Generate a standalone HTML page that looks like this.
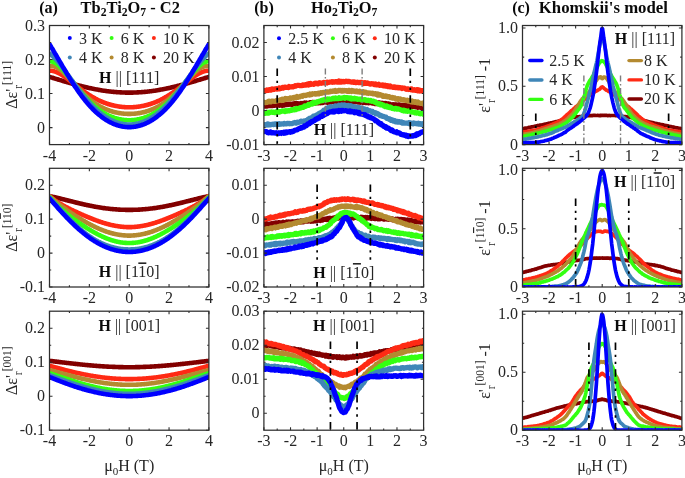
<!DOCTYPE html>
<html><head><meta charset="utf-8"><style>
html,body{margin:0;padding:0;background:#fff;width:685px;height:478px;overflow:hidden}
svg{display:block;will-change:transform}
text{font-family:"Liberation Serif", serif;fill:#262626}
text[font-weight=bold],tspan[font-weight=bold]{fill:#0a0a0a}
</style></head><body>
<svg width="685" height="478" viewBox="0 0 685 478">
<rect width="685" height="478" fill="#fff"/>
<clipPath id="cpa0"><rect x="49.5" y="25.5" width="159.4" height="119.1"/></clipPath>
<g clip-path="url(#cpa0)" fill="none" stroke-linejoin="round" stroke-linecap="round">
<polyline points="49.5,76.9 50.1,77.1 50.7,77.3 51.3,77.4 52.0,77.6 52.6,77.8 53.2,78.0 53.8,78.2 54.4,78.4 55.0,78.6 55.7,78.8 56.3,78.9 56.9,79.1 57.5,79.3 58.1,79.5 58.7,79.7 59.3,79.9 60.0,80.1 60.6,80.2 61.2,80.4 61.8,80.6 62.4,80.8 63.0,81.0 63.7,81.2 64.3,81.4 64.9,81.5 65.5,81.7 66.1,81.9 66.7,82.1 67.3,82.3 68.0,82.4 68.6,82.6 69.2,82.8 69.8,83.0 70.4,83.1 71.0,83.3 71.7,83.5 72.3,83.7 72.9,83.8 73.5,84.0 74.1,84.2 74.7,84.4 75.3,84.5 76.0,84.7 76.6,84.9 77.2,85.0 77.8,85.2 78.4,85.3 79.0,85.5 79.7,85.7 80.3,85.8 80.9,86.0 81.5,86.1 82.1,86.3 82.7,86.4 83.3,86.6 84.0,86.7 84.6,86.9 85.2,87.0 85.8,87.2 86.4,87.3 87.0,87.5 87.7,87.6 88.3,87.8 88.9,87.9 89.5,88.0 90.1,88.2 90.7,88.3 91.4,88.4 92.0,88.6 92.6,88.7 93.2,88.8 93.8,88.9 94.4,89.1 95.0,89.2 95.7,89.3 96.3,89.4 96.9,89.5 97.5,89.6 98.1,89.7 98.7,89.9 99.4,90.0 100.0,90.1 100.6,90.2 101.2,90.3 101.8,90.4 102.4,90.5 103.0,90.6 103.7,90.7 104.3,90.7 104.9,90.8 105.5,90.9 106.1,91.0 106.7,91.1 107.4,91.2 108.0,91.2 108.6,91.3 109.2,91.4 109.8,91.5 110.4,91.5 111.0,91.6 111.7,91.7 112.3,91.7 112.9,91.8 113.5,91.9 114.1,91.9 114.7,92.0 115.4,92.0 116.0,92.1 116.6,92.1 117.2,92.2 117.8,92.2 118.4,92.3 119.0,92.3 119.7,92.3 120.3,92.4 120.9,92.4 121.5,92.4 122.1,92.5 122.7,92.5 123.4,92.5 124.0,92.5 124.6,92.5 125.2,92.6 125.8,92.6 126.4,92.6 127.0,92.6 127.7,92.6 128.3,92.6 128.9,92.6 129.5,92.6 130.1,92.6 130.7,92.6 131.4,92.6 132.0,92.6 132.6,92.6 133.2,92.6 133.8,92.5 134.4,92.5 135.0,92.5 135.7,92.5 136.3,92.5 136.9,92.4 137.5,92.4 138.1,92.4 138.7,92.3 139.4,92.3 140.0,92.3 140.6,92.2 141.2,92.2 141.8,92.1 142.4,92.1 143.0,92.0 143.7,92.0 144.3,91.9 144.9,91.9 145.5,91.8 146.1,91.7 146.7,91.7 147.4,91.6 148.0,91.5 148.6,91.5 149.2,91.4 149.8,91.3 150.4,91.2 151.0,91.2 151.7,91.1 152.3,91.0 152.9,90.9 153.5,90.8 154.1,90.7 154.7,90.7 155.4,90.6 156.0,90.5 156.6,90.4 157.2,90.3 157.8,90.2 158.4,90.1 159.0,90.0 159.7,89.9 160.3,89.7 160.9,89.6 161.5,89.5 162.1,89.4 162.7,89.3 163.4,89.2 164.0,89.1 164.6,88.9 165.2,88.8 165.8,88.7 166.4,88.6 167.0,88.4 167.7,88.3 168.3,88.2 168.9,88.0 169.5,87.9 170.1,87.8 170.7,87.6 171.4,87.5 172.0,87.3 172.6,87.2 173.2,87.0 173.8,86.9 174.4,86.7 175.1,86.6 175.7,86.4 176.3,86.3 176.9,86.1 177.5,86.0 178.1,85.8 178.7,85.7 179.4,85.5 180.0,85.3 180.6,85.2 181.2,85.0 181.8,84.9 182.4,84.7 183.1,84.5 183.7,84.4 184.3,84.2 184.9,84.0 185.5,83.8 186.1,83.7 186.7,83.5 187.4,83.3 188.0,83.1 188.6,83.0 189.2,82.8 189.8,82.6 190.4,82.4 191.1,82.3 191.7,82.1 192.3,81.9 192.9,81.7 193.5,81.5 194.1,81.4 194.7,81.2 195.4,81.0 196.0,80.8 196.6,80.6 197.2,80.4 197.8,80.2 198.4,80.1 199.1,79.9 199.7,79.7 200.3,79.5 200.9,79.3 201.5,79.1 202.1,78.9 202.7,78.8 203.4,78.6 204.0,78.4 204.6,78.2 205.2,78.0 205.8,77.8 206.4,77.6 207.1,77.4 207.7,77.3 208.3,77.1 208.9,76.9" stroke="#820000" stroke-width="4.6"/>
<polyline points="49.5,70.8 50.1,70.7 50.7,70.7 51.3,70.8 52.0,70.8 52.6,70.9 53.2,71.1 53.8,71.2 54.4,71.4 55.0,71.6 55.7,71.8 56.3,72.0 56.9,72.3 57.5,72.6 58.1,72.8 58.7,73.2 59.3,73.5 60.0,73.8 60.6,74.2 61.2,74.5 61.8,74.9 62.4,75.3 63.0,75.7 63.7,76.1 64.3,76.6 64.9,77.0 65.5,77.4 66.1,77.9 66.7,78.3 67.3,78.8 68.0,79.2 68.6,79.7 69.2,80.2 69.8,80.7 70.4,81.1 71.0,81.6 71.7,82.1 72.3,82.6 72.9,83.0 73.5,83.5 74.1,84.0 74.7,84.5 75.3,85.0 76.0,85.5 76.6,85.9 77.2,86.4 77.8,86.9 78.4,87.4 79.0,87.8 79.7,88.3 80.3,88.8 80.9,89.2 81.5,89.7 82.1,90.1 82.7,90.6 83.3,91.0 84.0,91.5 84.6,91.9 85.2,92.3 85.8,92.7 86.4,93.2 87.0,93.6 87.7,94.0 88.3,94.4 88.9,94.8 89.5,95.2 90.1,95.6 90.7,95.9 91.4,96.3 92.0,96.7 92.6,97.0 93.2,97.4 93.8,97.7 94.4,98.1 95.0,98.4 95.7,98.8 96.3,99.1 96.9,99.4 97.5,99.7 98.1,100.0 98.7,100.3 99.4,100.6 100.0,100.9 100.6,101.1 101.2,101.4 101.8,101.7 102.4,101.9 103.0,102.2 103.7,102.4 104.3,102.7 104.9,102.9 105.5,103.1 106.1,103.3 106.7,103.6 107.4,103.8 108.0,104.0 108.6,104.2 109.2,104.3 109.8,104.5 110.4,104.7 111.0,104.9 111.7,105.0 112.3,105.2 112.9,105.3 113.5,105.5 114.1,105.6 114.7,105.8 115.4,105.9 116.0,106.0 116.6,106.1 117.2,106.2 117.8,106.3 118.4,106.4 119.0,106.5 119.7,106.6 120.3,106.7 120.9,106.8 121.5,106.8 122.1,106.9 122.7,107.0 123.4,107.0 124.0,107.1 124.6,107.1 125.2,107.2 125.8,107.2 126.4,107.2 127.0,107.2 127.7,107.3 128.3,107.3 128.9,107.3 129.5,107.3 130.1,107.3 130.7,107.3 131.4,107.2 132.0,107.2 132.6,107.2 133.2,107.2 133.8,107.1 134.4,107.1 135.0,107.0 135.7,107.0 136.3,106.9 136.9,106.8 137.5,106.8 138.1,106.7 138.7,106.6 139.4,106.5 140.0,106.4 140.6,106.3 141.2,106.2 141.8,106.1 142.4,106.0 143.0,105.9 143.7,105.8 144.3,105.6 144.9,105.5 145.5,105.3 146.1,105.2 146.7,105.0 147.4,104.9 148.0,104.7 148.6,104.5 149.2,104.3 149.8,104.2 150.4,104.0 151.0,103.8 151.7,103.6 152.3,103.3 152.9,103.1 153.5,102.9 154.1,102.7 154.7,102.4 155.4,102.2 156.0,101.9 156.6,101.7 157.2,101.4 157.8,101.1 158.4,100.9 159.0,100.6 159.7,100.3 160.3,100.0 160.9,99.7 161.5,99.4 162.1,99.1 162.7,98.8 163.4,98.4 164.0,98.1 164.6,97.7 165.2,97.4 165.8,97.0 166.4,96.7 167.0,96.3 167.7,95.9 168.3,95.6 168.9,95.2 169.5,94.8 170.1,94.4 170.7,94.0 171.4,93.6 172.0,93.2 172.6,92.7 173.2,92.3 173.8,91.9 174.4,91.5 175.1,91.0 175.7,90.6 176.3,90.1 176.9,89.7 177.5,89.2 178.1,88.8 178.7,88.3 179.4,87.8 180.0,87.4 180.6,86.9 181.2,86.4 181.8,85.9 182.4,85.5 183.1,85.0 183.7,84.5 184.3,84.0 184.9,83.5 185.5,83.0 186.1,82.6 186.7,82.1 187.4,81.6 188.0,81.1 188.6,80.7 189.2,80.2 189.8,79.7 190.4,79.2 191.1,78.8 191.7,78.3 192.3,77.9 192.9,77.4 193.5,77.0 194.1,76.6 194.7,76.1 195.4,75.7 196.0,75.3 196.6,74.9 197.2,74.5 197.8,74.2 198.4,73.8 199.1,73.5 199.7,73.2 200.3,72.8 200.9,72.6 201.5,72.3 202.1,72.0 202.7,71.8 203.4,71.6 204.0,71.4 204.6,71.2 205.2,71.1 205.8,70.9 206.4,70.8 207.1,70.8 207.7,70.7 208.3,70.7 208.9,70.8" stroke="#ff2a14" stroke-width="4.6"/>
<polyline points="49.5,66.3 50.1,66.2 50.7,66.1 51.3,66.0 52.0,66.0 52.6,66.0 53.2,66.1 53.8,66.3 54.4,66.4 55.0,66.7 55.7,66.9 56.3,67.2 56.9,67.5 57.5,67.9 58.1,68.2 58.7,68.6 59.3,69.1 60.0,69.5 60.6,70.0 61.2,70.5 61.8,71.0 62.4,71.6 63.0,72.1 63.7,72.7 64.3,73.3 64.9,73.9 65.5,74.5 66.1,75.1 66.7,75.7 67.3,76.4 68.0,77.0 68.6,77.7 69.2,78.4 69.8,79.0 70.4,79.7 71.0,80.4 71.7,81.0 72.3,81.7 72.9,82.4 73.5,83.1 74.1,83.7 74.7,84.4 75.3,85.1 76.0,85.8 76.6,86.4 77.2,87.1 77.8,87.7 78.4,88.4 79.0,89.0 79.7,89.7 80.3,90.3 80.9,91.0 81.5,91.6 82.1,92.2 82.7,92.8 83.3,93.4 84.0,94.0 84.6,94.6 85.2,95.2 85.8,95.8 86.4,96.3 87.0,96.9 87.7,97.4 88.3,98.0 88.9,98.5 89.5,99.0 90.1,99.5 90.7,100.0 91.4,100.5 92.0,101.0 92.6,101.4 93.2,101.9 93.8,102.3 94.4,102.8 95.0,103.2 95.7,103.6 96.3,104.1 96.9,104.5 97.5,104.8 98.1,105.2 98.7,105.6 99.4,106.0 100.0,106.3 100.6,106.7 101.2,107.0 101.8,107.3 102.4,107.6 103.0,107.9 103.7,108.2 104.3,108.5 104.9,108.8 105.5,109.1 106.1,109.3 106.7,109.6 107.4,109.8 108.0,110.1 108.6,110.3 109.2,110.5 109.8,110.7 110.4,111.0 111.0,111.1 111.7,111.3 112.3,111.5 112.9,111.7 113.5,111.9 114.1,112.0 114.7,112.2 115.4,112.3 116.0,112.5 116.6,112.6 117.2,112.7 117.8,112.8 118.4,112.9 119.0,113.1 119.7,113.1 120.3,113.2 120.9,113.3 121.5,113.4 122.1,113.5 122.7,113.5 123.4,113.6 124.0,113.7 124.6,113.7 125.2,113.7 125.8,113.8 126.4,113.8 127.0,113.8 127.7,113.9 128.3,113.9 128.9,113.9 129.5,113.9 130.1,113.9 130.7,113.9 131.4,113.8 132.0,113.8 132.6,113.8 133.2,113.7 133.8,113.7 134.4,113.7 135.0,113.6 135.7,113.5 136.3,113.5 136.9,113.4 137.5,113.3 138.1,113.2 138.7,113.1 139.4,113.1 140.0,112.9 140.6,112.8 141.2,112.7 141.8,112.6 142.4,112.5 143.0,112.3 143.7,112.2 144.3,112.0 144.9,111.9 145.5,111.7 146.1,111.5 146.7,111.3 147.4,111.1 148.0,111.0 148.6,110.7 149.2,110.5 149.8,110.3 150.4,110.1 151.0,109.8 151.7,109.6 152.3,109.3 152.9,109.1 153.5,108.8 154.1,108.5 154.7,108.2 155.4,107.9 156.0,107.6 156.6,107.3 157.2,107.0 157.8,106.7 158.4,106.3 159.0,106.0 159.7,105.6 160.3,105.2 160.9,104.8 161.5,104.5 162.1,104.1 162.7,103.6 163.4,103.2 164.0,102.8 164.6,102.3 165.2,101.9 165.8,101.4 166.4,101.0 167.0,100.5 167.7,100.0 168.3,99.5 168.9,99.0 169.5,98.5 170.1,98.0 170.7,97.4 171.4,96.9 172.0,96.3 172.6,95.8 173.2,95.2 173.8,94.6 174.4,94.0 175.1,93.4 175.7,92.8 176.3,92.2 176.9,91.6 177.5,91.0 178.1,90.3 178.7,89.7 179.4,89.0 180.0,88.4 180.6,87.7 181.2,87.1 181.8,86.4 182.4,85.8 183.1,85.1 183.7,84.4 184.3,83.7 184.9,83.1 185.5,82.4 186.1,81.7 186.7,81.0 187.4,80.4 188.0,79.7 188.6,79.0 189.2,78.4 189.8,77.7 190.4,77.0 191.1,76.4 191.7,75.7 192.3,75.1 192.9,74.5 193.5,73.9 194.1,73.3 194.7,72.7 195.4,72.1 196.0,71.6 196.6,71.0 197.2,70.5 197.8,70.0 198.4,69.5 199.1,69.1 199.7,68.6 200.3,68.2 200.9,67.9 201.5,67.5 202.1,67.2 202.7,66.9 203.4,66.7 204.0,66.4 204.6,66.3 205.2,66.1 205.8,66.0 206.4,66.0 207.1,66.0 207.7,66.1 208.3,66.2 208.9,66.3" stroke="#b48a30" stroke-width="4.6"/>
<polyline points="49.5,61.2 50.1,61.2 50.7,61.3 51.3,61.3 52.0,61.5 52.6,61.7 53.2,61.9 53.8,62.2 54.4,62.5 55.0,62.8 55.7,63.2 56.3,63.6 56.9,64.1 57.5,64.5 58.1,65.0 58.7,65.6 59.3,66.1 60.0,66.7 60.6,67.3 61.2,67.9 61.8,68.6 62.4,69.2 63.0,69.9 63.7,70.6 64.3,71.3 64.9,72.0 65.5,72.7 66.1,73.5 66.7,74.2 67.3,75.0 68.0,75.8 68.6,76.5 69.2,77.3 69.8,78.1 70.4,78.9 71.0,79.6 71.7,80.4 72.3,81.2 72.9,82.0 73.5,82.8 74.1,83.6 74.7,84.4 75.3,85.1 76.0,85.9 76.6,86.7 77.2,87.5 77.8,88.2 78.4,89.0 79.0,89.8 79.7,90.5 80.3,91.3 80.9,92.0 81.5,92.7 82.1,93.5 82.7,94.2 83.3,94.9 84.0,95.6 84.6,96.3 85.2,97.0 85.8,97.7 86.4,98.3 87.0,99.0 87.7,99.6 88.3,100.3 88.9,100.9 89.5,101.5 90.1,102.1 90.7,102.7 91.4,103.3 92.0,103.9 92.6,104.5 93.2,105.0 93.8,105.6 94.4,106.1 95.0,106.6 95.7,107.1 96.3,107.6 96.9,108.1 97.5,108.6 98.1,109.1 98.7,109.5 99.4,110.0 100.0,110.4 100.6,110.9 101.2,111.3 101.8,111.7 102.4,112.1 103.0,112.5 103.7,112.8 104.3,113.2 104.9,113.6 105.5,113.9 106.1,114.3 106.7,114.6 107.4,114.9 108.0,115.2 108.6,115.5 109.2,115.8 109.8,116.1 110.4,116.3 111.0,116.6 111.7,116.8 112.3,117.1 112.9,117.3 113.5,117.5 114.1,117.7 114.7,117.9 115.4,118.1 116.0,118.3 116.6,118.5 117.2,118.6 117.8,118.8 118.4,119.0 119.0,119.1 119.7,119.2 120.3,119.3 120.9,119.5 121.5,119.6 122.1,119.7 122.7,119.8 123.4,119.8 124.0,119.9 124.6,120.0 125.2,120.0 125.8,120.1 126.4,120.1 127.0,120.2 127.7,120.2 128.3,120.2 128.9,120.2 129.5,120.2 130.1,120.2 130.7,120.2 131.4,120.2 132.0,120.1 132.6,120.1 133.2,120.0 133.8,120.0 134.4,119.9 135.0,119.8 135.7,119.8 136.3,119.7 136.9,119.6 137.5,119.5 138.1,119.3 138.7,119.2 139.4,119.1 140.0,119.0 140.6,118.8 141.2,118.6 141.8,118.5 142.4,118.3 143.0,118.1 143.7,117.9 144.3,117.7 144.9,117.5 145.5,117.3 146.1,117.1 146.7,116.8 147.4,116.6 148.0,116.3 148.6,116.1 149.2,115.8 149.8,115.5 150.4,115.2 151.0,114.9 151.7,114.6 152.3,114.3 152.9,113.9 153.5,113.6 154.1,113.2 154.7,112.8 155.4,112.5 156.0,112.1 156.6,111.7 157.2,111.3 157.8,110.9 158.4,110.4 159.0,110.0 159.7,109.5 160.3,109.1 160.9,108.6 161.5,108.1 162.1,107.6 162.7,107.1 163.4,106.6 164.0,106.1 164.6,105.6 165.2,105.0 165.8,104.5 166.4,103.9 167.0,103.3 167.7,102.7 168.3,102.1 168.9,101.5 169.5,100.9 170.1,100.3 170.7,99.6 171.4,99.0 172.0,98.3 172.6,97.7 173.2,97.0 173.8,96.3 174.4,95.6 175.1,94.9 175.7,94.2 176.3,93.5 176.9,92.7 177.5,92.0 178.1,91.3 178.7,90.5 179.4,89.8 180.0,89.0 180.6,88.2 181.2,87.5 181.8,86.7 182.4,85.9 183.1,85.1 183.7,84.4 184.3,83.6 184.9,82.8 185.5,82.0 186.1,81.2 186.7,80.4 187.4,79.6 188.0,78.9 188.6,78.1 189.2,77.3 189.8,76.5 190.4,75.8 191.1,75.0 191.7,74.2 192.3,73.5 192.9,72.7 193.5,72.0 194.1,71.3 194.7,70.6 195.4,69.9 196.0,69.2 196.6,68.6 197.2,67.9 197.8,67.3 198.4,66.7 199.1,66.1 199.7,65.6 200.3,65.0 200.9,64.5 201.5,64.1 202.1,63.6 202.7,63.2 203.4,62.8 204.0,62.5 204.6,62.2 205.2,61.9 205.8,61.7 206.4,61.5 207.1,61.3 207.7,61.3 208.3,61.2 208.9,61.2" stroke="#33ff11" stroke-width="4.6"/>
<polyline points="49.5,53.4 50.1,53.9 50.7,54.3 51.3,54.8 52.0,55.4 52.6,55.9 53.2,56.5 53.8,57.1 54.4,57.7 55.0,58.4 55.7,59.0 56.3,59.7 56.9,60.4 57.5,61.1 58.1,61.9 58.7,62.6 59.3,63.4 60.0,64.2 60.6,64.9 61.2,65.7 61.8,66.5 62.4,67.3 63.0,68.2 63.7,69.0 64.3,69.8 64.9,70.7 65.5,71.5 66.1,72.4 66.7,73.2 67.3,74.1 68.0,74.9 68.6,75.8 69.2,76.6 69.8,77.5 70.4,78.4 71.0,79.2 71.7,80.1 72.3,80.9 72.9,81.8 73.5,82.6 74.1,83.5 74.7,84.3 75.3,85.2 76.0,86.0 76.6,86.9 77.2,87.7 77.8,88.5 78.4,89.3 79.0,90.1 79.7,90.9 80.3,91.7 80.9,92.5 81.5,93.3 82.1,94.1 82.7,94.9 83.3,95.6 84.0,96.4 84.6,97.1 85.2,97.9 85.8,98.6 86.4,99.3 87.0,100.1 87.7,100.8 88.3,101.5 88.9,102.1 89.5,102.8 90.1,103.5 90.7,104.1 91.4,104.8 92.0,105.4 92.6,106.1 93.2,106.7 93.8,107.3 94.4,107.9 95.0,108.5 95.7,109.0 96.3,109.6 96.9,110.2 97.5,110.7 98.1,111.3 98.7,111.8 99.4,112.3 100.0,112.8 100.6,113.3 101.2,113.8 101.8,114.2 102.4,114.7 103.0,115.2 103.7,115.6 104.3,116.0 104.9,116.4 105.5,116.8 106.1,117.2 106.7,117.6 107.4,118.0 108.0,118.4 108.6,118.7 109.2,119.1 109.8,119.4 110.4,119.7 111.0,120.0 111.7,120.3 112.3,120.6 112.9,120.9 113.5,121.2 114.1,121.4 114.7,121.7 115.4,121.9 116.0,122.1 116.6,122.4 117.2,122.6 117.8,122.8 118.4,123.0 119.0,123.1 119.7,123.3 120.3,123.4 120.9,123.6 121.5,123.7 122.1,123.8 122.7,124.0 123.4,124.1 124.0,124.2 124.6,124.2 125.2,124.3 125.8,124.4 126.4,124.4 127.0,124.5 127.7,124.5 128.3,124.5 128.9,124.5 129.5,124.5 130.1,124.5 130.7,124.5 131.4,124.5 132.0,124.4 132.6,124.4 133.2,124.3 133.8,124.2 134.4,124.2 135.0,124.1 135.7,124.0 136.3,123.8 136.9,123.7 137.5,123.6 138.1,123.4 138.7,123.3 139.4,123.1 140.0,123.0 140.6,122.8 141.2,122.6 141.8,122.4 142.4,122.1 143.0,121.9 143.7,121.7 144.3,121.4 144.9,121.2 145.5,120.9 146.1,120.6 146.7,120.3 147.4,120.0 148.0,119.7 148.6,119.4 149.2,119.1 149.8,118.7 150.4,118.4 151.0,118.0 151.7,117.6 152.3,117.2 152.9,116.8 153.5,116.4 154.1,116.0 154.7,115.6 155.4,115.2 156.0,114.7 156.6,114.2 157.2,113.8 157.8,113.3 158.4,112.8 159.0,112.3 159.7,111.8 160.3,111.3 160.9,110.7 161.5,110.2 162.1,109.6 162.7,109.0 163.4,108.5 164.0,107.9 164.6,107.3 165.2,106.7 165.8,106.1 166.4,105.4 167.0,104.8 167.7,104.1 168.3,103.5 168.9,102.8 169.5,102.1 170.1,101.5 170.7,100.8 171.4,100.1 172.0,99.3 172.6,98.6 173.2,97.9 173.8,97.1 174.4,96.4 175.1,95.6 175.7,94.9 176.3,94.1 176.9,93.3 177.5,92.5 178.1,91.7 178.7,90.9 179.4,90.1 180.0,89.3 180.6,88.5 181.2,87.7 181.8,86.9 182.4,86.0 183.1,85.2 183.7,84.3 184.3,83.5 184.9,82.6 185.5,81.8 186.1,80.9 186.7,80.1 187.4,79.2 188.0,78.4 188.6,77.5 189.2,76.6 189.8,75.8 190.4,74.9 191.1,74.1 191.7,73.2 192.3,72.4 192.9,71.5 193.5,70.7 194.1,69.8 194.7,69.0 195.4,68.2 196.0,67.3 196.6,66.5 197.2,65.7 197.8,64.9 198.4,64.2 199.1,63.4 199.7,62.6 200.3,61.9 200.9,61.1 201.5,60.4 202.1,59.7 202.7,59.0 203.4,58.4 204.0,57.7 204.6,57.1 205.2,56.5 205.8,55.9 206.4,55.4 207.1,54.8 207.7,54.3 208.3,53.9 208.9,53.4" stroke="#3f86b8" stroke-width="4.6"/>
<polyline points="49.5,44.3 50.1,45.3 50.7,46.3 51.3,47.3 52.0,48.3 52.6,49.3 53.2,50.3 53.8,51.4 54.4,52.4 55.0,53.4 55.7,54.5 56.3,55.5 56.9,56.6 57.5,57.7 58.1,58.7 58.7,59.8 59.3,60.8 60.0,61.9 60.6,62.9 61.2,64.0 61.8,65.0 62.4,66.1 63.0,67.1 63.7,68.2 64.3,69.2 64.9,70.3 65.5,71.3 66.1,72.3 66.7,73.4 67.3,74.4 68.0,75.4 68.6,76.4 69.2,77.4 69.8,78.4 70.4,79.4 71.0,80.4 71.7,81.3 72.3,82.3 72.9,83.3 73.5,84.2 74.1,85.2 74.7,86.1 75.3,87.0 76.0,87.9 76.6,88.8 77.2,89.7 77.8,90.6 78.4,91.5 79.0,92.4 79.7,93.2 80.3,94.1 80.9,94.9 81.5,95.8 82.1,96.6 82.7,97.4 83.3,98.2 84.0,99.0 84.6,99.7 85.2,100.5 85.8,101.3 86.4,102.0 87.0,102.7 87.7,103.5 88.3,104.2 88.9,104.9 89.5,105.6 90.1,106.3 90.7,106.9 91.4,107.6 92.0,108.2 92.6,108.9 93.2,109.5 93.8,110.1 94.4,110.7 95.0,111.3 95.7,111.9 96.3,112.4 96.9,113.0 97.5,113.5 98.1,114.1 98.7,114.6 99.4,115.1 100.0,115.6 100.6,116.1 101.2,116.6 101.8,117.0 102.4,117.5 103.0,117.9 103.7,118.4 104.3,118.8 104.9,119.2 105.5,119.6 106.1,120.0 106.7,120.4 107.4,120.7 108.0,121.1 108.6,121.5 109.2,121.8 109.8,122.1 110.4,122.4 111.0,122.7 111.7,123.0 112.3,123.3 112.9,123.6 113.5,123.9 114.1,124.1 114.7,124.4 115.4,124.6 116.0,124.8 116.6,125.0 117.2,125.2 117.8,125.4 118.4,125.6 119.0,125.8 119.7,125.9 120.3,126.1 120.9,126.2 121.5,126.3 122.1,126.5 122.7,126.6 123.4,126.7 124.0,126.8 124.6,126.8 125.2,126.9 125.8,127.0 126.4,127.0 127.0,127.1 127.7,127.1 128.3,127.1 128.9,127.1 129.5,127.1 130.1,127.1 130.7,127.1 131.4,127.1 132.0,127.0 132.6,127.0 133.2,126.9 133.8,126.8 134.4,126.8 135.0,126.7 135.7,126.6 136.3,126.5 136.9,126.3 137.5,126.2 138.1,126.1 138.7,125.9 139.4,125.8 140.0,125.6 140.6,125.4 141.2,125.2 141.8,125.0 142.4,124.8 143.0,124.6 143.7,124.4 144.3,124.1 144.9,123.9 145.5,123.6 146.1,123.3 146.7,123.0 147.4,122.7 148.0,122.4 148.6,122.1 149.2,121.8 149.8,121.5 150.4,121.1 151.0,120.7 151.7,120.4 152.3,120.0 152.9,119.6 153.5,119.2 154.1,118.8 154.7,118.4 155.4,117.9 156.0,117.5 156.6,117.0 157.2,116.6 157.8,116.1 158.4,115.6 159.0,115.1 159.7,114.6 160.3,114.1 160.9,113.5 161.5,113.0 162.1,112.4 162.7,111.9 163.4,111.3 164.0,110.7 164.6,110.1 165.2,109.5 165.8,108.9 166.4,108.2 167.0,107.6 167.7,106.9 168.3,106.3 168.9,105.6 169.5,104.9 170.1,104.2 170.7,103.5 171.4,102.7 172.0,102.0 172.6,101.3 173.2,100.5 173.8,99.7 174.4,99.0 175.1,98.2 175.7,97.4 176.3,96.6 176.9,95.8 177.5,94.9 178.1,94.1 178.7,93.2 179.4,92.4 180.0,91.5 180.6,90.6 181.2,89.7 181.8,88.8 182.4,87.9 183.1,87.0 183.7,86.1 184.3,85.2 184.9,84.2 185.5,83.3 186.1,82.3 186.7,81.3 187.4,80.4 188.0,79.4 188.6,78.4 189.2,77.4 189.8,76.4 190.4,75.4 191.1,74.4 191.7,73.4 192.3,72.3 192.9,71.3 193.5,70.3 194.1,69.2 194.7,68.2 195.4,67.1 196.0,66.1 196.6,65.0 197.2,64.0 197.8,62.9 198.4,61.9 199.1,60.8 199.7,59.8 200.3,58.7 200.9,57.7 201.5,56.6 202.1,55.5 202.7,54.5 203.4,53.4 204.0,52.4 204.6,51.4 205.2,50.3 205.8,49.3 206.4,48.3 207.1,47.3 207.7,46.3 208.3,45.3 208.9,44.3" stroke="#0000ff" stroke-width="4.6"/>
</g>
<clipPath id="cpa1"><rect x="49.5" y="168.3" width="159.4" height="118.69999999999999"/></clipPath>
<g clip-path="url(#cpa1)" fill="none" stroke-linejoin="round" stroke-linecap="round">
<polyline points="49.5,196.1 50.1,196.2 50.7,196.4 51.3,196.5 52.0,196.6 52.6,196.8 53.2,196.9 53.8,197.0 54.4,197.2 55.0,197.3 55.7,197.5 56.3,197.6 56.9,197.7 57.5,197.9 58.1,198.0 58.7,198.2 59.3,198.3 60.0,198.5 60.6,198.6 61.2,198.8 61.8,198.9 62.4,199.1 63.0,199.3 63.7,199.4 64.3,199.6 64.9,199.7 65.5,199.9 66.1,200.0 66.7,200.2 67.3,200.3 68.0,200.5 68.6,200.7 69.2,200.8 69.8,201.0 70.4,201.1 71.0,201.3 71.7,201.4 72.3,201.6 72.9,201.7 73.5,201.9 74.1,202.1 74.7,202.2 75.3,202.4 76.0,202.5 76.6,202.7 77.2,202.8 77.8,203.0 78.4,203.1 79.0,203.3 79.7,203.4 80.3,203.5 80.9,203.7 81.5,203.8 82.1,204.0 82.7,204.1 83.3,204.3 84.0,204.4 84.6,204.5 85.2,204.7 85.8,204.8 86.4,204.9 87.0,205.1 87.7,205.2 88.3,205.3 88.9,205.5 89.5,205.6 90.1,205.7 90.7,205.8 91.4,206.0 92.0,206.1 92.6,206.2 93.2,206.3 93.8,206.4 94.4,206.5 95.0,206.7 95.7,206.8 96.3,206.9 96.9,207.0 97.5,207.1 98.1,207.2 98.7,207.3 99.4,207.4 100.0,207.5 100.6,207.6 101.2,207.7 101.8,207.8 102.4,207.9 103.0,208.0 103.7,208.1 104.3,208.1 104.9,208.2 105.5,208.3 106.1,208.4 106.7,208.5 107.4,208.5 108.0,208.6 108.6,208.7 109.2,208.8 109.8,208.8 110.4,208.9 111.0,209.0 111.7,209.0 112.3,209.1 112.9,209.1 113.5,209.2 114.1,209.2 114.7,209.3 115.4,209.3 116.0,209.4 116.6,209.4 117.2,209.5 117.8,209.5 118.4,209.6 119.0,209.6 119.7,209.6 120.3,209.7 120.9,209.7 121.5,209.7 122.1,209.7 122.7,209.8 123.4,209.8 124.0,209.8 124.6,209.8 125.2,209.8 125.8,209.9 126.4,209.9 127.0,209.9 127.7,209.9 128.3,209.9 128.9,209.9 129.5,209.9 130.1,209.9 130.7,209.9 131.4,209.9 132.0,209.9 132.6,209.9 133.2,209.8 133.8,209.8 134.4,209.8 135.0,209.8 135.7,209.8 136.3,209.7 136.9,209.7 137.5,209.7 138.1,209.7 138.7,209.6 139.4,209.6 140.0,209.6 140.6,209.5 141.2,209.5 141.8,209.4 142.4,209.4 143.0,209.3 143.7,209.3 144.3,209.2 144.9,209.2 145.5,209.1 146.1,209.1 146.7,209.0 147.4,209.0 148.0,208.9 148.6,208.8 149.2,208.8 149.8,208.7 150.4,208.6 151.0,208.5 151.7,208.5 152.3,208.4 152.9,208.3 153.5,208.2 154.1,208.1 154.7,208.1 155.4,208.0 156.0,207.9 156.6,207.8 157.2,207.7 157.8,207.6 158.4,207.5 159.0,207.4 159.7,207.3 160.3,207.2 160.9,207.1 161.5,207.0 162.1,206.9 162.7,206.8 163.4,206.7 164.0,206.5 164.6,206.4 165.2,206.3 165.8,206.2 166.4,206.1 167.0,206.0 167.7,205.8 168.3,205.7 168.9,205.6 169.5,205.5 170.1,205.3 170.7,205.2 171.4,205.1 172.0,204.9 172.6,204.8 173.2,204.7 173.8,204.5 174.4,204.4 175.1,204.3 175.7,204.1 176.3,204.0 176.9,203.8 177.5,203.7 178.1,203.5 178.7,203.4 179.4,203.3 180.0,203.1 180.6,203.0 181.2,202.8 181.8,202.7 182.4,202.5 183.1,202.4 183.7,202.2 184.3,202.1 184.9,201.9 185.5,201.7 186.1,201.6 186.7,201.4 187.4,201.3 188.0,201.1 188.6,201.0 189.2,200.8 189.8,200.7 190.4,200.5 191.1,200.3 191.7,200.2 192.3,200.0 192.9,199.9 193.5,199.7 194.1,199.6 194.7,199.4 195.4,199.3 196.0,199.1 196.6,198.9 197.2,198.8 197.8,198.6 198.4,198.5 199.1,198.3 199.7,198.2 200.3,198.0 200.9,197.9 201.5,197.7 202.1,197.6 202.7,197.5 203.4,197.3 204.0,197.2 204.6,197.0 205.2,196.9 205.8,196.8 206.4,196.6 207.1,196.5 207.7,196.4 208.3,196.2 208.9,196.1" stroke="#820000" stroke-width="4.6"/>
<polyline points="49.5,196.1 50.1,196.6 50.7,197.1 51.3,197.6 52.0,198.1 52.6,198.6 53.2,199.0 53.8,199.5 54.4,199.9 55.0,200.4 55.7,200.8 56.3,201.2 56.9,201.6 57.5,202.0 58.1,202.4 58.7,202.8 59.3,203.2 60.0,203.5 60.6,203.9 61.2,204.3 61.8,204.6 62.4,205.0 63.0,205.3 63.7,205.7 64.3,206.0 64.9,206.3 65.5,206.7 66.1,207.0 66.7,207.3 67.3,207.6 68.0,208.0 68.6,208.3 69.2,208.6 69.8,208.9 70.4,209.2 71.0,209.5 71.7,209.8 72.3,210.1 72.9,210.4 73.5,210.7 74.1,211.0 74.7,211.3 75.3,211.6 76.0,211.8 76.6,212.1 77.2,212.4 77.8,212.7 78.4,213.0 79.0,213.3 79.7,213.5 80.3,213.8 80.9,214.1 81.5,214.4 82.1,214.6 82.7,214.9 83.3,215.2 84.0,215.4 84.6,215.7 85.2,216.0 85.8,216.2 86.4,216.5 87.0,216.7 87.7,217.0 88.3,217.3 88.9,217.5 89.5,217.8 90.1,218.0 90.7,218.3 91.4,218.5 92.0,218.7 92.6,219.0 93.2,219.2 93.8,219.5 94.4,219.7 95.0,219.9 95.7,220.2 96.3,220.4 96.9,220.6 97.5,220.8 98.1,221.1 98.7,221.3 99.4,221.5 100.0,221.7 100.6,221.9 101.2,222.1 101.8,222.3 102.4,222.5 103.0,222.7 103.7,222.9 104.3,223.1 104.9,223.3 105.5,223.5 106.1,223.6 106.7,223.8 107.4,224.0 108.0,224.1 108.6,224.3 109.2,224.5 109.8,224.6 110.4,224.8 111.0,224.9 111.7,225.1 112.3,225.2 112.9,225.3 113.5,225.5 114.1,225.6 114.7,225.7 115.4,225.8 116.0,225.9 116.6,226.0 117.2,226.1 117.8,226.2 118.4,226.3 119.0,226.4 119.7,226.5 120.3,226.6 120.9,226.6 121.5,226.7 122.1,226.8 122.7,226.8 123.4,226.9 124.0,226.9 124.6,227.0 125.2,227.0 125.8,227.0 126.4,227.1 127.0,227.1 127.7,227.1 128.3,227.1 128.9,227.1 129.5,227.1 130.1,227.1 130.7,227.1 131.4,227.1 132.0,227.1 132.6,227.0 133.2,227.0 133.8,227.0 134.4,226.9 135.0,226.9 135.7,226.8 136.3,226.8 136.9,226.7 137.5,226.6 138.1,226.6 138.7,226.5 139.4,226.4 140.0,226.3 140.6,226.2 141.2,226.1 141.8,226.0 142.4,225.9 143.0,225.8 143.7,225.7 144.3,225.6 144.9,225.5 145.5,225.3 146.1,225.2 146.7,225.1 147.4,224.9 148.0,224.8 148.6,224.6 149.2,224.5 149.8,224.3 150.4,224.1 151.0,224.0 151.7,223.8 152.3,223.6 152.9,223.5 153.5,223.3 154.1,223.1 154.7,222.9 155.4,222.7 156.0,222.5 156.6,222.3 157.2,222.1 157.8,221.9 158.4,221.7 159.0,221.5 159.7,221.3 160.3,221.1 160.9,220.8 161.5,220.6 162.1,220.4 162.7,220.2 163.4,219.9 164.0,219.7 164.6,219.5 165.2,219.2 165.8,219.0 166.4,218.7 167.0,218.5 167.7,218.3 168.3,218.0 168.9,217.8 169.5,217.5 170.1,217.3 170.7,217.0 171.4,216.7 172.0,216.5 172.6,216.2 173.2,216.0 173.8,215.7 174.4,215.4 175.1,215.2 175.7,214.9 176.3,214.6 176.9,214.4 177.5,214.1 178.1,213.8 178.7,213.5 179.4,213.3 180.0,213.0 180.6,212.7 181.2,212.4 181.8,212.1 182.4,211.8 183.1,211.6 183.7,211.3 184.3,211.0 184.9,210.7 185.5,210.4 186.1,210.1 186.7,209.8 187.4,209.5 188.0,209.2 188.6,208.9 189.2,208.6 189.8,208.3 190.4,208.0 191.1,207.6 191.7,207.3 192.3,207.0 192.9,206.7 193.5,206.3 194.1,206.0 194.7,205.7 195.4,205.3 196.0,205.0 196.6,204.6 197.2,204.3 197.8,203.9 198.4,203.5 199.1,203.2 199.7,202.8 200.3,202.4 200.9,202.0 201.5,201.6 202.1,201.2 202.7,200.8 203.4,200.4 204.0,199.9 204.6,199.5 205.2,199.0 205.8,198.6 206.4,198.1 207.1,197.6 207.7,197.1 208.3,196.6 208.9,196.1" stroke="#ff2a14" stroke-width="4.6"/>
<polyline points="49.5,196.4 50.1,197.0 50.7,197.5 51.3,198.0 52.0,198.6 52.6,199.1 53.2,199.6 53.8,200.1 54.4,200.6 55.0,201.1 55.7,201.6 56.3,202.1 56.9,202.6 57.5,203.0 58.1,203.5 58.7,204.0 59.3,204.5 60.0,204.9 60.6,205.4 61.2,205.9 61.8,206.3 62.4,206.8 63.0,207.2 63.7,207.7 64.3,208.1 64.9,208.6 65.5,209.0 66.1,209.5 66.7,209.9 67.3,210.3 68.0,210.8 68.6,211.2 69.2,211.6 69.8,212.0 70.4,212.5 71.0,212.9 71.7,213.3 72.3,213.7 72.9,214.1 73.5,214.5 74.1,214.9 74.7,215.3 75.3,215.7 76.0,216.1 76.6,216.5 77.2,216.9 77.8,217.3 78.4,217.7 79.0,218.1 79.7,218.5 80.3,218.8 80.9,219.2 81.5,219.6 82.1,219.9 82.7,220.3 83.3,220.7 84.0,221.0 84.6,221.4 85.2,221.7 85.8,222.1 86.4,222.4 87.0,222.8 87.7,223.1 88.3,223.5 88.9,223.8 89.5,224.1 90.1,224.4 90.7,224.8 91.4,225.1 92.0,225.4 92.6,225.7 93.2,226.0 93.8,226.3 94.4,226.6 95.0,226.9 95.7,227.2 96.3,227.5 96.9,227.8 97.5,228.1 98.1,228.3 98.7,228.6 99.4,228.9 100.0,229.1 100.6,229.4 101.2,229.6 101.8,229.9 102.4,230.1 103.0,230.4 103.7,230.6 104.3,230.8 104.9,231.1 105.5,231.3 106.1,231.5 106.7,231.7 107.4,231.9 108.0,232.1 108.6,232.3 109.2,232.5 109.8,232.7 110.4,232.8 111.0,233.0 111.7,233.2 112.3,233.3 112.9,233.5 113.5,233.7 114.1,233.8 114.7,233.9 115.4,234.1 116.0,234.2 116.6,234.3 117.2,234.4 117.8,234.6 118.4,234.7 119.0,234.8 119.7,234.9 120.3,234.9 120.9,235.0 121.5,235.1 122.1,235.2 122.7,235.2 123.4,235.3 124.0,235.4 124.6,235.4 125.2,235.4 125.8,235.5 126.4,235.5 127.0,235.5 127.7,235.6 128.3,235.6 128.9,235.6 129.5,235.6 130.1,235.6 130.7,235.6 131.4,235.5 132.0,235.5 132.6,235.5 133.2,235.4 133.8,235.4 134.4,235.4 135.0,235.3 135.7,235.2 136.3,235.2 136.9,235.1 137.5,235.0 138.1,234.9 138.7,234.9 139.4,234.8 140.0,234.7 140.6,234.6 141.2,234.4 141.8,234.3 142.4,234.2 143.0,234.1 143.7,233.9 144.3,233.8 144.9,233.7 145.5,233.5 146.1,233.3 146.7,233.2 147.4,233.0 148.0,232.8 148.6,232.7 149.2,232.5 149.8,232.3 150.4,232.1 151.0,231.9 151.7,231.7 152.3,231.5 152.9,231.3 153.5,231.1 154.1,230.8 154.7,230.6 155.4,230.4 156.0,230.1 156.6,229.9 157.2,229.6 157.8,229.4 158.4,229.1 159.0,228.9 159.7,228.6 160.3,228.3 160.9,228.1 161.5,227.8 162.1,227.5 162.7,227.2 163.4,226.9 164.0,226.6 164.6,226.3 165.2,226.0 165.8,225.7 166.4,225.4 167.0,225.1 167.7,224.8 168.3,224.4 168.9,224.1 169.5,223.8 170.1,223.5 170.7,223.1 171.4,222.8 172.0,222.4 172.6,222.1 173.2,221.7 173.8,221.4 174.4,221.0 175.1,220.7 175.7,220.3 176.3,219.9 176.9,219.6 177.5,219.2 178.1,218.8 178.7,218.5 179.4,218.1 180.0,217.7 180.6,217.3 181.2,216.9 181.8,216.5 182.4,216.1 183.1,215.7 183.7,215.3 184.3,214.9 184.9,214.5 185.5,214.1 186.1,213.7 186.7,213.3 187.4,212.9 188.0,212.5 188.6,212.0 189.2,211.6 189.8,211.2 190.4,210.8 191.1,210.3 191.7,209.9 192.3,209.5 192.9,209.0 193.5,208.6 194.1,208.1 194.7,207.7 195.4,207.2 196.0,206.8 196.6,206.3 197.2,205.9 197.8,205.4 198.4,204.9 199.1,204.5 199.7,204.0 200.3,203.5 200.9,203.0 201.5,202.6 202.1,202.1 202.7,201.6 203.4,201.1 204.0,200.6 204.6,200.1 205.2,199.6 205.8,199.1 206.4,198.6 207.1,198.0 207.7,197.5 208.3,197.0 208.9,196.4" stroke="#b48a30" stroke-width="4.6"/>
<polyline points="49.5,197.1 50.1,197.8 50.7,198.5 51.3,199.2 52.0,199.9 52.6,200.6 53.2,201.2 53.8,201.9 54.4,202.5 55.0,203.2 55.7,203.8 56.3,204.4 56.9,205.0 57.5,205.6 58.1,206.2 58.7,206.7 59.3,207.3 60.0,207.9 60.6,208.4 61.2,209.0 61.8,209.5 62.4,210.1 63.0,210.6 63.7,211.1 64.3,211.6 64.9,212.2 65.5,212.7 66.1,213.2 66.7,213.7 67.3,214.2 68.0,214.7 68.6,215.1 69.2,215.6 69.8,216.1 70.4,216.6 71.0,217.1 71.7,217.5 72.3,218.0 72.9,218.4 73.5,218.9 74.1,219.4 74.7,219.8 75.3,220.3 76.0,220.7 76.6,221.1 77.2,221.6 77.8,222.0 78.4,222.5 79.0,222.9 79.7,223.3 80.3,223.7 80.9,224.1 81.5,224.6 82.1,225.0 82.7,225.4 83.3,225.8 84.0,226.2 84.6,226.6 85.2,227.0 85.8,227.4 86.4,227.8 87.0,228.2 87.7,228.6 88.3,228.9 88.9,229.3 89.5,229.7 90.1,230.1 90.7,230.4 91.4,230.8 92.0,231.1 92.6,231.5 93.2,231.8 93.8,232.2 94.4,232.5 95.0,232.9 95.7,233.2 96.3,233.5 96.9,233.9 97.5,234.2 98.1,234.5 98.7,234.8 99.4,235.1 100.0,235.4 100.6,235.7 101.2,236.0 101.8,236.3 102.4,236.6 103.0,236.9 103.7,237.1 104.3,237.4 104.9,237.7 105.5,237.9 106.1,238.2 106.7,238.4 107.4,238.7 108.0,238.9 108.6,239.1 109.2,239.3 109.8,239.6 110.4,239.8 111.0,240.0 111.7,240.2 112.3,240.4 112.9,240.5 113.5,240.7 114.1,240.9 114.7,241.1 115.4,241.2 116.0,241.4 116.6,241.5 117.2,241.7 117.8,241.8 118.4,241.9 119.0,242.0 119.7,242.2 120.3,242.3 120.9,242.4 121.5,242.5 122.1,242.5 122.7,242.6 123.4,242.7 124.0,242.8 124.6,242.8 125.2,242.9 125.8,242.9 126.4,242.9 127.0,243.0 127.7,243.0 128.3,243.0 128.9,243.0 129.5,243.0 130.1,243.0 130.7,243.0 131.4,243.0 132.0,242.9 132.6,242.9 133.2,242.9 133.8,242.8 134.4,242.8 135.0,242.7 135.7,242.6 136.3,242.5 136.9,242.5 137.5,242.4 138.1,242.3 138.7,242.2 139.4,242.0 140.0,241.9 140.6,241.8 141.2,241.7 141.8,241.5 142.4,241.4 143.0,241.2 143.7,241.1 144.3,240.9 144.9,240.7 145.5,240.5 146.1,240.4 146.7,240.2 147.4,240.0 148.0,239.8 148.6,239.6 149.2,239.3 149.8,239.1 150.4,238.9 151.0,238.7 151.7,238.4 152.3,238.2 152.9,237.9 153.5,237.7 154.1,237.4 154.7,237.1 155.4,236.9 156.0,236.6 156.6,236.3 157.2,236.0 157.8,235.7 158.4,235.4 159.0,235.1 159.7,234.8 160.3,234.5 160.9,234.2 161.5,233.9 162.1,233.5 162.7,233.2 163.4,232.9 164.0,232.5 164.6,232.2 165.2,231.8 165.8,231.5 166.4,231.1 167.0,230.8 167.7,230.4 168.3,230.1 168.9,229.7 169.5,229.3 170.1,228.9 170.7,228.6 171.4,228.2 172.0,227.8 172.6,227.4 173.2,227.0 173.8,226.6 174.4,226.2 175.1,225.8 175.7,225.4 176.3,225.0 176.9,224.6 177.5,224.1 178.1,223.7 178.7,223.3 179.4,222.9 180.0,222.5 180.6,222.0 181.2,221.6 181.8,221.1 182.4,220.7 183.1,220.3 183.7,219.8 184.3,219.4 184.9,218.9 185.5,218.4 186.1,218.0 186.7,217.5 187.4,217.1 188.0,216.6 188.6,216.1 189.2,215.6 189.8,215.1 190.4,214.7 191.1,214.2 191.7,213.7 192.3,213.2 192.9,212.7 193.5,212.2 194.1,211.6 194.7,211.1 195.4,210.6 196.0,210.1 196.6,209.5 197.2,209.0 197.8,208.4 198.4,207.9 199.1,207.3 199.7,206.7 200.3,206.2 200.9,205.6 201.5,205.0 202.1,204.4 202.7,203.8 203.4,203.2 204.0,202.5 204.6,201.9 205.2,201.2 205.8,200.6 206.4,199.9 207.1,199.2 207.7,198.5 208.3,197.8 208.9,197.1" stroke="#33ff11" stroke-width="4.6"/>
<polyline points="49.5,197.8 50.1,198.5 50.7,199.1 51.3,199.8 52.0,200.4 52.6,201.1 53.2,201.8 53.8,202.5 54.4,203.1 55.0,203.8 55.7,204.5 56.3,205.2 56.9,205.8 57.5,206.5 58.1,207.2 58.7,207.9 59.3,208.5 60.0,209.2 60.6,209.9 61.2,210.5 61.8,211.2 62.4,211.9 63.0,212.5 63.7,213.2 64.3,213.8 64.9,214.5 65.5,215.1 66.1,215.8 66.7,216.4 67.3,217.0 68.0,217.7 68.6,218.3 69.2,218.9 69.8,219.5 70.4,220.2 71.0,220.8 71.7,221.4 72.3,222.0 72.9,222.6 73.5,223.2 74.1,223.7 74.7,224.3 75.3,224.9 76.0,225.4 76.6,226.0 77.2,226.6 77.8,227.1 78.4,227.6 79.0,228.2 79.7,228.7 80.3,229.2 80.9,229.7 81.5,230.3 82.1,230.8 82.7,231.3 83.3,231.7 84.0,232.2 84.6,232.7 85.2,233.2 85.8,233.6 86.4,234.1 87.0,234.5 87.7,235.0 88.3,235.4 88.9,235.9 89.5,236.3 90.1,236.7 90.7,237.1 91.4,237.5 92.0,237.9 92.6,238.3 93.2,238.7 93.8,239.0 94.4,239.4 95.0,239.8 95.7,240.1 96.3,240.5 96.9,240.8 97.5,241.1 98.1,241.5 98.7,241.8 99.4,242.1 100.0,242.4 100.6,242.7 101.2,243.0 101.8,243.3 102.4,243.6 103.0,243.8 103.7,244.1 104.3,244.4 104.9,244.6 105.5,244.9 106.1,245.1 106.7,245.3 107.4,245.6 108.0,245.8 108.6,246.0 109.2,246.2 109.8,246.4 110.4,246.6 111.0,246.8 111.7,247.0 112.3,247.1 112.9,247.3 113.5,247.5 114.1,247.6 114.7,247.8 115.4,247.9 116.0,248.0 116.6,248.2 117.2,248.3 117.8,248.4 118.4,248.5 119.0,248.6 119.7,248.7 120.3,248.8 120.9,248.9 121.5,249.0 122.1,249.1 122.7,249.1 123.4,249.2 124.0,249.2 124.6,249.3 125.2,249.3 125.8,249.4 126.4,249.4 127.0,249.4 127.7,249.4 128.3,249.5 128.9,249.5 129.5,249.5 130.1,249.5 130.7,249.4 131.4,249.4 132.0,249.4 132.6,249.4 133.2,249.3 133.8,249.3 134.4,249.2 135.0,249.2 135.7,249.1 136.3,249.1 136.9,249.0 137.5,248.9 138.1,248.8 138.7,248.7 139.4,248.6 140.0,248.5 140.6,248.4 141.2,248.3 141.8,248.2 142.4,248.0 143.0,247.9 143.7,247.8 144.3,247.6 144.9,247.5 145.5,247.3 146.1,247.1 146.7,247.0 147.4,246.8 148.0,246.6 148.6,246.4 149.2,246.2 149.8,246.0 150.4,245.8 151.0,245.6 151.7,245.3 152.3,245.1 152.9,244.9 153.5,244.6 154.1,244.4 154.7,244.1 155.4,243.8 156.0,243.6 156.6,243.3 157.2,243.0 157.8,242.7 158.4,242.4 159.0,242.1 159.7,241.8 160.3,241.5 160.9,241.1 161.5,240.8 162.1,240.5 162.7,240.1 163.4,239.8 164.0,239.4 164.6,239.0 165.2,238.7 165.8,238.3 166.4,237.9 167.0,237.5 167.7,237.1 168.3,236.7 168.9,236.3 169.5,235.9 170.1,235.4 170.7,235.0 171.4,234.5 172.0,234.1 172.6,233.6 173.2,233.2 173.8,232.7 174.4,232.2 175.1,231.7 175.7,231.3 176.3,230.8 176.9,230.3 177.5,229.7 178.1,229.2 178.7,228.7 179.4,228.2 180.0,227.6 180.6,227.1 181.2,226.6 181.8,226.0 182.4,225.4 183.1,224.9 183.7,224.3 184.3,223.7 184.9,223.2 185.5,222.6 186.1,222.0 186.7,221.4 187.4,220.8 188.0,220.2 188.6,219.5 189.2,218.9 189.8,218.3 190.4,217.7 191.1,217.0 191.7,216.4 192.3,215.8 192.9,215.1 193.5,214.5 194.1,213.8 194.7,213.2 195.4,212.5 196.0,211.9 196.6,211.2 197.2,210.5 197.8,209.9 198.4,209.2 199.1,208.5 199.7,207.9 200.3,207.2 200.9,206.5 201.5,205.8 202.1,205.2 202.7,204.5 203.4,203.8 204.0,203.1 204.6,202.5 205.2,201.8 205.8,201.1 206.4,200.4 207.1,199.8 207.7,199.1 208.3,198.5 208.9,197.8" stroke="#3f86b8" stroke-width="4.6"/>
<polyline points="49.5,198.5 50.1,199.2 50.7,199.9 51.3,200.6 52.0,201.3 52.6,202.0 53.2,202.7 53.8,203.3 54.4,204.0 55.0,204.7 55.7,205.4 56.3,206.1 56.9,206.8 57.5,207.5 58.1,208.2 58.7,208.9 59.3,209.6 60.0,210.2 60.6,210.9 61.2,211.6 61.8,212.3 62.4,212.9 63.0,213.6 63.7,214.3 64.3,214.9 64.9,215.6 65.5,216.2 66.1,216.9 66.7,217.5 67.3,218.2 68.0,218.8 68.6,219.4 69.2,220.1 69.8,220.7 70.4,221.3 71.0,221.9 71.7,222.5 72.3,223.1 72.9,223.7 73.5,224.3 74.1,224.9 74.7,225.5 75.3,226.1 76.0,226.7 76.6,227.2 77.2,227.8 77.8,228.3 78.4,228.9 79.0,229.4 79.7,230.0 80.3,230.5 80.9,231.0 81.5,231.6 82.1,232.1 82.7,232.6 83.3,233.1 84.0,233.6 84.6,234.1 85.2,234.6 85.8,235.0 86.4,235.5 87.0,236.0 87.7,236.4 88.3,236.9 88.9,237.3 89.5,237.8 90.1,238.2 90.7,238.7 91.4,239.1 92.0,239.5 92.6,239.9 93.2,240.3 93.8,240.7 94.4,241.1 95.0,241.5 95.7,241.8 96.3,242.2 96.9,242.6 97.5,242.9 98.1,243.3 98.7,243.6 99.4,243.9 100.0,244.3 100.6,244.6 101.2,244.9 101.8,245.2 102.4,245.5 103.0,245.8 103.7,246.1 104.3,246.4 104.9,246.6 105.5,246.9 106.1,247.2 106.7,247.4 107.4,247.7 108.0,247.9 108.6,248.1 109.2,248.4 109.8,248.6 110.4,248.8 111.0,249.0 111.7,249.2 112.3,249.4 112.9,249.6 113.5,249.7 114.1,249.9 114.7,250.1 115.4,250.2 116.0,250.4 116.6,250.5 117.2,250.7 117.8,250.8 118.4,250.9 119.0,251.0 119.7,251.1 120.3,251.2 120.9,251.3 121.5,251.4 122.1,251.5 122.7,251.6 123.4,251.7 124.0,251.7 124.6,251.8 125.2,251.8 125.8,251.9 126.4,251.9 127.0,251.9 127.7,251.9 128.3,252.0 128.9,252.0 129.5,252.0 130.1,252.0 130.7,251.9 131.4,251.9 132.0,251.9 132.6,251.9 133.2,251.8 133.8,251.8 134.4,251.7 135.0,251.7 135.7,251.6 136.3,251.5 136.9,251.4 137.5,251.3 138.1,251.2 138.7,251.1 139.4,251.0 140.0,250.9 140.6,250.8 141.2,250.7 141.8,250.5 142.4,250.4 143.0,250.2 143.7,250.1 144.3,249.9 144.9,249.7 145.5,249.6 146.1,249.4 146.7,249.2 147.4,249.0 148.0,248.8 148.6,248.6 149.2,248.4 149.8,248.1 150.4,247.9 151.0,247.7 151.7,247.4 152.3,247.2 152.9,246.9 153.5,246.6 154.1,246.4 154.7,246.1 155.4,245.8 156.0,245.5 156.6,245.2 157.2,244.9 157.8,244.6 158.4,244.3 159.0,243.9 159.7,243.6 160.3,243.3 160.9,242.9 161.5,242.6 162.1,242.2 162.7,241.8 163.4,241.5 164.0,241.1 164.6,240.7 165.2,240.3 165.8,239.9 166.4,239.5 167.0,239.1 167.7,238.7 168.3,238.2 168.9,237.8 169.5,237.3 170.1,236.9 170.7,236.4 171.4,236.0 172.0,235.5 172.6,235.0 173.2,234.6 173.8,234.1 174.4,233.6 175.1,233.1 175.7,232.6 176.3,232.1 176.9,231.6 177.5,231.0 178.1,230.5 178.7,230.0 179.4,229.4 180.0,228.9 180.6,228.3 181.2,227.8 181.8,227.2 182.4,226.7 183.1,226.1 183.7,225.5 184.3,224.9 184.9,224.3 185.5,223.7 186.1,223.1 186.7,222.5 187.4,221.9 188.0,221.3 188.6,220.7 189.2,220.1 189.8,219.4 190.4,218.8 191.1,218.2 191.7,217.5 192.3,216.9 192.9,216.2 193.5,215.6 194.1,214.9 194.7,214.3 195.4,213.6 196.0,212.9 196.6,212.3 197.2,211.6 197.8,210.9 198.4,210.2 199.1,209.6 199.7,208.9 200.3,208.2 200.9,207.5 201.5,206.8 202.1,206.1 202.7,205.4 203.4,204.7 204.0,204.0 204.6,203.3 205.2,202.7 205.8,202.0 206.4,201.3 207.1,200.6 207.7,199.9 208.3,199.2 208.9,198.5" stroke="#0000ff" stroke-width="4.6"/>
</g>
<clipPath id="cpa2"><rect x="49.5" y="311.2" width="159.4" height="119.0"/></clipPath>
<g clip-path="url(#cpa2)" fill="none" stroke-linejoin="round" stroke-linecap="round">
<polyline points="49.5,360.8 50.1,360.9 50.7,361.0 51.3,361.1 52.0,361.1 52.6,361.2 53.2,361.3 53.8,361.4 54.4,361.4 55.0,361.5 55.7,361.6 56.3,361.6 56.9,361.7 57.5,361.8 58.1,361.9 58.7,361.9 59.3,362.0 60.0,362.1 60.6,362.2 61.2,362.2 61.8,362.3 62.4,362.4 63.0,362.5 63.7,362.5 64.3,362.6 64.9,362.7 65.5,362.7 66.1,362.8 66.7,362.9 67.3,363.0 68.0,363.0 68.6,363.1 69.2,363.2 69.8,363.3 70.4,363.3 71.0,363.4 71.7,363.5 72.3,363.5 72.9,363.6 73.5,363.7 74.1,363.7 74.7,363.8 75.3,363.9 76.0,363.9 76.6,364.0 77.2,364.1 77.8,364.1 78.4,364.2 79.0,364.3 79.7,364.3 80.3,364.4 80.9,364.5 81.5,364.5 82.1,364.6 82.7,364.7 83.3,364.7 84.0,364.8 84.6,364.8 85.2,364.9 85.8,365.0 86.4,365.0 87.0,365.1 87.7,365.1 88.3,365.2 88.9,365.3 89.5,365.3 90.1,365.4 90.7,365.4 91.4,365.5 92.0,365.5 92.6,365.6 93.2,365.6 93.8,365.7 94.4,365.7 95.0,365.8 95.7,365.8 96.3,365.9 96.9,365.9 97.5,366.0 98.1,366.0 98.7,366.1 99.4,366.1 100.0,366.1 100.6,366.2 101.2,366.2 101.8,366.3 102.4,366.3 103.0,366.4 103.7,366.4 104.3,366.4 104.9,366.5 105.5,366.5 106.1,366.5 106.7,366.6 107.4,366.6 108.0,366.6 108.6,366.7 109.2,366.7 109.8,366.7 110.4,366.8 111.0,366.8 111.7,366.8 112.3,366.8 112.9,366.9 113.5,366.9 114.1,366.9 114.7,366.9 115.4,367.0 116.0,367.0 116.6,367.0 117.2,367.0 117.8,367.0 118.4,367.1 119.0,367.1 119.7,367.1 120.3,367.1 120.9,367.1 121.5,367.1 122.1,367.1 122.7,367.1 123.4,367.2 124.0,367.2 124.6,367.2 125.2,367.2 125.8,367.2 126.4,367.2 127.0,367.2 127.7,367.2 128.3,367.2 128.9,367.2 129.5,367.2 130.1,367.2 130.7,367.2 131.4,367.2 132.0,367.2 132.6,367.2 133.2,367.2 133.8,367.2 134.4,367.2 135.0,367.2 135.7,367.1 136.3,367.1 136.9,367.1 137.5,367.1 138.1,367.1 138.7,367.1 139.4,367.1 140.0,367.1 140.6,367.0 141.2,367.0 141.8,367.0 142.4,367.0 143.0,367.0 143.7,366.9 144.3,366.9 144.9,366.9 145.5,366.9 146.1,366.8 146.7,366.8 147.4,366.8 148.0,366.8 148.6,366.7 149.2,366.7 149.8,366.7 150.4,366.6 151.0,366.6 151.7,366.6 152.3,366.5 152.9,366.5 153.5,366.5 154.1,366.4 154.7,366.4 155.4,366.4 156.0,366.3 156.6,366.3 157.2,366.2 157.8,366.2 158.4,366.1 159.0,366.1 159.7,366.1 160.3,366.0 160.9,366.0 161.5,365.9 162.1,365.9 162.7,365.8 163.4,365.8 164.0,365.7 164.6,365.7 165.2,365.6 165.8,365.6 166.4,365.5 167.0,365.5 167.7,365.4 168.3,365.4 168.9,365.3 169.5,365.3 170.1,365.2 170.7,365.1 171.4,365.1 172.0,365.0 172.6,365.0 173.2,364.9 173.8,364.8 174.4,364.8 175.1,364.7 175.7,364.7 176.3,364.6 176.9,364.5 177.5,364.5 178.1,364.4 178.7,364.3 179.4,364.3 180.0,364.2 180.6,364.1 181.2,364.1 181.8,364.0 182.4,363.9 183.1,363.9 183.7,363.8 184.3,363.7 184.9,363.7 185.5,363.6 186.1,363.5 186.7,363.5 187.4,363.4 188.0,363.3 188.6,363.3 189.2,363.2 189.8,363.1 190.4,363.0 191.1,363.0 191.7,362.9 192.3,362.8 192.9,362.7 193.5,362.7 194.1,362.6 194.7,362.5 195.4,362.5 196.0,362.4 196.6,362.3 197.2,362.2 197.8,362.2 198.4,362.1 199.1,362.0 199.7,361.9 200.3,361.9 200.9,361.8 201.5,361.7 202.1,361.6 202.7,361.6 203.4,361.5 204.0,361.4 204.6,361.4 205.2,361.3 205.8,361.2 206.4,361.1 207.1,361.1 207.7,361.0 208.3,360.9 208.9,360.8" stroke="#820000" stroke-width="4.6"/>
<polyline points="49.5,365.7 50.1,365.9 50.7,366.1 51.3,366.2 52.0,366.4 52.6,366.6 53.2,366.8 53.8,366.9 54.4,367.1 55.0,367.3 55.7,367.5 56.3,367.6 56.9,367.8 57.5,368.0 58.1,368.1 58.7,368.3 59.3,368.5 60.0,368.6 60.6,368.8 61.2,369.0 61.8,369.1 62.4,369.3 63.0,369.5 63.7,369.6 64.3,369.8 64.9,369.9 65.5,370.1 66.1,370.3 66.7,370.4 67.3,370.6 68.0,370.7 68.6,370.9 69.2,371.0 69.8,371.2 70.4,371.3 71.0,371.5 71.7,371.6 72.3,371.8 72.9,371.9 73.5,372.1 74.1,372.2 74.7,372.4 75.3,372.5 76.0,372.7 76.6,372.8 77.2,372.9 77.8,373.1 78.4,373.2 79.0,373.3 79.7,373.5 80.3,373.6 80.9,373.7 81.5,373.9 82.1,374.0 82.7,374.1 83.3,374.2 84.0,374.4 84.6,374.5 85.2,374.6 85.8,374.7 86.4,374.8 87.0,375.0 87.7,375.1 88.3,375.2 88.9,375.3 89.5,375.4 90.1,375.5 90.7,375.6 91.4,375.7 92.0,375.8 92.6,376.0 93.2,376.1 93.8,376.2 94.4,376.3 95.0,376.4 95.7,376.4 96.3,376.5 96.9,376.6 97.5,376.7 98.1,376.8 98.7,376.9 99.4,377.0 100.0,377.1 100.6,377.2 101.2,377.2 101.8,377.3 102.4,377.4 103.0,377.5 103.7,377.5 104.3,377.6 104.9,377.7 105.5,377.8 106.1,377.8 106.7,377.9 107.4,378.0 108.0,378.0 108.6,378.1 109.2,378.1 109.8,378.2 110.4,378.3 111.0,378.3 111.7,378.4 112.3,378.4 112.9,378.5 113.5,378.5 114.1,378.6 114.7,378.6 115.4,378.6 116.0,378.7 116.6,378.7 117.2,378.8 117.8,378.8 118.4,378.8 119.0,378.9 119.7,378.9 120.3,378.9 120.9,378.9 121.5,379.0 122.1,379.0 122.7,379.0 123.4,379.0 124.0,379.0 124.6,379.0 125.2,379.1 125.8,379.1 126.4,379.1 127.0,379.1 127.7,379.1 128.3,379.1 128.9,379.1 129.5,379.1 130.1,379.1 130.7,379.1 131.4,379.1 132.0,379.1 132.6,379.1 133.2,379.1 133.8,379.0 134.4,379.0 135.0,379.0 135.7,379.0 136.3,379.0 136.9,379.0 137.5,378.9 138.1,378.9 138.7,378.9 139.4,378.9 140.0,378.8 140.6,378.8 141.2,378.8 141.8,378.7 142.4,378.7 143.0,378.6 143.7,378.6 144.3,378.6 144.9,378.5 145.5,378.5 146.1,378.4 146.7,378.4 147.4,378.3 148.0,378.3 148.6,378.2 149.2,378.1 149.8,378.1 150.4,378.0 151.0,378.0 151.7,377.9 152.3,377.8 152.9,377.8 153.5,377.7 154.1,377.6 154.7,377.5 155.4,377.5 156.0,377.4 156.6,377.3 157.2,377.2 157.8,377.2 158.4,377.1 159.0,377.0 159.7,376.9 160.3,376.8 160.9,376.7 161.5,376.6 162.1,376.5 162.7,376.4 163.4,376.4 164.0,376.3 164.6,376.2 165.2,376.1 165.8,376.0 166.4,375.8 167.0,375.7 167.7,375.6 168.3,375.5 168.9,375.4 169.5,375.3 170.1,375.2 170.7,375.1 171.4,375.0 172.0,374.8 172.6,374.7 173.2,374.6 173.8,374.5 174.4,374.4 175.1,374.2 175.7,374.1 176.3,374.0 176.9,373.9 177.5,373.7 178.1,373.6 178.7,373.5 179.4,373.3 180.0,373.2 180.6,373.1 181.2,372.9 181.8,372.8 182.4,372.7 183.1,372.5 183.7,372.4 184.3,372.2 184.9,372.1 185.5,371.9 186.1,371.8 186.7,371.6 187.4,371.5 188.0,371.3 188.6,371.2 189.2,371.0 189.8,370.9 190.4,370.7 191.1,370.6 191.7,370.4 192.3,370.3 192.9,370.1 193.5,369.9 194.1,369.8 194.7,369.6 195.4,369.5 196.0,369.3 196.6,369.1 197.2,369.0 197.8,368.8 198.4,368.6 199.1,368.5 199.7,368.3 200.3,368.1 200.9,368.0 201.5,367.8 202.1,367.6 202.7,367.5 203.4,367.3 204.0,367.1 204.6,366.9 205.2,366.8 205.8,366.6 206.4,366.4 207.1,366.2 207.7,366.1 208.3,365.9 208.9,365.7" stroke="#ff2a14" stroke-width="4.6"/>
<polyline points="49.5,370.1 50.1,370.2 50.7,370.4 51.3,370.6 52.0,370.7 52.6,370.9 53.2,371.1 53.8,371.2 54.4,371.4 55.0,371.5 55.7,371.7 56.3,371.9 56.9,372.0 57.5,372.2 58.1,372.4 58.7,372.5 59.3,372.7 60.0,372.9 60.6,373.0 61.2,373.2 61.8,373.4 62.4,373.5 63.0,373.7 63.7,373.9 64.3,374.0 64.9,374.2 65.5,374.4 66.1,374.5 66.7,374.7 67.3,374.9 68.0,375.0 68.6,375.2 69.2,375.4 69.8,375.5 70.4,375.7 71.0,375.9 71.7,376.0 72.3,376.2 72.9,376.3 73.5,376.5 74.1,376.7 74.7,376.8 75.3,377.0 76.0,377.1 76.6,377.3 77.2,377.4 77.8,377.6 78.4,377.8 79.0,377.9 79.7,378.1 80.3,378.2 80.9,378.4 81.5,378.5 82.1,378.7 82.7,378.8 83.3,378.9 84.0,379.1 84.6,379.2 85.2,379.4 85.8,379.5 86.4,379.6 87.0,379.8 87.7,379.9 88.3,380.1 88.9,380.2 89.5,380.3 90.1,380.5 90.7,380.6 91.4,380.7 92.0,380.8 92.6,381.0 93.2,381.1 93.8,381.2 94.4,381.3 95.0,381.4 95.7,381.5 96.3,381.7 96.9,381.8 97.5,381.9 98.1,382.0 98.7,382.1 99.4,382.2 100.0,382.3 100.6,382.4 101.2,382.5 101.8,382.6 102.4,382.7 103.0,382.8 103.7,382.9 104.3,383.0 104.9,383.1 105.5,383.1 106.1,383.2 106.7,383.3 107.4,383.4 108.0,383.5 108.6,383.5 109.2,383.6 109.8,383.7 110.4,383.8 111.0,383.8 111.7,383.9 112.3,384.0 112.9,384.0 113.5,384.1 114.1,384.1 114.7,384.2 115.4,384.2 116.0,384.3 116.6,384.3 117.2,384.4 117.8,384.4 118.4,384.5 119.0,384.5 119.7,384.5 120.3,384.6 120.9,384.6 121.5,384.6 122.1,384.7 122.7,384.7 123.4,384.7 124.0,384.7 124.6,384.7 125.2,384.8 125.8,384.8 126.4,384.8 127.0,384.8 127.7,384.8 128.3,384.8 128.9,384.8 129.5,384.8 130.1,384.8 130.7,384.8 131.4,384.8 132.0,384.8 132.6,384.8 133.2,384.8 133.8,384.7 134.4,384.7 135.0,384.7 135.7,384.7 136.3,384.7 136.9,384.6 137.5,384.6 138.1,384.6 138.7,384.5 139.4,384.5 140.0,384.5 140.6,384.4 141.2,384.4 141.8,384.3 142.4,384.3 143.0,384.2 143.7,384.2 144.3,384.1 144.9,384.1 145.5,384.0 146.1,384.0 146.7,383.9 147.4,383.8 148.0,383.8 148.6,383.7 149.2,383.6 149.8,383.5 150.4,383.5 151.0,383.4 151.7,383.3 152.3,383.2 152.9,383.1 153.5,383.1 154.1,383.0 154.7,382.9 155.4,382.8 156.0,382.7 156.6,382.6 157.2,382.5 157.8,382.4 158.4,382.3 159.0,382.2 159.7,382.1 160.3,382.0 160.9,381.9 161.5,381.8 162.1,381.7 162.7,381.5 163.4,381.4 164.0,381.3 164.6,381.2 165.2,381.1 165.8,381.0 166.4,380.8 167.0,380.7 167.7,380.6 168.3,380.5 168.9,380.3 169.5,380.2 170.1,380.1 170.7,379.9 171.4,379.8 172.0,379.6 172.6,379.5 173.2,379.4 173.8,379.2 174.4,379.1 175.1,378.9 175.7,378.8 176.3,378.7 176.9,378.5 177.5,378.4 178.1,378.2 178.7,378.1 179.4,377.9 180.0,377.8 180.6,377.6 181.2,377.4 181.8,377.3 182.4,377.1 183.1,377.0 183.7,376.8 184.3,376.7 184.9,376.5 185.5,376.3 186.1,376.2 186.7,376.0 187.4,375.9 188.0,375.7 188.6,375.5 189.2,375.4 189.8,375.2 190.4,375.0 191.1,374.9 191.7,374.7 192.3,374.5 192.9,374.4 193.5,374.2 194.1,374.0 194.7,373.9 195.4,373.7 196.0,373.5 196.6,373.4 197.2,373.2 197.8,373.0 198.4,372.9 199.1,372.7 199.7,372.5 200.3,372.4 200.9,372.2 201.5,372.0 202.1,371.9 202.7,371.7 203.4,371.5 204.0,371.4 204.6,371.2 205.2,371.1 205.8,370.9 206.4,370.7 207.1,370.6 207.7,370.4 208.3,370.2 208.9,370.1" stroke="#b48a30" stroke-width="4.6"/>
<polyline points="49.5,373.2 50.1,373.4 50.7,373.6 51.3,373.8 52.0,374.0 52.6,374.2 53.2,374.4 53.8,374.6 54.4,374.8 55.0,375.0 55.7,375.3 56.3,375.5 56.9,375.7 57.5,375.9 58.1,376.1 58.7,376.3 59.3,376.5 60.0,376.7 60.6,376.9 61.2,377.1 61.8,377.3 62.4,377.5 63.0,377.7 63.7,377.9 64.3,378.1 64.9,378.3 65.5,378.5 66.1,378.7 66.7,378.9 67.3,379.1 68.0,379.3 68.6,379.5 69.2,379.7 69.8,379.9 70.4,380.1 71.0,380.3 71.7,380.5 72.3,380.7 72.9,380.9 73.5,381.1 74.1,381.3 74.7,381.5 75.3,381.7 76.0,381.9 76.6,382.1 77.2,382.3 77.8,382.4 78.4,382.6 79.0,382.8 79.7,383.0 80.3,383.2 80.9,383.4 81.5,383.5 82.1,383.7 82.7,383.9 83.3,384.1 84.0,384.2 84.6,384.4 85.2,384.6 85.8,384.7 86.4,384.9 87.0,385.1 87.7,385.2 88.3,385.4 88.9,385.5 89.5,385.7 90.1,385.9 90.7,386.0 91.4,386.2 92.0,386.3 92.6,386.5 93.2,386.6 93.8,386.7 94.4,386.9 95.0,387.0 95.7,387.2 96.3,387.3 96.9,387.4 97.5,387.6 98.1,387.7 98.7,387.8 99.4,387.9 100.0,388.1 100.6,388.2 101.2,388.3 101.8,388.4 102.4,388.5 103.0,388.6 103.7,388.7 104.3,388.8 104.9,388.9 105.5,389.0 106.1,389.1 106.7,389.2 107.4,389.3 108.0,389.4 108.6,389.5 109.2,389.6 109.8,389.7 110.4,389.8 111.0,389.8 111.7,389.9 112.3,390.0 112.9,390.1 113.5,390.1 114.1,390.2 114.7,390.3 115.4,390.3 116.0,390.4 116.6,390.4 117.2,390.5 117.8,390.5 118.4,390.6 119.0,390.6 119.7,390.7 120.3,390.7 120.9,390.8 121.5,390.8 122.1,390.8 122.7,390.9 123.4,390.9 124.0,390.9 124.6,390.9 125.2,390.9 125.8,391.0 126.4,391.0 127.0,391.0 127.7,391.0 128.3,391.0 128.9,391.0 129.5,391.0 130.1,391.0 130.7,391.0 131.4,391.0 132.0,391.0 132.6,391.0 133.2,390.9 133.8,390.9 134.4,390.9 135.0,390.9 135.7,390.9 136.3,390.8 136.9,390.8 137.5,390.8 138.1,390.7 138.7,390.7 139.4,390.6 140.0,390.6 140.6,390.5 141.2,390.5 141.8,390.4 142.4,390.4 143.0,390.3 143.7,390.3 144.3,390.2 144.9,390.1 145.5,390.1 146.1,390.0 146.7,389.9 147.4,389.8 148.0,389.8 148.6,389.7 149.2,389.6 149.8,389.5 150.4,389.4 151.0,389.3 151.7,389.2 152.3,389.1 152.9,389.0 153.5,388.9 154.1,388.8 154.7,388.7 155.4,388.6 156.0,388.5 156.6,388.4 157.2,388.3 157.8,388.2 158.4,388.1 159.0,387.9 159.7,387.8 160.3,387.7 160.9,387.6 161.5,387.4 162.1,387.3 162.7,387.2 163.4,387.0 164.0,386.9 164.6,386.7 165.2,386.6 165.8,386.5 166.4,386.3 167.0,386.2 167.7,386.0 168.3,385.9 168.9,385.7 169.5,385.5 170.1,385.4 170.7,385.2 171.4,385.1 172.0,384.9 172.6,384.7 173.2,384.6 173.8,384.4 174.4,384.2 175.1,384.1 175.7,383.9 176.3,383.7 176.9,383.5 177.5,383.4 178.1,383.2 178.7,383.0 179.4,382.8 180.0,382.6 180.6,382.4 181.2,382.3 181.8,382.1 182.4,381.9 183.1,381.7 183.7,381.5 184.3,381.3 184.9,381.1 185.5,380.9 186.1,380.7 186.7,380.5 187.4,380.3 188.0,380.1 188.6,379.9 189.2,379.7 189.8,379.5 190.4,379.3 191.1,379.1 191.7,378.9 192.3,378.7 192.9,378.5 193.5,378.3 194.1,378.1 194.7,377.9 195.4,377.7 196.0,377.5 196.6,377.3 197.2,377.1 197.8,376.9 198.4,376.7 199.1,376.5 199.7,376.3 200.3,376.1 200.9,375.9 201.5,375.7 202.1,375.5 202.7,375.3 203.4,375.0 204.0,374.8 204.6,374.6 205.2,374.4 205.8,374.2 206.4,374.0 207.1,373.8 207.7,373.6 208.3,373.4 208.9,373.2" stroke="#33ff11" stroke-width="4.6"/>
<polyline points="49.5,375.1 50.1,375.3 50.7,375.6 51.3,375.8 52.0,376.0 52.6,376.3 53.2,376.5 53.8,376.7 54.4,376.9 55.0,377.2 55.7,377.4 56.3,377.6 56.9,377.8 57.5,378.1 58.1,378.3 58.7,378.5 59.3,378.7 60.0,379.0 60.6,379.2 61.2,379.4 61.8,379.6 62.4,379.8 63.0,380.1 63.7,380.3 64.3,380.5 64.9,380.7 65.5,380.9 66.1,381.2 66.7,381.4 67.3,381.6 68.0,381.8 68.6,382.0 69.2,382.2 69.8,382.4 70.4,382.6 71.0,382.8 71.7,383.1 72.3,383.3 72.9,383.5 73.5,383.7 74.1,383.9 74.7,384.1 75.3,384.3 76.0,384.5 76.6,384.7 77.2,384.9 77.8,385.1 78.4,385.2 79.0,385.4 79.7,385.6 80.3,385.8 80.9,386.0 81.5,386.2 82.1,386.4 82.7,386.5 83.3,386.7 84.0,386.9 84.6,387.1 85.2,387.3 85.8,387.4 86.4,387.6 87.0,387.8 87.7,387.9 88.3,388.1 88.9,388.3 89.5,388.4 90.1,388.6 90.7,388.7 91.4,388.9 92.0,389.0 92.6,389.2 93.2,389.3 93.8,389.5 94.4,389.6 95.0,389.8 95.7,389.9 96.3,390.1 96.9,390.2 97.5,390.3 98.1,390.5 98.7,390.6 99.4,390.7 100.0,390.8 100.6,391.0 101.2,391.1 101.8,391.2 102.4,391.3 103.0,391.4 103.7,391.5 104.3,391.6 104.9,391.7 105.5,391.8 106.1,391.9 106.7,392.0 107.4,392.1 108.0,392.2 108.6,392.3 109.2,392.4 109.8,392.5 110.4,392.6 111.0,392.6 111.7,392.7 112.3,392.8 112.9,392.9 113.5,392.9 114.1,393.0 114.7,393.1 115.4,393.1 116.0,393.2 116.6,393.3 117.2,393.3 117.8,393.4 118.4,393.4 119.0,393.5 119.7,393.5 120.3,393.5 120.9,393.6 121.5,393.6 122.1,393.6 122.7,393.7 123.4,393.7 124.0,393.7 124.6,393.7 125.2,393.8 125.8,393.8 126.4,393.8 127.0,393.8 127.7,393.8 128.3,393.8 128.9,393.8 129.5,393.8 130.1,393.8 130.7,393.8 131.4,393.8 132.0,393.8 132.6,393.8 133.2,393.8 133.8,393.7 134.4,393.7 135.0,393.7 135.7,393.7 136.3,393.6 136.9,393.6 137.5,393.6 138.1,393.5 138.7,393.5 139.4,393.5 140.0,393.4 140.6,393.4 141.2,393.3 141.8,393.3 142.4,393.2 143.0,393.1 143.7,393.1 144.3,393.0 144.9,392.9 145.5,392.9 146.1,392.8 146.7,392.7 147.4,392.6 148.0,392.6 148.6,392.5 149.2,392.4 149.8,392.3 150.4,392.2 151.0,392.1 151.7,392.0 152.3,391.9 152.9,391.8 153.5,391.7 154.1,391.6 154.7,391.5 155.4,391.4 156.0,391.3 156.6,391.2 157.2,391.1 157.8,391.0 158.4,390.8 159.0,390.7 159.7,390.6 160.3,390.5 160.9,390.3 161.5,390.2 162.1,390.1 162.7,389.9 163.4,389.8 164.0,389.6 164.6,389.5 165.2,389.3 165.8,389.2 166.4,389.0 167.0,388.9 167.7,388.7 168.3,388.6 168.9,388.4 169.5,388.3 170.1,388.1 170.7,387.9 171.4,387.8 172.0,387.6 172.6,387.4 173.2,387.3 173.8,387.1 174.4,386.9 175.1,386.7 175.7,386.5 176.3,386.4 176.9,386.2 177.5,386.0 178.1,385.8 178.7,385.6 179.4,385.4 180.0,385.2 180.6,385.1 181.2,384.9 181.8,384.7 182.4,384.5 183.1,384.3 183.7,384.1 184.3,383.9 184.9,383.7 185.5,383.5 186.1,383.3 186.7,383.1 187.4,382.8 188.0,382.6 188.6,382.4 189.2,382.2 189.8,382.0 190.4,381.8 191.1,381.6 191.7,381.4 192.3,381.2 192.9,380.9 193.5,380.7 194.1,380.5 194.7,380.3 195.4,380.1 196.0,379.8 196.6,379.6 197.2,379.4 197.8,379.2 198.4,379.0 199.1,378.7 199.7,378.5 200.3,378.3 200.9,378.1 201.5,377.8 202.1,377.6 202.7,377.4 203.4,377.2 204.0,376.9 204.6,376.7 205.2,376.5 205.8,376.3 206.4,376.0 207.1,375.8 207.7,375.6 208.3,375.3 208.9,375.1" stroke="#3f86b8" stroke-width="4.6"/>
<polyline points="49.5,377.0 50.1,377.2 50.7,377.5 51.3,377.7 52.0,378.0 52.6,378.2 53.2,378.5 53.8,378.7 54.4,379.0 55.0,379.2 55.7,379.5 56.3,379.7 56.9,380.0 57.5,380.2 58.1,380.4 58.7,380.7 59.3,380.9 60.0,381.2 60.6,381.4 61.2,381.6 61.8,381.9 62.4,382.1 63.0,382.3 63.7,382.6 64.3,382.8 64.9,383.0 65.5,383.2 66.1,383.5 66.7,383.7 67.3,383.9 68.0,384.1 68.6,384.4 69.2,384.6 69.8,384.8 70.4,385.0 71.0,385.2 71.7,385.4 72.3,385.6 72.9,385.9 73.5,386.1 74.1,386.3 74.7,386.5 75.3,386.7 76.0,386.9 76.6,387.1 77.2,387.3 77.8,387.5 78.4,387.7 79.0,387.9 79.7,388.0 80.3,388.2 80.9,388.4 81.5,388.6 82.1,388.8 82.7,389.0 83.3,389.2 84.0,389.3 84.6,389.5 85.2,389.7 85.8,389.8 86.4,390.0 87.0,390.2 87.7,390.4 88.3,390.5 88.9,390.7 89.5,390.8 90.1,391.0 90.7,391.1 91.4,391.3 92.0,391.4 92.6,391.6 93.2,391.7 93.8,391.9 94.4,392.0 95.0,392.2 95.7,392.3 96.3,392.4 96.9,392.6 97.5,392.7 98.1,392.8 98.7,393.0 99.4,393.1 100.0,393.2 100.6,393.3 101.2,393.4 101.8,393.5 102.4,393.7 103.0,393.8 103.7,393.9 104.3,394.0 104.9,394.1 105.5,394.2 106.1,394.3 106.7,394.4 107.4,394.5 108.0,394.6 108.6,394.6 109.2,394.7 109.8,394.8 110.4,394.9 111.0,395.0 111.7,395.0 112.3,395.1 112.9,395.2 113.5,395.3 114.1,395.3 114.7,395.4 115.4,395.4 116.0,395.5 116.6,395.6 117.2,395.6 117.8,395.7 118.4,395.7 119.0,395.7 119.7,395.8 120.3,395.8 120.9,395.9 121.5,395.9 122.1,395.9 122.7,396.0 123.4,396.0 124.0,396.0 124.6,396.0 125.2,396.0 125.8,396.1 126.4,396.1 127.0,396.1 127.7,396.1 128.3,396.1 128.9,396.1 129.5,396.1 130.1,396.1 130.7,396.1 131.4,396.1 132.0,396.1 132.6,396.1 133.2,396.0 133.8,396.0 134.4,396.0 135.0,396.0 135.7,396.0 136.3,395.9 136.9,395.9 137.5,395.9 138.1,395.8 138.7,395.8 139.4,395.7 140.0,395.7 140.6,395.7 141.2,395.6 141.8,395.6 142.4,395.5 143.0,395.4 143.7,395.4 144.3,395.3 144.9,395.3 145.5,395.2 146.1,395.1 146.7,395.0 147.4,395.0 148.0,394.9 148.6,394.8 149.2,394.7 149.8,394.6 150.4,394.6 151.0,394.5 151.7,394.4 152.3,394.3 152.9,394.2 153.5,394.1 154.1,394.0 154.7,393.9 155.4,393.8 156.0,393.7 156.6,393.5 157.2,393.4 157.8,393.3 158.4,393.2 159.0,393.1 159.7,393.0 160.3,392.8 160.9,392.7 161.5,392.6 162.1,392.4 162.7,392.3 163.4,392.2 164.0,392.0 164.6,391.9 165.2,391.7 165.8,391.6 166.4,391.4 167.0,391.3 167.7,391.1 168.3,391.0 168.9,390.8 169.5,390.7 170.1,390.5 170.7,390.4 171.4,390.2 172.0,390.0 172.6,389.8 173.2,389.7 173.8,389.5 174.4,389.3 175.1,389.2 175.7,389.0 176.3,388.8 176.9,388.6 177.5,388.4 178.1,388.2 178.7,388.0 179.4,387.9 180.0,387.7 180.6,387.5 181.2,387.3 181.8,387.1 182.4,386.9 183.1,386.7 183.7,386.5 184.3,386.3 184.9,386.1 185.5,385.9 186.1,385.6 186.7,385.4 187.4,385.2 188.0,385.0 188.6,384.8 189.2,384.6 189.8,384.4 190.4,384.1 191.1,383.9 191.7,383.7 192.3,383.5 192.9,383.2 193.5,383.0 194.1,382.8 194.7,382.6 195.4,382.3 196.0,382.1 196.6,381.9 197.2,381.6 197.8,381.4 198.4,381.2 199.1,380.9 199.7,380.7 200.3,380.4 200.9,380.2 201.5,380.0 202.1,379.7 202.7,379.5 203.4,379.2 204.0,379.0 204.6,378.7 205.2,378.5 205.8,378.2 206.4,378.0 207.1,377.7 207.7,377.5 208.3,377.2 208.9,377.0" stroke="#0000ff" stroke-width="4.6"/>
</g>
<clipPath id="cpb0"><rect x="263.9" y="25.5" width="159.70000000000005" height="119.1"/></clipPath>
<g clip-path="url(#cpb0)" fill="none" stroke-linejoin="round" stroke-linecap="round">
<polyline points="263.9,106.0 264.5,106.2 265.1,105.7 265.7,105.9 266.4,106.2 267.0,106.2 267.6,105.3 268.2,105.4 268.8,105.2 269.4,105.6 270.1,105.1 270.7,105.5 271.3,105.7 271.9,105.2 272.5,105.6 273.1,105.5 273.8,104.8 274.4,105.4 275.0,105.0 275.6,105.1 276.2,105.0 276.8,105.4 277.5,105.0 278.1,104.7 278.7,105.1 279.3,105.3 279.9,104.7 280.5,104.6 281.2,104.8 281.8,105.3 282.4,105.3 283.0,105.0 283.6,105.2 284.2,105.1 284.9,104.5 285.5,104.2 286.1,104.7 286.7,104.6 287.3,104.3 287.9,104.1 288.6,104.3 289.2,104.3 289.8,104.1 290.4,104.1 291.0,104.2 291.6,104.6 292.3,104.3 292.9,103.9 293.5,103.9 294.1,104.0 294.7,103.7 295.3,103.7 296.0,104.0 296.6,103.4 297.2,103.8 297.8,103.7 298.4,104.0 299.0,104.0 299.7,103.9 300.3,103.9 300.9,103.5 301.5,103.8 302.1,103.4 302.7,103.6 303.4,103.3 304.0,103.4 304.6,102.9 305.2,103.1 305.8,103.8 306.4,103.0 307.1,103.4 307.7,103.4 308.3,103.4 308.9,103.1 309.5,103.2 310.1,102.6 310.8,102.5 311.4,102.6 312.0,102.5 312.6,102.4 313.2,102.4 313.8,102.9 314.5,102.4 315.1,103.2 315.7,102.9 316.3,102.7 316.9,102.9 317.5,102.3 318.2,103.0 318.8,102.9 319.4,102.7 320.0,102.4 320.6,102.8 321.2,102.6 321.9,102.5 322.5,102.7 323.1,102.4 323.7,102.0 324.3,102.2 324.9,101.8 325.6,101.7 326.2,102.2 326.8,102.3 327.4,102.4 328.0,102.3 328.6,101.9 329.3,101.3 329.9,101.7 330.5,102.2 331.1,102.0 331.7,101.6 332.3,101.5 333.0,101.2 333.6,101.1 334.2,101.0 334.8,101.9 335.4,101.6 336.0,101.0 336.7,101.3 337.3,100.8 337.9,101.0 338.5,101.5 339.1,101.4 339.7,101.2 340.4,101.0 341.0,101.4 341.6,101.7 342.2,101.1 342.8,100.7 343.4,100.7 344.1,100.7 344.7,101.7 345.3,101.2 345.9,101.6 346.5,100.8 347.1,101.0 347.8,101.4 348.4,101.7 349.0,101.1 349.6,100.8 350.2,101.7 350.8,101.1 351.5,101.6 352.1,101.0 352.7,101.6 353.3,101.8 353.9,101.7 354.5,101.4 355.2,101.8 355.8,101.2 356.4,101.4 357.0,101.6 357.6,102.1 358.2,101.4 358.9,102.2 359.5,102.2 360.1,102.4 360.7,101.8 361.3,101.6 361.9,101.7 362.6,102.4 363.2,102.6 363.8,102.4 364.4,102.2 365.0,102.0 365.6,102.6 366.3,102.7 366.9,101.9 367.5,102.1 368.1,102.8 368.7,102.9 369.3,102.3 370.0,102.3 370.6,102.5 371.2,102.7 371.8,102.3 372.4,103.1 373.0,102.9 373.7,103.2 374.3,102.6 374.9,103.5 375.5,103.3 376.1,102.9 376.7,103.6 377.4,103.4 378.0,103.6 378.6,102.8 379.2,102.9 379.8,103.7 380.4,103.3 381.1,103.6 381.7,103.3 382.3,104.3 382.9,103.8 383.5,104.2 384.1,103.5 384.8,104.0 385.4,103.6 386.0,104.6 386.6,104.1 387.2,103.8 387.8,103.9 388.5,104.4 389.1,104.0 389.7,104.2 390.3,104.5 390.9,104.7 391.5,104.8 392.2,104.9 392.8,104.7 393.4,105.0 394.0,104.6 394.6,104.8 395.2,105.4 395.9,104.8 396.5,104.9 397.1,105.0 397.7,105.3 398.3,104.8 398.9,104.9 399.6,105.4 400.2,105.1 400.8,105.7 401.4,105.9 402.0,105.7 402.6,105.9 403.3,105.6 403.9,105.3 404.5,105.8 405.1,105.7 405.7,106.0 406.3,105.6 407.0,105.7 407.6,106.4 408.2,105.8 408.8,106.0 409.4,106.7 410.0,106.0 410.7,105.9 411.3,106.5 411.9,106.4 412.5,106.5 413.1,105.9 413.7,106.4 414.4,106.0 415.0,106.3 415.6,106.8 416.2,106.2 416.8,106.5 417.4,107.3 418.1,107.3 418.7,106.8 419.3,107.1 419.9,107.0 420.5,106.9 421.1,107.4 421.8,106.7 422.4,107.4 423.0,106.6 423.6,107.6" stroke="#820000" stroke-width="5.2"/>
<polyline points="263.9,90.8 264.5,90.5 265.1,90.7 265.7,90.3 266.4,90.6 267.0,89.8 267.6,90.1 268.2,90.4 268.8,90.4 269.4,89.5 270.1,89.5 270.7,90.1 271.3,89.4 271.9,89.0 272.5,89.6 273.1,89.2 273.8,89.5 274.4,89.1 275.0,89.0 275.6,88.8 276.2,88.6 276.8,89.2 277.5,88.8 278.1,88.9 278.7,88.9 279.3,88.1 279.9,88.8 280.5,88.6 281.2,88.1 281.8,88.1 282.4,87.5 283.0,88.1 283.6,87.4 284.2,87.7 284.9,87.2 285.5,87.0 286.1,87.5 286.7,87.3 287.3,87.4 287.9,87.5 288.6,87.6 289.2,86.5 289.8,87.1 290.4,86.9 291.0,86.9 291.6,86.7 292.3,86.6 292.9,86.9 293.5,86.4 294.1,86.4 294.7,86.4 295.3,85.7 296.0,86.0 296.6,85.5 297.2,85.5 297.8,85.3 298.4,85.4 299.0,85.3 299.7,85.6 300.3,85.5 300.9,85.7 301.5,85.3 302.1,85.6 302.7,85.0 303.4,85.3 304.0,85.0 304.6,85.0 305.2,84.6 305.8,85.2 306.4,84.9 307.1,84.2 307.7,84.5 308.3,85.0 308.9,83.8 309.5,84.1 310.1,84.5 310.8,83.6 311.4,84.3 312.0,84.1 312.6,84.2 313.2,83.9 313.8,84.3 314.5,83.5 315.1,83.7 315.7,83.1 316.3,83.6 316.9,83.4 317.5,84.0 318.2,83.9 318.8,82.9 319.4,82.7 320.0,82.8 320.6,82.8 321.2,83.3 321.9,83.1 322.5,83.0 323.1,82.8 323.7,82.3 324.3,82.6 324.9,83.2 325.6,83.0 326.2,82.7 326.8,82.2 327.4,82.9 328.0,82.3 328.6,82.5 329.3,82.0 329.9,82.1 330.5,82.0 331.1,82.0 331.7,81.6 332.3,82.2 333.0,81.6 333.6,82.1 334.2,82.0 334.8,82.1 335.4,81.6 336.0,81.6 336.7,82.0 337.3,81.6 337.9,81.3 338.5,82.1 339.1,81.1 339.7,82.0 340.4,81.4 341.0,81.4 341.6,82.1 342.2,81.5 342.8,81.8 343.4,81.5 344.1,82.0 344.7,81.8 345.3,81.5 345.9,81.1 346.5,81.4 347.1,81.6 347.8,81.4 348.4,81.7 349.0,81.4 349.6,81.7 350.2,81.8 350.8,82.0 351.5,82.1 352.1,82.1 352.7,81.8 353.3,81.9 353.9,82.4 354.5,81.9 355.2,82.4 355.8,82.7 356.4,82.7 357.0,82.3 357.6,82.1 358.2,82.5 358.9,82.7 359.5,82.5 360.1,82.4 360.7,82.6 361.3,82.3 361.9,82.5 362.6,82.5 363.2,83.1 363.8,83.5 364.4,82.7 365.0,82.6 365.6,83.4 366.3,83.1 366.9,83.3 367.5,82.9 368.1,83.1 368.7,83.7 369.3,83.7 370.0,84.0 370.6,84.2 371.2,83.6 371.8,84.0 372.4,83.9 373.0,84.0 373.7,83.9 374.3,84.7 374.9,84.4 375.5,83.9 376.1,84.6 376.7,85.0 377.4,85.0 378.0,84.7 378.6,84.2 379.2,85.1 379.8,85.4 380.4,85.3 381.1,85.0 381.7,85.0 382.3,85.5 382.9,84.9 383.5,85.8 384.1,85.6 384.8,85.2 385.4,86.1 386.0,85.7 386.6,85.5 387.2,85.7 387.8,86.5 388.5,85.9 389.1,86.6 389.7,86.8 390.3,86.1 390.9,86.6 391.5,87.0 392.2,86.8 392.8,87.3 393.4,86.9 394.0,87.2 394.6,86.9 395.2,87.7 395.9,87.7 396.5,87.5 397.1,87.3 397.7,87.5 398.3,87.8 398.9,87.4 399.6,87.9 400.2,87.7 400.8,87.9 401.4,87.9 402.0,88.6 402.6,87.9 403.3,88.1 403.9,88.1 404.5,88.0 405.1,88.6 405.7,89.1 406.3,89.3 407.0,88.9 407.6,88.9 408.2,89.5 408.8,89.2 409.4,89.3 410.0,89.5 410.7,88.9 411.3,89.8 411.9,89.1 412.5,89.7 413.1,90.2 413.7,89.9 414.4,89.7 415.0,90.2 415.6,90.5 416.2,90.3 416.8,89.7 417.4,90.7 418.1,89.8 418.7,90.7 419.3,91.0 419.9,90.2 420.5,90.7 421.1,91.0 421.8,90.5 422.4,90.7 423.0,90.6 423.6,90.7" stroke="#ff2a14" stroke-width="5.2"/>
<polyline points="263.9,102.2 264.5,102.3 265.1,102.7 265.7,102.5 266.4,102.5 267.0,102.3 267.6,102.3 268.2,101.5 268.8,101.9 269.4,101.2 270.1,101.6 270.7,101.9 271.3,101.4 271.9,101.1 272.5,101.0 273.1,101.0 273.8,101.5 274.4,101.5 275.0,101.1 275.6,101.3 276.2,100.9 276.8,100.3 277.5,100.4 278.1,100.6 278.7,100.5 279.3,100.3 279.9,100.0 280.5,99.6 281.2,100.4 281.8,99.4 282.4,100.2 283.0,99.1 283.6,100.0 284.2,99.2 284.9,99.6 285.5,98.6 286.1,99.0 286.7,98.7 287.3,99.1 287.9,98.9 288.6,98.6 289.2,98.8 289.8,99.0 290.4,97.9 291.0,98.3 291.6,98.3 292.3,98.1 292.9,97.6 293.5,98.2 294.1,97.4 294.7,97.9 295.3,97.4 296.0,96.9 296.6,97.6 297.2,96.6 297.8,97.3 298.4,96.9 299.0,97.1 299.7,96.9 300.3,96.4 300.9,96.0 301.5,96.0 302.1,95.6 302.7,96.2 303.4,95.4 304.0,95.4 304.6,95.4 305.2,95.4 305.8,95.6 306.4,95.2 307.1,95.2 307.7,94.6 308.3,94.8 308.9,94.5 309.5,95.0 310.1,94.1 310.8,94.6 311.4,94.6 312.0,94.3 312.6,93.7 313.2,93.8 313.8,93.7 314.5,93.6 315.1,93.5 315.7,94.2 316.3,93.9 316.9,94.0 317.5,93.7 318.2,93.2 318.8,93.8 319.4,93.2 320.0,92.8 320.6,93.3 321.2,92.7 321.9,93.2 322.5,93.0 323.1,92.4 323.7,92.5 324.3,92.7 324.9,92.6 325.6,92.3 326.2,91.9 326.8,91.9 327.4,92.2 328.0,91.9 328.6,92.1 329.3,92.0 329.9,91.5 330.5,91.2 331.1,91.7 331.7,91.3 332.3,91.5 333.0,90.9 333.6,90.9 334.2,91.1 334.8,91.3 335.4,90.6 336.0,91.3 336.7,91.3 337.3,91.1 337.9,91.1 338.5,90.5 339.1,90.3 339.7,90.6 340.4,90.3 341.0,90.6 341.6,91.0 342.2,90.4 342.8,91.0 343.4,90.6 344.1,90.3 344.7,90.8 345.3,90.6 345.9,90.5 346.5,90.7 347.1,91.3 347.8,91.0 348.4,90.5 349.0,91.3 349.6,90.5 350.2,90.8 350.8,90.8 351.5,91.5 352.1,90.5 352.7,91.2 353.3,91.1 353.9,90.8 354.5,91.4 355.2,91.6 355.8,91.7 356.4,91.0 357.0,91.8 357.6,91.4 358.2,92.0 358.9,91.8 359.5,91.3 360.1,92.2 360.7,92.0 361.3,92.0 361.9,92.3 362.6,92.1 363.2,91.8 363.8,92.8 364.4,92.2 365.0,92.3 365.6,92.1 366.3,92.9 366.9,93.2 367.5,92.8 368.1,93.3 368.7,92.9 369.3,93.0 370.0,93.0 370.6,93.1 371.2,93.4 371.8,93.3 372.4,93.1 373.0,93.9 373.7,93.6 374.3,93.8 374.9,93.6 375.5,93.6 376.1,94.4 376.7,94.2 377.4,94.9 378.0,94.0 378.6,95.1 379.2,94.3 379.8,94.6 380.4,94.6 381.1,95.2 381.7,95.2 382.3,95.3 382.9,96.2 383.5,95.9 384.1,96.4 384.8,96.5 385.4,96.0 386.0,96.5 386.6,96.2 387.2,96.5 387.8,97.0 388.5,97.0 389.1,96.6 389.7,96.7 390.3,97.6 390.9,97.7 391.5,97.8 392.2,97.5 392.8,98.2 393.4,98.1 394.0,97.8 394.6,97.9 395.2,98.6 395.9,99.1 396.5,98.8 397.1,98.6 397.7,99.2 398.3,98.7 398.9,99.3 399.6,99.2 400.2,98.9 400.8,99.5 401.4,99.6 402.0,100.2 402.6,100.1 403.3,99.7 403.9,100.2 404.5,99.9 405.1,100.5 405.7,100.5 406.3,100.6 407.0,100.2 407.6,101.0 408.2,100.9 408.8,101.2 409.4,100.6 410.0,101.4 410.7,101.8 411.3,101.5 411.9,101.1 412.5,102.1 413.1,101.8 413.7,101.6 414.4,102.1 415.0,102.4 415.6,101.7 416.2,102.3 416.8,102.5 417.4,102.9 418.1,102.1 418.7,102.7 419.3,103.1 419.9,103.1 420.5,103.4 421.1,103.3 421.8,103.4 422.4,103.5 423.0,103.1 423.6,104.0" stroke="#b48a30" stroke-width="5.2"/>
<polyline points="263.9,113.2 264.5,112.6 265.1,113.4 265.7,113.2 266.4,113.1 267.0,112.3 267.6,113.0 268.2,112.5 268.8,113.0 269.4,112.2 270.1,112.4 270.7,112.1 271.3,111.9 271.9,112.2 272.5,112.5 273.1,112.2 273.8,112.0 274.4,112.6 275.0,112.3 275.6,112.6 276.2,111.8 276.8,111.6 277.5,112.4 278.1,111.3 278.7,112.1 279.3,112.2 279.9,111.9 280.5,111.6 281.2,111.4 281.8,111.2 282.4,110.9 283.0,111.2 283.6,111.2 284.2,110.9 284.9,111.6 285.5,111.5 286.1,110.7 286.7,110.9 287.3,111.2 287.9,110.8 288.6,110.4 289.2,110.9 289.8,110.4 290.4,110.4 291.0,110.5 291.6,109.8 292.3,110.2 292.9,109.6 293.5,109.9 294.1,109.3 294.7,109.7 295.3,109.1 296.0,109.6 296.6,108.5 297.2,109.0 297.8,108.9 298.4,108.8 299.0,108.2 299.7,108.1 300.3,107.6 300.9,108.0 301.5,107.7 302.1,107.3 302.7,107.0 303.4,107.3 304.0,106.7 304.6,106.0 305.2,105.8 305.8,106.3 306.4,105.8 307.1,105.7 307.7,105.3 308.3,104.6 308.9,105.2 309.5,104.5 310.1,104.3 310.8,104.1 311.4,103.5 312.0,104.2 312.6,103.9 313.2,102.6 313.8,102.5 314.5,102.6 315.1,103.0 315.7,102.3 316.3,102.6 316.9,101.8 317.5,101.8 318.2,101.9 318.8,101.6 319.4,101.0 320.0,101.0 320.6,101.0 321.2,100.6 321.9,100.2 322.5,100.1 323.1,100.5 323.7,99.7 324.3,99.6 324.9,99.5 325.6,100.2 326.2,100.0 326.8,99.3 327.4,98.9 328.0,99.1 328.6,99.5 329.3,99.0 329.9,99.3 330.5,99.2 331.1,99.1 331.7,99.1 332.3,98.6 333.0,98.2 333.6,98.8 334.2,98.9 334.8,98.5 335.4,98.0 336.0,98.7 336.7,98.6 337.3,98.6 337.9,98.2 338.5,98.5 339.1,97.7 339.7,98.0 340.4,98.5 341.0,98.4 341.6,98.2 342.2,97.9 342.8,98.0 343.4,97.7 344.1,97.5 344.7,98.3 345.3,98.0 345.9,97.7 346.5,97.7 347.1,97.6 347.8,97.7 348.4,98.2 349.0,97.9 349.6,98.0 350.2,98.6 350.8,97.9 351.5,98.9 352.1,98.4 352.7,98.9 353.3,99.0 353.9,98.9 354.5,98.3 355.2,99.0 355.8,98.8 356.4,98.7 357.0,99.0 357.6,99.3 358.2,99.0 358.9,99.1 359.5,99.0 360.1,99.0 360.7,99.5 361.3,100.0 361.9,99.1 362.6,99.8 363.2,99.8 363.8,100.0 364.4,99.6 365.0,99.6 365.6,99.7 366.3,100.4 366.9,100.5 367.5,100.6 368.1,100.1 368.7,100.3 369.3,100.3 370.0,100.8 370.6,100.4 371.2,101.1 371.8,101.3 372.4,101.2 373.0,101.0 373.7,101.3 374.3,101.9 374.9,102.3 375.5,101.9 376.1,102.7 376.7,103.2 377.4,103.3 378.0,103.7 378.6,104.1 379.2,103.6 379.8,103.8 380.4,104.8 381.1,104.5 381.7,104.4 382.3,105.2 382.9,105.2 383.5,105.1 384.1,106.1 384.8,105.8 385.4,106.6 386.0,106.0 386.6,105.9 387.2,107.0 387.8,106.5 388.5,107.4 389.1,107.1 389.7,107.5 390.3,107.0 390.9,107.3 391.5,108.0 392.2,108.4 392.8,108.4 393.4,108.7 394.0,108.7 394.6,109.0 395.2,108.4 395.9,108.4 396.5,108.7 397.1,109.2 397.7,109.1 398.3,108.8 398.9,109.1 399.6,109.4 400.2,109.6 400.8,109.7 401.4,110.1 402.0,110.3 402.6,110.6 403.3,110.2 403.9,110.9 404.5,110.4 405.1,110.6 405.7,110.7 406.3,111.2 407.0,111.3 407.6,111.0 408.2,111.1 408.8,110.9 409.4,111.2 410.0,111.1 410.7,111.5 411.3,111.4 411.9,112.0 412.5,112.2 413.1,112.1 413.7,112.2 414.4,112.1 415.0,112.9 415.6,113.0 416.2,112.8 416.8,113.1 417.4,112.7 418.1,113.0 418.7,112.9 419.3,113.6 419.9,113.3 420.5,113.8 421.1,113.6 421.8,113.1 422.4,113.4 423.0,113.9 423.6,114.3" stroke="#33ff11" stroke-width="5.2"/>
<polyline points="263.9,124.8 264.5,124.5 265.1,124.8 265.7,124.7 266.4,125.1 267.0,124.6 267.6,123.9 268.2,125.0 268.8,124.1 269.4,124.3 270.1,124.9 270.7,124.6 271.3,124.6 271.9,124.3 272.5,124.2 273.1,124.1 273.8,124.6 274.4,124.1 275.0,123.8 275.6,123.9 276.2,123.8 276.8,124.6 277.5,123.9 278.1,123.8 278.7,124.3 279.3,123.8 279.9,124.4 280.5,124.2 281.2,124.1 281.8,123.9 282.4,123.8 283.0,123.8 283.6,124.1 284.2,123.4 284.9,123.5 285.5,124.0 286.1,124.0 286.7,123.8 287.3,123.4 287.9,123.3 288.6,123.6 289.2,123.3 289.8,123.8 290.4,123.7 291.0,123.6 291.6,123.5 292.3,123.7 292.9,123.3 293.5,122.9 294.1,122.8 294.7,122.5 295.3,123.0 296.0,123.1 296.6,122.8 297.2,122.2 297.8,122.7 298.4,122.6 299.0,122.1 299.7,122.1 300.3,121.5 300.9,121.9 301.5,121.1 302.1,121.3 302.7,121.7 303.4,121.3 304.0,120.9 304.6,121.3 305.2,120.8 305.8,120.9 306.4,120.2 307.1,120.1 307.7,119.8 308.3,118.9 308.9,118.7 309.5,118.3 310.1,118.1 310.8,118.6 311.4,117.9 312.0,117.6 312.6,117.5 313.2,116.3 313.8,116.6 314.5,116.0 315.1,115.5 315.7,115.6 316.3,115.3 316.9,114.8 317.5,114.5 318.2,114.4 318.8,113.5 319.4,113.6 320.0,112.9 320.6,113.0 321.2,112.4 321.9,111.9 322.5,111.9 323.1,111.0 323.7,110.2 324.3,110.2 324.9,109.7 325.6,110.0 326.2,108.8 326.8,108.9 327.4,108.6 328.0,107.8 328.6,108.2 329.3,107.8 329.9,107.5 330.5,107.9 331.1,106.8 331.7,107.3 332.3,106.8 333.0,106.8 333.6,106.6 334.2,106.8 334.8,106.9 335.4,105.9 336.0,106.2 336.7,106.4 337.3,105.8 337.9,105.8 338.5,106.3 339.1,105.3 339.7,105.8 340.4,105.9 341.0,105.8 341.6,105.1 342.2,106.0 342.8,105.0 343.4,105.0 344.1,105.6 344.7,105.0 345.3,105.3 345.9,105.9 346.5,105.7 347.1,105.8 347.8,106.2 348.4,105.4 349.0,106.5 349.6,106.2 350.2,106.3 350.8,105.7 351.5,106.7 352.1,106.3 352.7,106.4 353.3,106.8 353.9,106.7 354.5,107.4 355.2,107.5 355.8,107.0 356.4,107.0 357.0,107.3 357.6,108.1 358.2,107.4 358.9,107.8 359.5,107.6 360.1,108.1 360.7,108.7 361.3,108.3 361.9,108.0 362.6,108.9 363.2,109.2 363.8,108.9 364.4,108.8 365.0,109.3 365.6,110.0 366.3,109.8 366.9,109.5 367.5,110.5 368.1,110.2 368.7,110.7 369.3,110.8 370.0,110.7 370.6,111.2 371.2,111.2 371.8,111.7 372.4,111.5 373.0,112.7 373.7,112.8 374.3,112.9 374.9,112.6 375.5,113.6 376.1,113.9 376.7,113.2 377.4,113.6 378.0,113.8 378.6,114.2 379.2,115.0 379.8,115.5 380.4,115.2 381.1,115.4 381.7,116.0 382.3,116.4 382.9,116.2 383.5,116.5 384.1,116.6 384.8,116.9 385.4,117.2 386.0,117.1 386.6,118.3 387.2,118.1 387.8,118.6 388.5,118.6 389.1,119.3 389.7,118.9 390.3,119.9 390.9,120.3 391.5,119.7 392.2,120.3 392.8,120.1 393.4,121.1 394.0,121.0 394.6,120.7 395.2,121.8 395.9,122.0 396.5,121.4 397.1,122.0 397.7,121.4 398.3,122.1 398.9,121.8 399.6,121.6 400.2,122.0 400.8,122.3 401.4,121.9 402.0,122.9 402.6,122.4 403.3,122.6 403.9,123.2 404.5,123.2 405.1,123.0 405.7,123.1 406.3,123.2 407.0,123.1 407.6,123.1 408.2,123.4 408.8,122.7 409.4,123.7 410.0,122.9 410.7,122.9 411.3,123.4 411.9,123.4 412.5,123.4 413.1,123.8 413.7,122.9 414.4,123.1 415.0,123.2 415.6,123.6 416.2,123.4 416.8,123.8 417.4,123.6 418.1,123.2 418.7,124.1 419.3,123.8 419.9,123.7 420.5,123.7 421.1,124.4 421.8,124.1 422.4,123.6 423.0,124.0 423.6,124.7" stroke="#3f86b8" stroke-width="5.2"/>
<polyline points="263.9,131.6 264.5,131.5 265.1,131.5 265.7,131.5 266.4,131.6 267.0,132.1 267.6,132.7 268.2,132.8 268.8,132.8 269.4,132.3 270.1,132.7 270.7,132.1 271.3,132.9 271.9,132.5 272.5,132.9 273.1,132.6 273.8,132.9 274.4,132.9 275.0,133.1 275.6,132.8 276.2,132.7 276.8,133.1 277.5,133.3 278.1,132.9 278.7,133.5 279.3,132.9 279.9,132.8 280.5,132.8 281.2,133.4 281.8,132.6 282.4,132.9 283.0,132.8 283.6,133.2 284.2,132.1 284.9,133.1 285.5,132.3 286.1,132.8 286.7,132.0 287.3,132.5 287.9,132.0 288.6,131.8 289.2,131.7 289.8,131.6 290.4,132.3 291.0,131.7 291.6,131.4 292.3,131.8 292.9,131.4 293.5,131.3 294.1,130.7 294.7,130.4 295.3,130.1 296.0,130.1 296.6,129.9 297.2,129.9 297.8,129.3 298.4,129.1 299.0,128.6 299.7,128.5 300.3,128.4 300.9,127.6 301.5,128.0 302.1,127.9 302.7,127.2 303.4,126.6 304.0,127.0 304.6,125.8 305.2,125.6 305.8,125.9 306.4,125.6 307.1,124.7 307.7,124.0 308.3,124.3 308.9,123.5 309.5,123.7 310.1,122.4 310.8,122.6 311.4,121.8 312.0,122.2 312.6,121.8 313.2,121.0 313.8,120.8 314.5,120.6 315.1,120.2 315.7,119.0 316.3,118.9 316.9,119.1 317.5,118.1 318.2,118.0 318.8,118.2 319.4,117.3 320.0,117.1 320.6,116.3 321.2,115.9 321.9,116.4 322.5,115.8 323.1,114.8 323.7,115.3 324.3,115.0 324.9,114.0 325.6,114.3 326.2,113.2 326.8,113.1 327.4,113.5 328.0,112.9 328.6,112.6 329.3,112.2 329.9,112.0 330.5,111.8 331.1,112.0 331.7,112.0 332.3,111.4 333.0,112.0 333.6,111.2 334.2,111.2 334.8,111.9 335.4,111.3 336.0,110.9 336.7,111.1 337.3,110.8 337.9,110.7 338.5,111.6 339.1,110.5 339.7,111.2 340.4,110.8 341.0,110.5 341.6,111.2 342.2,110.8 342.8,110.3 343.4,110.6 344.1,110.9 344.7,110.7 345.3,110.6 345.9,110.6 346.5,110.7 347.1,110.9 347.8,111.6 348.4,111.5 349.0,111.2 349.6,111.7 350.2,111.0 350.8,111.6 351.5,111.9 352.1,111.4 352.7,111.9 353.3,111.9 353.9,111.6 354.5,112.7 355.2,112.1 355.8,112.5 356.4,112.0 357.0,112.7 357.6,112.7 358.2,113.4 358.9,112.6 359.5,113.7 360.1,113.1 360.7,114.0 361.3,114.1 361.9,114.1 362.6,114.1 363.2,114.4 363.8,114.8 364.4,114.8 365.0,114.6 365.6,115.6 366.3,115.9 366.9,115.6 367.5,115.8 368.1,116.8 368.7,116.5 369.3,116.5 370.0,117.6 370.6,117.2 371.2,117.7 371.8,118.2 372.4,118.4 373.0,118.5 373.7,118.9 374.3,119.6 374.9,119.6 375.5,120.9 376.1,120.6 376.7,120.9 377.4,121.4 378.0,121.8 378.6,123.0 379.2,122.9 379.8,123.7 380.4,124.2 381.1,123.8 381.7,124.8 382.3,125.4 382.9,125.1 383.5,126.3 384.1,126.2 384.8,126.5 385.4,127.4 386.0,126.8 386.6,128.0 387.2,127.6 387.8,128.3 388.5,128.1 389.1,128.7 389.7,128.9 390.3,129.8 390.9,130.4 391.5,129.8 392.2,130.0 392.8,130.9 393.4,131.6 394.0,131.8 394.6,132.0 395.2,132.1 395.9,132.2 396.5,131.8 397.1,133.0 397.7,132.9 398.3,133.0 398.9,132.7 399.6,133.1 400.2,133.5 400.8,134.4 401.4,134.3 402.0,134.6 402.6,134.5 403.3,135.1 403.9,134.7 404.5,134.9 405.1,135.4 405.7,135.2 406.3,136.1 407.0,135.5 407.6,135.9 408.2,136.5 408.8,135.9 409.4,136.2 410.0,136.3 410.7,136.1 411.3,135.8 411.9,136.0 412.5,136.2 413.1,135.7 413.7,135.8 414.4,135.2 415.0,135.1 415.6,135.5 416.2,134.3 416.8,135.0 417.4,133.8 418.1,134.4 418.7,133.6 419.3,133.7 419.9,133.0 420.5,132.6 421.1,132.3 421.8,132.0 422.4,132.1 423.0,131.5 423.6,131.6" stroke="#0000ff" stroke-width="5.2"/>
</g>
<clipPath id="cpb1"><rect x="263.9" y="168.3" width="159.70000000000005" height="118.69999999999999"/></clipPath>
<g clip-path="url(#cpb1)" fill="none" stroke-linejoin="round" stroke-linecap="round">
<polyline points="263.9,224.8 264.5,224.5 265.1,224.2 265.7,223.7 266.4,223.6 267.0,224.6 267.6,224.0 268.2,224.1 268.8,224.2 269.4,224.0 270.1,224.1 270.7,223.8 271.3,223.7 271.9,223.6 272.5,224.1 273.1,224.1 273.8,223.4 274.4,223.1 275.0,223.9 275.6,223.1 276.2,223.6 276.8,223.0 277.5,223.3 278.1,223.0 278.7,222.6 279.3,222.5 279.9,222.8 280.5,222.9 281.2,222.8 281.8,222.8 282.4,222.8 283.0,222.3 283.6,222.9 284.2,222.9 284.9,222.5 285.5,222.5 286.1,222.1 286.7,221.9 287.3,222.1 287.9,222.3 288.6,221.9 289.2,222.1 289.8,222.2 290.4,222.2 291.0,222.4 291.6,222.1 292.3,221.7 292.9,221.8 293.5,221.9 294.1,221.9 294.7,221.8 295.3,221.7 296.0,222.2 296.6,221.9 297.2,222.1 297.8,221.3 298.4,221.8 299.0,221.5 299.7,221.3 300.3,221.0 300.9,221.9 301.5,220.9 302.1,221.7 302.7,221.2 303.4,221.7 304.0,220.7 304.6,220.7 305.2,221.0 305.8,221.2 306.4,221.2 307.1,220.8 307.7,221.1 308.3,220.8 308.9,220.5 309.5,220.4 310.1,220.5 310.8,221.2 311.4,220.5 312.0,220.7 312.6,220.2 313.2,221.1 313.8,221.0 314.5,220.1 315.1,220.1 315.7,220.8 316.3,220.1 316.9,219.9 317.5,220.3 318.2,219.8 318.8,219.7 319.4,220.2 320.0,220.5 320.6,219.6 321.2,220.2 321.9,219.9 322.5,220.1 323.1,219.4 323.7,219.4 324.3,219.5 324.9,219.1 325.6,219.1 326.2,218.8 326.8,219.5 327.4,219.0 328.0,218.5 328.6,219.3 329.3,218.4 329.9,218.2 330.5,218.6 331.1,218.7 331.7,218.5 332.3,218.5 333.0,218.2 333.6,218.5 334.2,218.2 334.8,217.7 335.4,218.4 336.0,217.4 336.7,217.7 337.3,217.9 337.9,218.2 338.5,217.5 339.1,217.3 339.7,217.8 340.4,217.9 341.0,217.3 341.6,217.5 342.2,217.7 342.8,217.5 343.4,217.9 344.1,217.1 344.7,217.8 345.3,217.0 345.9,217.3 346.5,217.8 347.1,217.5 347.8,217.9 348.4,217.6 349.0,217.8 349.6,217.2 350.2,217.5 350.8,217.5 351.5,217.3 352.1,217.5 352.7,217.7 353.3,218.0 353.9,217.6 354.5,217.1 355.2,217.5 355.8,217.4 356.4,217.3 357.0,217.6 357.6,217.4 358.2,218.0 358.9,217.6 359.5,218.1 360.1,217.5 360.7,218.3 361.3,217.3 361.9,217.9 362.6,217.4 363.2,217.5 363.8,218.2 364.4,217.9 365.0,217.7 365.6,217.4 366.3,218.3 366.9,218.1 367.5,217.5 368.1,217.8 368.7,218.0 369.3,217.5 370.0,217.6 370.6,218.2 371.2,218.5 371.8,217.9 372.4,217.6 373.0,218.1 373.7,218.5 374.3,218.5 374.9,218.6 375.5,218.6 376.1,218.5 376.7,217.9 377.4,218.5 378.0,218.9 378.6,218.4 379.2,218.2 379.8,218.9 380.4,218.8 381.1,218.6 381.7,218.0 382.3,218.5 382.9,218.5 383.5,219.0 384.1,219.2 384.8,218.8 385.4,218.7 386.0,218.9 386.6,219.0 387.2,219.1 387.8,218.7 388.5,218.9 389.1,219.4 389.7,219.2 390.3,219.0 390.9,218.8 391.5,218.9 392.2,218.8 392.8,219.8 393.4,219.4 394.0,219.6 394.6,219.7 395.2,219.6 395.9,219.1 396.5,219.5 397.1,219.4 397.7,219.1 398.3,219.7 398.9,220.2 399.6,220.3 400.2,219.4 400.8,220.2 401.4,219.4 402.0,219.6 402.6,219.7 403.3,219.9 403.9,219.6 404.5,219.9 405.1,219.8 405.7,220.6 406.3,220.8 407.0,220.5 407.6,220.0 408.2,220.3 408.8,220.2 409.4,221.2 410.0,220.7 410.7,220.5 411.3,220.9 411.9,220.7 412.5,221.1 413.1,221.0 413.7,221.3 414.4,221.5 415.0,221.2 415.6,220.9 416.2,221.3 416.8,221.5 417.4,221.2 418.1,221.9 418.7,221.8 419.3,221.3 419.9,222.0 420.5,222.1 421.1,222.0 421.8,221.9 422.4,222.0 423.0,221.6 423.6,221.6" stroke="#820000" stroke-width="5.2"/>
<polyline points="263.9,219.4 264.5,218.8 265.1,218.8 265.7,218.8 266.4,218.9 267.0,218.6 267.6,218.2 268.2,218.1 268.8,217.7 269.4,218.3 270.1,217.8 270.7,217.1 271.3,217.7 271.9,217.9 272.5,217.7 273.1,217.3 273.8,217.1 274.4,217.4 275.0,217.0 275.6,216.4 276.2,216.8 276.8,216.8 277.5,216.1 278.1,215.9 278.7,216.0 279.3,215.4 279.9,216.0 280.5,215.2 281.2,215.7 281.8,215.1 282.4,214.9 283.0,215.4 283.6,215.4 284.2,214.6 284.9,215.1 285.5,214.1 286.1,214.2 286.7,214.1 287.3,214.2 287.9,213.8 288.6,213.5 289.2,213.8 289.8,213.5 290.4,213.6 291.0,213.3 291.6,213.0 292.3,213.0 292.9,213.2 293.5,213.0 294.1,212.4 294.7,212.5 295.3,211.8 296.0,212.6 296.6,212.6 297.2,212.2 297.8,212.3 298.4,211.4 299.0,211.4 299.7,211.1 300.3,210.8 300.9,211.1 301.5,211.1 302.1,211.3 302.7,211.2 303.4,210.4 304.0,211.0 304.6,210.9 305.2,210.4 305.8,210.5 306.4,210.5 307.1,209.9 307.7,209.3 308.3,209.2 308.9,209.5 309.5,209.5 310.1,209.0 310.8,208.8 311.4,209.1 312.0,208.9 312.6,208.9 313.2,208.5 313.8,208.3 314.5,207.9 315.1,207.7 315.7,207.7 316.3,207.5 316.9,206.9 317.5,206.8 318.2,206.3 318.8,206.7 319.4,205.8 320.0,205.9 320.6,206.1 321.2,205.7 321.9,205.2 322.5,204.9 323.1,204.4 323.7,204.3 324.3,203.1 324.9,203.3 325.6,202.7 326.2,202.3 326.8,202.6 327.4,202.2 328.0,201.3 328.6,201.4 329.3,201.3 329.9,201.0 330.5,200.7 331.1,200.2 331.7,200.8 332.3,200.7 333.0,200.2 333.6,199.8 334.2,199.7 334.8,200.3 335.4,200.2 336.0,200.3 336.7,199.6 337.3,199.8 337.9,199.8 338.5,199.8 339.1,200.0 339.7,199.3 340.4,199.5 341.0,199.7 341.6,199.7 342.2,198.9 342.8,199.0 343.4,199.1 344.1,199.0 344.7,198.9 345.3,199.7 345.9,199.4 346.5,199.6 347.1,199.4 347.8,198.8 348.4,199.3 349.0,199.1 349.6,199.2 350.2,199.8 350.8,199.5 351.5,199.7 352.1,199.4 352.7,199.2 353.3,199.5 353.9,199.4 354.5,200.4 355.2,200.4 355.8,200.0 356.4,200.5 357.0,199.9 357.6,200.6 358.2,200.0 358.9,200.4 359.5,200.3 360.1,200.4 360.7,200.8 361.3,200.6 361.9,201.2 362.6,201.6 363.2,201.6 363.8,200.9 364.4,201.0 365.0,201.7 365.6,202.2 366.3,202.2 366.9,202.5 367.5,202.4 368.1,202.3 368.7,202.4 369.3,202.9 370.0,203.1 370.6,203.3 371.2,202.8 371.8,203.1 372.4,202.9 373.0,203.2 373.7,203.6 374.3,204.2 374.9,204.5 375.5,204.5 376.1,204.5 376.7,204.6 377.4,204.3 378.0,205.0 378.6,204.7 379.2,205.3 379.8,205.3 380.4,205.4 381.1,205.8 381.7,205.4 382.3,205.9 382.9,205.7 383.5,206.2 384.1,206.4 384.8,207.0 385.4,206.5 386.0,207.1 386.6,207.5 387.2,207.0 387.8,207.0 388.5,207.8 389.1,207.4 389.7,207.6 390.3,207.9 390.9,208.5 391.5,208.5 392.2,208.4 392.8,208.4 393.4,209.3 394.0,209.0 394.6,209.1 395.2,209.7 395.9,209.7 396.5,209.5 397.1,209.8 397.7,210.8 398.3,210.8 398.9,210.3 399.6,210.6 400.2,210.8 400.8,211.3 401.4,211.9 402.0,211.7 402.6,211.4 403.3,212.5 403.9,211.8 404.5,212.4 405.1,212.9 405.7,213.0 406.3,212.8 407.0,213.3 407.6,213.6 408.2,213.2 408.8,214.3 409.4,214.0 410.0,214.2 410.7,214.5 411.3,215.1 411.9,214.8 412.5,215.6 413.1,215.4 413.7,215.8 414.4,216.0 415.0,215.5 415.6,216.2 416.2,216.0 416.8,216.4 417.4,216.8 418.1,216.8 418.7,217.8 419.3,217.2 419.9,217.4 420.5,217.9 421.1,217.8 421.8,218.8 422.4,219.0 423.0,218.8 423.6,219.2" stroke="#ff2a14" stroke-width="5.2"/>
<polyline points="263.9,229.6 264.5,229.5 265.1,229.3 265.7,229.8 266.4,229.5 267.0,228.6 267.6,228.6 268.2,228.8 268.8,228.8 269.4,228.6 270.1,228.3 270.7,227.9 271.3,227.9 271.9,228.6 272.5,228.2 273.1,227.8 273.8,227.6 274.4,227.2 275.0,227.2 275.6,227.9 276.2,227.2 276.8,227.3 277.5,226.8 278.1,227.3 278.7,226.5 279.3,226.5 279.9,226.1 280.5,226.0 281.2,226.1 281.8,226.4 282.4,226.5 283.0,225.7 283.6,225.6 284.2,225.4 284.9,225.7 285.5,226.0 286.1,225.4 286.7,224.7 287.3,225.3 287.9,224.7 288.6,224.3 289.2,225.0 289.8,224.1 290.4,224.0 291.0,224.7 291.6,224.5 292.3,223.8 292.9,223.7 293.5,223.3 294.1,223.6 294.7,223.2 295.3,222.8 296.0,222.7 296.6,223.2 297.2,222.4 297.8,222.2 298.4,222.0 299.0,222.5 299.7,222.4 300.3,221.9 300.9,221.3 301.5,221.3 302.1,221.2 302.7,220.9 303.4,220.9 304.0,220.7 304.6,220.9 305.2,220.1 305.8,219.9 306.4,220.5 307.1,219.6 307.7,219.8 308.3,219.6 308.9,219.4 309.5,219.7 310.1,218.8 310.8,218.3 311.4,218.1 312.0,218.9 312.6,218.2 313.2,217.7 313.8,217.6 314.5,217.2 315.1,217.5 315.7,216.7 316.3,217.0 316.9,216.9 317.5,216.1 318.2,216.7 318.8,215.7 319.4,216.2 320.0,215.2 320.6,215.0 321.2,215.0 321.9,214.6 322.5,213.6 323.1,213.5 323.7,213.3 324.3,212.9 324.9,212.8 325.6,212.0 326.2,212.4 326.8,211.5 327.4,211.5 328.0,211.5 328.6,210.6 329.3,210.8 329.9,210.7 330.5,209.8 331.1,210.1 331.7,209.8 332.3,210.0 333.0,209.6 333.6,209.0 334.2,209.0 334.8,208.5 335.4,208.1 336.0,207.9 336.7,207.6 337.3,207.7 337.9,207.5 338.5,206.8 339.1,206.6 339.7,206.8 340.4,206.8 341.0,206.6 341.6,206.1 342.2,206.0 342.8,206.4 343.4,206.2 344.1,206.3 344.7,206.8 345.3,205.9 345.9,206.7 346.5,206.7 347.1,206.0 347.8,206.6 348.4,206.2 349.0,206.2 349.6,206.3 350.2,206.7 350.8,206.1 351.5,206.6 352.1,206.5 352.7,207.0 353.3,207.0 353.9,207.1 354.5,207.3 355.2,206.9 355.8,206.4 356.4,207.5 357.0,206.6 357.6,207.6 358.2,207.5 358.9,207.0 359.5,207.3 360.1,207.7 360.7,207.7 361.3,208.3 361.9,207.7 362.6,208.5 363.2,208.3 363.8,208.8 364.4,209.5 365.0,209.8 365.6,209.3 366.3,210.2 366.9,209.8 367.5,210.9 368.1,210.7 368.7,210.7 369.3,211.4 370.0,211.0 370.6,212.1 371.2,212.4 371.8,212.7 372.4,212.3 373.0,212.4 373.7,213.3 374.3,213.5 374.9,213.7 375.5,214.0 376.1,213.9 376.7,213.4 377.4,214.4 378.0,214.9 378.6,214.3 379.2,214.6 379.8,214.8 380.4,215.6 381.1,215.6 381.7,215.2 382.3,216.0 382.9,216.0 383.5,216.7 384.1,216.7 384.8,216.6 385.4,216.7 386.0,216.8 386.6,217.7 387.2,217.8 387.8,217.7 388.5,218.5 389.1,217.9 389.7,219.0 390.3,218.4 390.9,219.2 391.5,219.0 392.2,219.0 392.8,219.4 393.4,220.1 394.0,220.3 394.6,220.5 395.2,220.3 395.9,221.1 396.5,220.4 397.1,220.8 397.7,221.8 398.3,221.6 398.9,222.0 399.6,222.1 400.2,221.9 400.8,222.1 401.4,222.8 402.0,222.7 402.6,223.2 403.3,223.5 403.9,223.3 404.5,223.9 405.1,223.8 405.7,224.5 406.3,224.1 407.0,224.9 407.6,224.6 408.2,225.0 408.8,225.3 409.4,225.5 410.0,225.2 410.7,225.1 411.3,225.2 411.9,226.3 412.5,225.7 413.1,226.6 413.7,226.4 414.4,226.6 415.0,227.3 415.6,227.1 416.2,226.7 416.8,227.7 417.4,227.1 418.1,227.8 418.7,228.3 419.3,228.2 419.9,228.8 420.5,228.1 421.1,228.6 421.8,229.4 422.4,229.5 423.0,229.4 423.6,229.3" stroke="#b48a30" stroke-width="5.2"/>
<polyline points="263.9,237.4 264.5,238.2 265.1,237.4 265.7,237.9 266.4,237.5 267.0,237.6 267.6,237.0 268.2,237.4 268.8,237.7 269.4,237.1 270.1,237.2 270.7,236.8 271.3,237.5 271.9,237.2 272.5,236.5 273.1,237.3 273.8,237.2 274.4,236.8 275.0,237.0 275.6,236.9 276.2,236.7 276.8,236.8 277.5,235.8 278.1,235.9 278.7,236.4 279.3,236.4 279.9,235.6 280.5,235.9 281.2,235.7 281.8,236.2 282.4,235.6 283.0,235.9 283.6,235.8 284.2,235.3 284.9,236.0 285.5,235.7 286.1,235.0 286.7,235.1 287.3,234.8 287.9,235.5 288.6,234.6 289.2,235.4 289.8,234.6 290.4,234.9 291.0,234.5 291.6,234.8 292.3,234.7 292.9,234.9 293.5,234.3 294.1,234.0 294.7,234.4 295.3,233.6 296.0,234.2 296.6,233.4 297.2,234.3 297.8,234.2 298.4,234.0 299.0,233.7 299.7,233.0 300.3,233.2 300.9,233.9 301.5,232.8 302.1,233.1 302.7,232.7 303.4,233.2 304.0,233.2 304.6,232.5 305.2,232.4 305.8,232.5 306.4,232.8 307.1,232.5 307.7,232.2 308.3,231.9 308.9,232.6 309.5,232.7 310.1,231.9 310.8,232.5 311.4,231.5 312.0,231.7 312.6,231.7 313.2,232.1 313.8,231.1 314.5,231.7 315.1,230.9 315.7,230.7 316.3,230.4 316.9,230.4 317.5,230.1 318.2,230.8 318.8,229.7 319.4,230.4 320.0,229.9 320.6,229.1 321.2,229.2 321.9,229.1 322.5,228.9 323.1,228.4 323.7,227.8 324.3,227.6 324.9,227.5 325.6,227.3 326.2,227.3 326.8,226.1 327.4,225.9 328.0,225.6 328.6,225.4 329.3,224.5 329.9,224.0 330.5,224.0 331.1,222.3 331.7,221.8 332.3,221.3 333.0,221.2 333.6,220.2 334.2,219.8 334.8,219.6 335.4,218.9 336.0,218.1 336.7,218.2 337.3,217.1 337.9,216.0 338.5,216.3 339.1,215.8 339.7,214.5 340.4,214.4 341.0,213.4 341.6,213.3 342.2,213.7 342.8,212.8 343.4,212.6 344.1,212.4 344.7,212.4 345.3,212.3 345.9,212.3 346.5,213.2 347.1,213.1 347.8,212.6 348.4,212.8 349.0,213.9 349.6,213.8 350.2,213.2 350.8,214.3 351.5,214.0 352.1,213.9 352.7,213.8 353.3,214.0 353.9,214.5 354.5,214.7 355.2,215.4 355.8,215.9 356.4,216.1 357.0,216.4 357.6,217.5 358.2,217.5 358.9,218.5 359.5,218.2 360.1,218.6 360.7,219.5 361.3,219.3 361.9,220.7 362.6,220.4 363.2,221.5 363.8,221.6 364.4,222.5 365.0,222.5 365.6,223.5 366.3,223.6 366.9,224.5 367.5,224.7 368.1,224.8 368.7,226.3 369.3,225.8 370.0,226.0 370.6,227.3 371.2,227.4 371.8,226.8 372.4,227.2 373.0,227.7 373.7,227.5 374.3,228.0 374.9,228.8 375.5,228.7 376.1,228.7 376.7,228.4 377.4,229.0 378.0,229.6 378.6,229.7 379.2,229.6 379.8,229.8 380.4,230.0 381.1,229.4 381.7,229.5 382.3,230.3 382.9,230.3 383.5,230.8 384.1,230.3 384.8,230.7 385.4,230.7 386.0,231.1 386.6,230.5 387.2,231.0 387.8,231.5 388.5,230.8 389.1,231.2 389.7,231.3 390.3,231.5 390.9,231.9 391.5,231.8 392.2,232.2 392.8,232.1 393.4,231.9 394.0,232.6 394.6,232.3 395.2,232.1 395.9,232.4 396.5,233.1 397.1,233.3 397.7,233.0 398.3,232.7 398.9,233.0 399.6,233.6 400.2,233.0 400.8,233.2 401.4,233.3 402.0,233.5 402.6,233.3 403.3,233.5 403.9,233.5 404.5,234.0 405.1,233.8 405.7,233.9 406.3,234.1 407.0,234.3 407.6,234.4 408.2,234.6 408.8,234.2 409.4,234.2 410.0,234.7 410.7,234.9 411.3,235.6 411.9,234.6 412.5,235.6 413.1,234.9 413.7,235.4 414.4,235.8 415.0,235.9 415.6,235.3 416.2,236.1 416.8,235.3 417.4,235.8 418.1,236.5 418.7,236.4 419.3,236.1 419.9,236.0 420.5,236.3 421.1,236.4 421.8,237.1 422.4,236.3 423.0,237.1 423.6,237.2" stroke="#33ff11" stroke-width="5.2"/>
<polyline points="263.9,245.1 264.5,245.7 265.1,245.8 265.7,245.1 266.4,244.9 267.0,245.0 267.6,245.0 268.2,245.0 268.8,244.8 269.4,245.1 270.1,244.5 270.7,245.1 271.3,244.5 271.9,244.0 272.5,244.1 273.1,244.4 273.8,244.6 274.4,243.8 275.0,244.6 275.6,243.6 276.2,244.5 276.8,243.5 277.5,243.9 278.1,244.0 278.7,243.3 279.3,243.5 279.9,243.1 280.5,243.9 281.2,243.4 281.8,243.5 282.4,243.3 283.0,243.6 283.6,243.2 284.2,243.0 284.9,243.2 285.5,243.0 286.1,242.8 286.7,242.3 287.3,243.2 287.9,242.1 288.6,242.4 289.2,242.7 289.8,242.0 290.4,242.1 291.0,241.8 291.6,241.7 292.3,242.2 292.9,241.7 293.5,241.4 294.1,242.3 294.7,241.5 295.3,241.6 296.0,241.7 296.6,241.7 297.2,241.3 297.8,241.5 298.4,241.7 299.0,241.3 299.7,240.9 300.3,240.8 300.9,240.8 301.5,240.9 302.1,241.3 302.7,240.9 303.4,241.0 304.0,240.7 304.6,240.4 305.2,241.0 305.8,239.9 306.4,240.2 307.1,240.0 307.7,239.8 308.3,239.5 308.9,239.9 309.5,240.4 310.1,240.0 310.8,239.3 311.4,240.0 312.0,239.8 312.6,239.8 313.2,239.0 313.8,239.5 314.5,238.5 315.1,238.7 315.7,238.7 316.3,238.5 316.9,238.6 317.5,238.6 318.2,238.0 318.8,237.7 319.4,237.5 320.0,237.7 320.6,238.1 321.2,237.6 321.9,237.2 322.5,237.5 323.1,237.4 323.7,237.2 324.3,236.1 324.9,235.9 325.6,235.6 326.2,236.3 326.8,235.9 327.4,235.2 328.0,235.1 328.6,234.6 329.3,234.7 329.9,234.2 330.5,233.6 331.1,233.0 331.7,233.1 332.3,232.1 333.0,232.1 333.6,231.4 334.2,231.1 334.8,230.2 335.4,229.9 336.0,229.7 336.7,228.2 337.3,227.6 337.9,227.0 338.5,226.3 339.1,226.5 339.7,225.0 340.4,224.7 341.0,223.9 341.6,222.5 342.2,221.8 342.8,220.2 343.4,219.3 344.1,218.8 344.7,218.0 345.3,218.3 345.9,218.1 346.5,218.6 347.1,219.0 347.8,219.7 348.4,220.3 349.0,222.0 349.6,222.0 350.2,223.7 350.8,224.9 351.5,225.7 352.1,225.8 352.7,227.4 353.3,228.2 353.9,229.1 354.5,229.7 355.2,230.7 355.8,231.3 356.4,232.1 357.0,232.2 357.6,232.8 358.2,232.5 358.9,233.5 359.5,233.3 360.1,233.8 360.7,233.5 361.3,233.8 361.9,234.5 362.6,234.9 363.2,235.3 363.8,235.5 364.4,235.4 365.0,235.8 365.6,235.3 366.3,236.0 366.9,236.1 367.5,236.5 368.1,236.4 368.7,236.1 369.3,236.8 370.0,237.0 370.6,237.0 371.2,237.4 371.8,237.3 372.4,237.1 373.0,237.3 373.7,237.1 374.3,237.6 374.9,237.1 375.5,237.7 376.1,238.2 376.7,237.9 377.4,237.9 378.0,237.7 378.6,237.6 379.2,237.8 379.8,238.5 380.4,238.2 381.1,237.9 381.7,238.4 382.3,238.7 382.9,238.4 383.5,238.6 384.1,238.2 384.8,238.3 385.4,238.8 386.0,238.6 386.6,238.8 387.2,239.4 387.8,238.6 388.5,238.5 389.1,238.8 389.7,239.4 390.3,238.9 390.9,239.1 391.5,239.4 392.2,239.3 392.8,239.6 393.4,239.7 394.0,239.5 394.6,239.6 395.2,240.3 395.9,239.8 396.5,240.2 397.1,240.6 397.7,239.7 398.3,239.8 398.9,239.9 399.6,239.9 400.2,240.7 400.8,240.3 401.4,240.2 402.0,240.6 402.6,241.2 403.3,240.8 403.9,241.0 404.5,240.9 405.1,241.8 405.7,241.5 406.3,241.3 407.0,241.3 407.6,241.3 408.2,241.6 408.8,242.4 409.4,241.6 410.0,242.6 410.7,242.8 411.3,242.1 411.9,242.0 412.5,242.3 413.1,242.2 413.7,243.0 414.4,243.0 415.0,242.9 415.6,243.7 416.2,243.8 416.8,243.6 417.4,243.7 418.1,244.2 418.7,243.9 419.3,244.2 419.9,244.1 420.5,244.0 421.1,244.6 421.8,244.5 422.4,243.9 423.0,244.1 423.6,244.4" stroke="#3f86b8" stroke-width="5.2"/>
<polyline points="263.9,252.9 264.5,252.8 265.1,252.6 265.7,253.4 266.4,252.7 267.0,252.7 267.6,252.9 268.2,252.0 268.8,251.9 269.4,252.5 270.1,252.1 270.7,251.7 271.3,252.2 271.9,251.7 272.5,251.3 273.1,251.2 273.8,251.5 274.4,251.0 275.0,250.9 275.6,251.4 276.2,251.2 276.8,250.7 277.5,250.6 278.1,250.6 278.7,250.2 279.3,250.2 279.9,250.6 280.5,250.1 281.2,250.2 281.8,250.5 282.4,250.4 283.0,249.4 283.6,250.1 284.2,250.2 284.9,249.2 285.5,249.1 286.1,249.8 286.7,249.4 287.3,248.7 287.9,249.5 288.6,248.7 289.2,249.1 289.8,249.2 290.4,248.0 291.0,248.8 291.6,248.6 292.3,248.2 292.9,248.2 293.5,248.2 294.1,248.1 294.7,247.3 295.3,247.8 296.0,246.9 296.6,247.6 297.2,247.5 297.8,247.1 298.4,247.2 299.0,246.3 299.7,246.8 300.3,246.1 300.9,246.7 301.5,246.8 302.1,246.3 302.7,245.5 303.4,246.3 304.0,245.9 304.6,245.2 305.2,245.1 305.8,244.8 306.4,245.4 307.1,245.2 307.7,244.4 308.3,244.9 308.9,244.6 309.5,244.7 310.1,243.9 310.8,243.8 311.4,243.5 312.0,243.9 312.6,244.0 313.2,243.1 313.8,243.4 314.5,243.1 315.1,242.9 315.7,242.4 316.3,242.4 316.9,242.5 317.5,241.7 318.2,242.1 318.8,241.4 319.4,241.1 320.0,241.0 320.6,241.3 321.2,241.0 321.9,240.3 322.5,241.0 323.1,239.9 323.7,239.9 324.3,239.9 324.9,239.8 325.6,239.8 326.2,239.7 326.8,238.4 327.4,238.9 328.0,238.0 328.6,238.3 329.3,237.1 329.9,237.4 330.5,237.4 331.1,236.2 331.7,236.6 332.3,236.0 333.0,234.9 333.6,234.0 334.2,234.0 334.8,233.1 335.4,231.9 336.0,231.9 336.7,231.3 337.3,230.2 337.9,229.2 338.5,228.3 339.1,227.9 339.7,227.3 340.4,225.7 341.0,224.4 341.6,223.7 342.2,222.4 342.8,220.5 343.4,219.0 344.1,219.0 344.7,218.0 345.3,217.6 345.9,217.8 346.5,217.5 347.1,218.7 347.8,219.1 348.4,220.0 349.0,220.5 349.6,221.6 350.2,222.7 350.8,224.8 351.5,225.8 352.1,227.0 352.7,228.4 353.3,228.5 353.9,230.3 354.5,231.0 355.2,232.3 355.8,233.0 356.4,234.2 357.0,235.5 357.6,235.8 358.2,236.8 358.9,236.5 359.5,237.1 360.1,237.9 360.7,237.5 361.3,238.8 361.9,238.8 362.6,238.9 363.2,239.8 363.8,240.1 364.4,240.4 365.0,240.5 365.6,240.5 366.3,240.8 366.9,241.4 367.5,241.6 368.1,241.3 368.7,241.6 369.3,242.2 370.0,242.1 370.6,242.7 371.2,241.9 371.8,242.9 372.4,243.0 373.0,242.9 373.7,243.3 374.3,243.0 374.9,242.9 375.5,243.3 376.1,243.5 376.7,243.6 377.4,243.8 378.0,244.4 378.6,244.1 379.2,244.2 379.8,245.1 380.4,244.3 381.1,245.1 381.7,244.6 382.3,244.9 382.9,245.5 383.5,245.1 384.1,245.6 384.8,245.5 385.4,245.8 386.0,246.1 386.6,245.5 387.2,245.6 387.8,246.4 388.5,246.3 389.1,246.1 389.7,246.2 390.3,247.0 390.9,246.7 391.5,246.4 392.2,246.7 392.8,247.1 393.4,247.1 394.0,246.8 394.6,247.2 395.2,247.1 395.9,248.1 396.5,247.6 397.1,248.1 397.7,248.2 398.3,247.8 398.9,248.5 399.6,248.4 400.2,248.3 400.8,248.9 401.4,249.1 402.0,249.0 402.6,248.9 403.3,249.2 403.9,249.0 404.5,249.7 405.1,249.7 405.7,249.3 406.3,249.2 407.0,249.9 407.6,250.3 408.2,249.7 408.8,250.6 409.4,250.5 410.0,250.9 410.7,250.2 411.3,251.1 411.9,250.3 412.5,250.5 413.1,250.8 413.7,251.4 414.4,251.3 415.0,251.1 415.6,251.3 416.2,251.8 416.8,251.7 417.4,251.5 418.1,252.4 418.7,252.5 419.3,252.2 419.9,252.8 420.5,252.7 421.1,252.1 421.8,253.1 422.4,253.0 423.0,253.2 423.6,253.1" stroke="#0000ff" stroke-width="5.2"/>
</g>
<clipPath id="cpb2"><rect x="263.9" y="311.2" width="159.70000000000005" height="119.0"/></clipPath>
<g clip-path="url(#cpb2)" fill="none" stroke-linejoin="round" stroke-linecap="round">
<polyline points="263.9,345.0 264.5,345.5 265.1,344.7 265.7,344.6 266.4,345.4 267.0,344.8 267.6,345.4 268.2,345.2 268.8,345.2 269.4,345.3 270.1,345.3 270.7,345.9 271.3,345.7 271.9,346.0 272.5,346.4 273.1,346.0 273.8,346.7 274.4,346.5 275.0,346.9 275.6,346.6 276.2,346.3 276.8,346.5 277.5,346.9 278.1,347.0 278.7,346.9 279.3,347.4 279.9,346.9 280.5,347.5 281.2,347.5 281.8,347.7 282.4,346.9 283.0,348.0 283.6,347.8 284.2,347.5 284.9,348.2 285.5,348.0 286.1,348.5 286.7,348.6 287.3,348.0 287.9,348.1 288.6,348.9 289.2,348.9 289.8,348.9 290.4,348.4 291.0,348.9 291.6,349.2 292.3,349.5 292.9,349.0 293.5,349.5 294.1,348.9 294.7,349.0 295.3,349.8 296.0,349.4 296.6,349.9 297.2,350.2 297.8,349.7 298.4,350.4 299.0,349.9 299.7,350.0 300.3,350.9 300.9,350.1 301.5,351.2 302.1,351.0 302.7,351.3 303.4,350.8 304.0,350.9 304.6,351.1 305.2,351.6 305.8,351.6 306.4,352.2 307.1,351.8 307.7,351.9 308.3,352.2 308.9,352.7 309.5,352.4 310.1,352.8 310.8,353.2 311.4,352.6 312.0,353.2 312.6,353.1 313.2,353.1 313.8,353.5 314.5,353.2 315.1,353.8 315.7,354.2 316.3,354.3 316.9,353.7 317.5,354.0 318.2,354.7 318.8,354.6 319.4,354.0 320.0,354.7 320.6,354.8 321.2,354.7 321.9,354.8 322.5,355.4 323.1,355.2 323.7,355.0 324.3,355.3 324.9,355.4 325.6,356.1 326.2,355.2 326.8,356.1 327.4,356.2 328.0,356.5 328.6,355.8 329.3,356.6 329.9,356.3 330.5,355.9 331.1,356.5 331.7,356.8 332.3,356.6 333.0,357.2 333.6,356.6 334.2,356.5 334.8,357.0 335.4,356.8 336.0,356.9 336.7,356.7 337.3,357.5 337.9,357.0 338.5,357.1 339.1,356.8 339.7,357.7 340.4,357.7 341.0,357.7 341.6,357.9 342.2,357.0 342.8,357.1 343.4,357.0 344.1,357.6 344.7,358.1 345.3,357.5 345.9,358.0 346.5,357.0 347.1,357.7 347.8,357.1 348.4,357.0 349.0,357.5 349.6,357.2 350.2,356.9 350.8,356.9 351.5,357.3 352.1,357.2 352.7,357.2 353.3,356.3 353.9,357.2 354.5,357.0 355.2,356.3 355.8,356.2 356.4,356.6 357.0,355.9 357.6,356.8 358.2,356.0 358.9,356.1 359.5,356.1 360.1,355.4 360.7,356.0 361.3,356.2 361.9,355.7 362.6,355.9 363.2,355.7 363.8,355.7 364.4,354.7 365.0,354.6 365.6,355.0 366.3,354.5 366.9,355.1 367.5,354.7 368.1,354.1 368.7,354.5 369.3,354.6 370.0,354.5 370.6,354.4 371.2,353.4 371.8,353.9 372.4,353.4 373.0,353.7 373.7,353.7 374.3,352.8 374.9,352.9 375.5,352.8 376.1,353.0 376.7,352.8 377.4,353.2 378.0,352.5 378.6,352.4 379.2,352.7 379.8,351.7 380.4,351.8 381.1,351.9 381.7,351.6 382.3,351.5 382.9,351.6 383.5,351.5 384.1,350.9 384.8,351.4 385.4,351.4 386.0,350.6 386.6,351.0 387.2,350.7 387.8,350.7 388.5,350.5 389.1,350.5 389.7,350.7 390.3,350.3 390.9,350.5 391.5,349.7 392.2,349.9 392.8,349.8 393.4,349.3 394.0,349.8 394.6,349.1 395.2,350.0 395.9,349.3 396.5,349.8 397.1,348.8 397.7,349.3 398.3,349.3 398.9,349.0 399.6,348.5 400.2,348.2 400.8,348.7 401.4,348.8 402.0,348.0 402.6,348.2 403.3,348.4 403.9,347.9 404.5,347.7 405.1,347.4 405.7,347.6 406.3,347.2 407.0,347.9 407.6,347.1 408.2,347.7 408.8,347.8 409.4,347.6 410.0,346.7 410.7,346.6 411.3,346.6 411.9,346.5 412.5,346.1 413.1,346.5 413.7,346.6 414.4,346.2 415.0,345.8 415.6,346.5 416.2,346.2 416.8,345.5 417.4,346.0 418.1,345.4 418.7,345.7 419.3,345.8 419.9,345.2 420.5,344.9 421.1,345.5 421.8,344.9 422.4,344.9 423.0,344.7 423.6,345.3" stroke="#820000" stroke-width="5.2"/>
<polyline points="263.9,341.8 264.5,342.3 265.1,342.8 265.7,342.7 266.4,342.1 267.0,342.7 267.6,343.1 268.2,343.0 268.8,343.3 269.4,343.8 270.1,343.6 270.7,343.4 271.3,343.4 271.9,344.2 272.5,344.3 273.1,344.2 273.8,344.6 274.4,344.4 275.0,344.3 275.6,344.4 276.2,344.8 276.8,344.8 277.5,345.1 278.1,345.7 278.7,345.5 279.3,345.4 279.9,346.2 280.5,346.4 281.2,346.0 281.8,346.5 282.4,346.5 283.0,347.2 283.6,346.5 284.2,347.4 284.9,347.2 285.5,347.6 286.1,348.2 286.7,347.6 287.3,348.5 287.9,348.0 288.6,348.9 289.2,348.2 289.8,349.1 290.4,349.3 291.0,349.7 291.6,350.1 292.3,349.6 292.9,349.9 293.5,350.3 294.1,350.4 294.7,350.9 295.3,350.8 296.0,350.8 296.6,351.2 297.2,352.0 297.8,352.1 298.4,352.2 299.0,352.8 299.7,352.5 300.3,353.5 300.9,354.2 301.5,354.5 302.1,354.8 302.7,354.7 303.4,354.7 304.0,355.7 304.6,355.8 305.2,356.2 305.8,356.1 306.4,355.9 307.1,356.9 307.7,356.8 308.3,356.9 308.9,357.4 309.5,358.0 310.1,358.1 310.8,358.9 311.4,358.8 312.0,359.0 312.6,359.8 313.2,359.6 313.8,360.6 314.5,360.7 315.1,361.7 315.7,361.1 316.3,361.6 316.9,362.3 317.5,362.4 318.2,362.7 318.8,363.5 319.4,364.2 320.0,364.3 320.6,364.9 321.2,365.5 321.9,365.7 322.5,366.1 323.1,366.0 323.7,366.2 324.3,366.9 324.9,367.9 325.6,368.0 326.2,368.6 326.8,369.0 327.4,369.0 328.0,369.8 328.6,369.5 329.3,370.4 329.9,370.2 330.5,370.6 331.1,371.3 331.7,371.1 332.3,371.0 333.0,372.2 333.6,372.4 334.2,372.9 334.8,372.5 335.4,372.4 336.0,373.1 336.7,373.5 337.3,373.2 337.9,374.2 338.5,374.3 339.1,374.7 339.7,374.7 340.4,374.9 341.0,374.3 341.6,375.1 342.2,374.9 342.8,375.3 343.4,374.7 344.1,374.5 344.7,374.7 345.3,375.0 345.9,375.0 346.5,374.9 347.1,374.2 347.8,374.6 348.4,374.2 349.0,374.2 349.6,373.4 350.2,373.3 350.8,373.1 351.5,373.4 352.1,373.1 352.7,372.6 353.3,372.7 353.9,372.5 354.5,371.5 355.2,371.3 355.8,371.8 356.4,370.5 357.0,371.1 357.6,370.7 358.2,370.1 358.9,369.9 359.5,369.1 360.1,368.8 360.7,368.3 361.3,368.0 361.9,367.5 362.6,366.8 363.2,367.0 363.8,365.9 364.4,365.5 365.0,365.0 365.6,364.3 366.3,364.5 366.9,364.2 367.5,363.2 368.1,363.2 368.7,361.8 369.3,361.6 370.0,361.1 370.6,361.3 371.2,361.2 371.8,359.8 372.4,359.5 373.0,359.7 373.7,359.4 374.3,358.5 374.9,358.0 375.5,358.3 376.1,358.1 376.7,357.0 377.4,357.3 378.0,356.4 378.6,356.5 379.2,356.3 379.8,355.8 380.4,356.0 381.1,355.1 381.7,355.3 382.3,354.9 382.9,354.8 383.5,354.0 384.1,353.8 384.8,353.8 385.4,353.1 386.0,352.6 386.6,352.2 387.2,352.0 387.8,351.4 388.5,351.5 389.1,351.5 389.7,351.0 390.3,350.8 390.9,350.5 391.5,350.4 392.2,350.4 392.8,350.0 393.4,349.2 394.0,348.9 394.6,348.8 395.2,349.0 395.9,347.9 396.5,348.6 397.1,348.5 397.7,347.6 398.3,347.9 398.9,347.7 399.6,347.3 400.2,347.1 400.8,346.9 401.4,347.0 402.0,346.1 402.6,346.4 403.3,345.7 403.9,345.7 404.5,345.4 405.1,345.3 405.7,345.2 406.3,345.6 407.0,344.9 407.6,345.1 408.2,344.3 408.8,344.8 409.4,344.6 410.0,344.5 410.7,344.5 411.3,343.6 411.9,343.5 412.5,343.2 413.1,343.0 413.7,342.9 414.4,343.4 415.0,342.7 415.6,342.5 416.2,342.4 416.8,342.5 417.4,342.8 418.1,342.7 418.7,342.4 419.3,341.6 419.9,341.2 420.5,341.2 421.1,341.8 421.8,341.1 422.4,340.9 423.0,340.6 423.6,340.6" stroke="#ff2a14" stroke-width="5.2"/>
<polyline points="263.9,350.0 264.5,350.4 265.1,350.7 265.7,350.4 266.4,350.9 267.0,351.0 267.6,351.4 268.2,350.8 268.8,351.4 269.4,351.2 270.1,351.8 270.7,351.7 271.3,351.6 271.9,351.8 272.5,351.3 273.1,351.9 273.8,352.5 274.4,351.7 275.0,351.7 275.6,352.7 276.2,352.8 276.8,352.6 277.5,352.2 278.1,352.5 278.7,352.7 279.3,353.1 279.9,353.0 280.5,353.5 281.2,353.3 281.8,352.8 282.4,353.3 283.0,354.0 283.6,354.1 284.2,353.7 284.9,353.8 285.5,353.5 286.1,353.7 286.7,354.0 287.3,354.2 287.9,354.5 288.6,354.6 289.2,354.5 289.8,355.1 290.4,355.4 291.0,355.6 291.6,355.3 292.3,355.2 292.9,356.0 293.5,355.6 294.1,355.9 294.7,356.9 295.3,356.8 296.0,356.8 296.6,357.7 297.2,357.8 297.8,357.6 298.4,358.1 299.0,358.2 299.7,358.5 300.3,359.4 300.9,359.6 301.5,359.4 302.1,360.5 302.7,360.4 303.4,361.3 304.0,361.2 304.6,361.2 305.2,362.2 305.8,362.5 306.4,362.8 307.1,362.6 307.7,363.4 308.3,364.3 308.9,364.3 309.5,364.3 310.1,365.3 310.8,365.8 311.4,365.9 312.0,366.2 312.6,367.6 313.2,368.1 313.8,367.8 314.5,368.8 315.1,368.9 315.7,369.4 316.3,370.0 316.9,370.7 317.5,371.5 318.2,371.2 318.8,372.2 319.4,372.8 320.0,373.6 320.6,374.1 321.2,374.2 321.9,374.7 322.5,375.7 323.1,375.9 323.7,376.6 324.3,377.4 324.9,377.3 325.6,377.7 326.2,377.9 326.8,379.2 327.4,379.4 328.0,379.6 328.6,380.7 329.3,381.2 329.9,381.1 330.5,381.4 331.1,381.7 331.7,382.7 332.3,382.3 333.0,382.7 333.6,383.8 334.2,383.7 334.8,384.1 335.4,384.0 336.0,384.6 336.7,385.6 337.3,385.6 337.9,386.1 338.5,386.0 339.1,385.9 339.7,387.2 340.4,386.7 341.0,386.6 341.6,387.0 342.2,387.4 342.8,387.4 343.4,387.6 344.1,387.2 344.7,387.7 345.3,387.8 345.9,387.5 346.5,386.9 347.1,386.7 347.8,386.5 348.4,386.3 349.0,385.9 349.6,386.4 350.2,385.6 350.8,385.1 351.5,384.9 352.1,384.0 352.7,384.0 353.3,384.1 353.9,383.8 354.5,383.0 355.2,382.2 355.8,382.7 356.4,382.1 357.0,382.0 357.6,380.9 358.2,380.5 358.9,380.7 359.5,379.3 360.1,379.7 360.7,378.2 361.3,377.9 361.9,378.0 362.6,377.3 363.2,376.7 363.8,376.2 364.4,375.4 365.0,374.2 365.6,374.4 366.3,373.7 366.9,372.8 367.5,372.1 368.1,371.4 368.7,371.3 369.3,370.5 370.0,369.4 370.6,369.7 371.2,368.8 371.8,368.2 372.4,368.3 373.0,367.5 373.7,366.8 374.3,366.4 374.9,366.4 375.5,365.7 376.1,364.5 376.7,364.8 377.4,364.4 378.0,364.0 378.6,362.8 379.2,363.0 379.8,362.7 380.4,362.1 381.1,361.0 381.7,361.1 382.3,361.2 382.9,360.5 383.5,360.3 384.1,359.3 384.8,359.6 385.4,359.5 386.0,359.0 386.6,358.2 387.2,357.6 387.8,358.0 388.5,357.4 389.1,357.6 389.7,356.9 390.3,356.6 390.9,356.0 391.5,355.6 392.2,355.8 392.8,355.3 393.4,355.7 394.0,355.5 394.6,354.4 395.2,355.0 395.9,354.5 396.5,354.6 397.1,354.1 397.7,353.6 398.3,353.4 398.9,353.7 399.6,352.9 400.2,352.7 400.8,353.0 401.4,353.1 402.0,352.1 402.6,352.8 403.3,351.8 403.9,351.8 404.5,351.8 405.1,351.5 405.7,351.7 406.3,351.3 407.0,351.1 407.6,350.8 408.2,350.8 408.8,350.8 409.4,350.8 410.0,350.6 410.7,350.3 411.3,350.1 411.9,350.6 412.5,350.5 413.1,349.9 413.7,349.7 414.4,349.7 415.0,349.8 415.6,350.0 416.2,349.3 416.8,348.9 417.4,349.3 418.1,348.8 418.7,349.3 419.3,348.5 419.9,349.2 420.5,348.7 421.1,348.1 421.8,348.8 422.4,348.0 423.0,348.3 423.6,348.1" stroke="#b48a30" stroke-width="5.2"/>
<polyline points="263.9,357.5 264.5,357.5 265.1,358.0 265.7,357.9 266.4,357.4 267.0,357.4 267.6,357.6 268.2,357.3 268.8,357.5 269.4,358.1 270.1,358.1 270.7,357.8 271.3,357.8 271.9,358.3 272.5,358.0 273.1,358.5 273.8,357.8 274.4,358.8 275.0,358.1 275.6,358.5 276.2,359.0 276.8,358.8 277.5,358.1 278.1,358.6 278.7,358.9 279.3,358.3 279.9,358.3 280.5,359.4 281.2,358.4 281.8,358.5 282.4,358.6 283.0,359.2 283.6,359.6 284.2,358.8 284.9,359.1 285.5,359.5 286.1,359.3 286.7,359.2 287.3,359.4 287.9,359.8 288.6,359.3 289.2,359.3 289.8,359.7 290.4,359.7 291.0,360.5 291.6,360.3 292.3,360.6 292.9,360.5 293.5,360.4 294.1,360.8 294.7,360.4 295.3,361.4 296.0,360.9 296.6,361.7 297.2,361.7 297.8,361.6 298.4,361.2 299.0,361.4 299.7,362.4 300.3,361.8 300.9,362.0 301.5,362.7 302.1,363.3 302.7,362.7 303.4,363.0 304.0,363.1 304.6,364.2 305.2,364.6 305.8,364.7 306.4,365.0 307.1,365.5 307.7,365.8 308.3,366.0 308.9,366.9 309.5,366.9 310.1,367.7 310.8,368.9 311.4,369.3 312.0,369.2 312.6,369.9 313.2,371.2 313.8,371.4 314.5,371.9 315.1,372.3 315.7,372.6 316.3,374.0 316.9,373.7 317.5,375.2 318.2,375.7 318.8,375.8 319.4,376.3 320.0,377.0 320.6,378.1 321.2,378.0 321.9,378.7 322.5,380.0 323.1,380.0 323.7,380.6 324.3,381.2 324.9,381.9 325.6,383.2 326.2,383.3 326.8,384.1 327.4,385.0 328.0,385.6 328.6,385.6 329.3,385.9 329.9,386.9 330.5,387.4 331.1,388.5 331.7,389.1 332.3,389.6 333.0,390.3 333.6,390.5 334.2,391.6 334.8,392.2 335.4,392.7 336.0,393.4 336.7,394.0 337.3,395.0 337.9,394.6 338.5,396.1 339.1,396.7 339.7,397.0 340.4,397.1 341.0,397.4 341.6,397.9 342.2,398.0 342.8,397.7 343.4,398.0 344.1,398.6 344.7,398.3 345.3,398.4 345.9,398.0 346.5,396.9 347.1,397.4 347.8,396.2 348.4,396.4 349.0,395.5 349.6,395.0 350.2,393.9 350.8,393.9 351.5,392.8 352.1,392.1 352.7,392.3 353.3,391.3 353.9,390.4 354.5,389.7 355.2,389.0 355.8,388.7 356.4,387.7 357.0,387.9 357.6,386.7 358.2,386.9 358.9,385.4 359.5,385.3 360.1,384.2 360.7,384.1 361.3,383.2 361.9,383.2 362.6,382.1 363.2,380.9 363.8,381.3 364.4,380.3 365.0,379.3 365.6,379.0 366.3,378.7 366.9,377.4 367.5,376.7 368.1,376.3 368.7,376.1 369.3,375.6 370.0,374.6 370.6,373.8 371.2,373.6 371.8,372.8 372.4,372.4 373.0,372.4 373.7,371.4 374.3,371.1 374.9,370.5 375.5,370.3 376.1,369.1 376.7,369.1 377.4,368.5 378.0,368.6 378.6,367.5 379.2,367.2 379.8,366.4 380.4,366.4 381.1,366.0 381.7,365.8 382.3,365.6 382.9,365.3 383.5,364.7 384.1,364.6 384.8,364.2 385.4,363.4 386.0,363.4 386.6,363.6 387.2,362.9 387.8,363.0 388.5,362.5 389.1,362.8 389.7,361.7 390.3,362.2 390.9,361.4 391.5,361.5 392.2,361.0 392.8,361.4 393.4,360.4 394.0,360.5 394.6,360.7 395.2,360.8 395.9,359.8 396.5,359.9 397.1,359.9 397.7,360.0 398.3,359.4 398.9,360.0 399.6,359.7 400.2,359.5 400.8,359.4 401.4,359.2 402.0,358.5 402.6,358.5 403.3,358.8 403.9,358.8 404.5,358.3 405.1,358.4 405.7,358.7 406.3,358.8 407.0,358.5 407.6,358.1 408.2,358.4 408.8,358.1 409.4,358.3 410.0,357.7 410.7,357.8 411.3,358.1 411.9,357.2 412.5,357.9 413.1,357.6 413.7,358.0 414.4,357.8 415.0,357.0 415.6,357.0 416.2,357.8 416.8,357.6 417.4,357.5 418.1,357.1 418.7,356.8 419.3,356.5 419.9,356.8 420.5,356.5 421.1,356.7 421.8,356.8 422.4,356.3 423.0,356.1 423.6,356.6" stroke="#33ff11" stroke-width="5.2"/>
<polyline points="263.9,365.8 264.5,366.3 265.1,366.2 265.7,365.6 266.4,366.4 267.0,366.5 267.6,366.1 268.2,365.9 268.8,366.8 269.4,366.8 270.1,366.8 270.7,366.7 271.3,367.0 271.9,366.4 272.5,367.0 273.1,366.8 273.8,366.5 274.4,367.0 275.0,366.3 275.6,367.2 276.2,367.1 276.8,367.0 277.5,366.6 278.1,366.5 278.7,367.6 279.3,367.0 279.9,367.3 280.5,367.3 281.2,367.6 281.8,367.1 282.4,367.2 283.0,367.6 283.6,368.0 284.2,367.6 284.9,368.0 285.5,367.5 286.1,368.2 286.7,367.4 287.3,368.3 287.9,367.9 288.6,368.0 289.2,368.3 289.8,368.7 290.4,368.6 291.0,367.9 291.6,368.8 292.3,368.2 292.9,368.1 293.5,368.3 294.1,369.0 294.7,368.9 295.3,368.5 296.0,369.5 296.6,369.4 297.2,369.1 297.8,369.4 298.4,369.3 299.0,369.6 299.7,370.1 300.3,370.0 300.9,369.5 301.5,370.4 302.1,370.7 302.7,370.6 303.4,370.2 304.0,371.2 304.6,370.6 305.2,371.4 305.8,371.7 306.4,371.5 307.1,372.4 307.7,372.1 308.3,372.8 308.9,372.3 309.5,373.4 310.1,372.9 310.8,374.2 311.4,374.1 312.0,374.2 312.6,375.3 313.2,374.9 313.8,375.2 314.5,376.5 315.1,376.6 315.7,377.1 316.3,376.8 316.9,378.3 317.5,378.8 318.2,378.2 318.8,379.8 319.4,380.0 320.0,380.3 320.6,381.1 321.2,381.2 321.9,382.2 322.5,382.6 323.1,384.2 323.7,384.3 324.3,385.6 324.9,386.0 325.6,386.9 326.2,387.2 326.8,388.1 327.4,388.5 328.0,389.1 328.6,390.5 329.3,390.4 329.9,391.6 330.5,391.9 331.1,393.3 331.7,393.9 332.3,394.9 333.0,395.5 333.6,396.7 334.2,397.4 334.8,397.7 335.4,398.7 336.0,400.2 336.7,400.5 337.3,401.2 337.9,402.1 338.5,403.2 339.1,404.3 339.7,404.9 340.4,404.7 341.0,405.9 341.6,405.7 342.2,406.4 342.8,406.1 343.4,406.8 344.1,406.8 344.7,406.5 345.3,406.4 345.9,405.8 346.5,404.9 347.1,405.3 347.8,404.6 348.4,403.5 349.0,402.7 349.6,401.9 350.2,400.8 350.8,400.1 351.5,398.6 352.1,398.7 352.7,397.4 353.3,395.9 353.9,395.0 354.5,394.8 355.2,394.0 355.8,393.0 356.4,391.5 357.0,390.9 357.6,389.9 358.2,389.1 358.9,388.5 359.5,388.1 360.1,386.7 360.7,386.0 361.3,385.7 361.9,384.4 362.6,383.8 363.2,383.2 363.8,382.7 364.4,381.5 365.0,380.3 365.6,379.6 366.3,378.8 366.9,378.6 367.5,378.0 368.1,377.2 368.7,376.8 369.3,376.1 370.0,375.7 370.6,375.7 371.2,374.6 371.8,374.3 372.4,374.5 373.0,374.6 373.7,373.7 374.3,373.3 374.9,373.6 375.5,373.0 376.1,372.5 376.7,372.3 377.4,372.3 378.0,372.1 378.6,371.7 379.2,371.6 379.8,371.7 380.4,371.7 381.1,371.1 381.7,370.9 382.3,370.6 382.9,371.4 383.5,371.0 384.1,370.1 384.8,370.1 385.4,369.8 386.0,370.0 386.6,369.9 387.2,370.4 387.8,370.3 388.5,369.1 389.1,369.5 389.7,369.7 390.3,368.7 390.9,369.5 391.5,368.9 392.2,369.1 392.8,369.1 393.4,368.6 394.0,368.2 394.6,368.3 395.2,368.1 395.9,368.0 396.5,368.2 397.1,368.1 397.7,368.5 398.3,368.3 398.9,368.5 399.6,368.7 400.2,368.5 400.8,368.5 401.4,367.8 402.0,367.6 402.6,367.6 403.3,367.8 403.9,368.3 404.5,367.8 405.1,367.8 405.7,367.9 406.3,367.6 407.0,367.4 407.6,367.4 408.2,367.6 408.8,367.3 409.4,367.9 410.0,367.3 410.7,367.9 411.3,368.1 411.9,367.5 412.5,367.1 413.1,367.8 413.7,367.0 414.4,367.0 415.0,366.9 415.6,366.9 416.2,367.0 416.8,367.5 417.4,367.9 418.1,367.0 418.7,367.1 419.3,367.2 419.9,367.2 420.5,366.9 421.1,367.5 421.8,367.2 422.4,366.7 423.0,367.6 423.6,367.2" stroke="#3f86b8" stroke-width="5.2"/>
<polyline points="263.9,369.1 264.5,369.4 265.1,368.5 265.7,369.3 266.4,369.1 267.0,368.7 267.6,368.8 268.2,368.7 268.8,369.3 269.4,368.8 270.1,369.1 270.7,369.8 271.3,369.4 271.9,370.0 272.5,369.9 273.1,369.4 273.8,369.9 274.4,369.2 275.0,370.3 275.6,370.2 276.2,369.9 276.8,369.6 277.5,369.7 278.1,369.5 278.7,370.3 279.3,369.6 279.9,369.8 280.5,370.0 281.2,370.8 281.8,370.8 282.4,370.9 283.0,370.6 283.6,370.8 284.2,370.2 284.9,370.4 285.5,370.9 286.1,371.0 286.7,370.3 287.3,371.2 287.9,371.3 288.6,370.5 289.2,370.7 289.8,371.0 290.4,371.0 291.0,371.3 291.6,371.2 292.3,371.1 292.9,371.1 293.5,371.0 294.1,372.0 294.7,372.0 295.3,371.9 296.0,372.2 296.6,372.1 297.2,372.1 297.8,372.2 298.4,372.1 299.0,372.0 299.7,372.7 300.3,372.2 300.9,372.9 301.5,372.4 302.1,372.9 302.7,372.8 303.4,373.5 304.0,373.5 304.6,373.5 305.2,373.4 305.8,373.4 306.4,373.9 307.1,373.3 307.7,373.6 308.3,373.9 308.9,373.3 309.5,373.8 310.1,374.2 310.8,374.1 311.4,374.0 312.0,374.7 312.6,373.8 313.2,374.3 313.8,374.0 314.5,374.5 315.1,374.6 315.7,374.5 316.3,375.2 316.9,374.7 317.5,375.4 318.2,375.0 318.8,374.9 319.4,375.7 320.0,375.7 320.6,375.6 321.2,376.4 321.9,376.0 322.5,375.7 323.1,377.0 323.7,376.9 324.3,376.8 324.9,376.7 325.6,377.1 326.2,377.7 326.8,378.1 327.4,378.3 328.0,379.3 328.6,379.9 329.3,381.1 329.9,382.0 330.5,382.3 331.1,384.3 331.7,385.6 332.3,387.1 333.0,388.4 333.6,389.8 334.2,391.5 334.8,393.6 335.4,395.4 336.0,396.2 336.7,398.5 337.3,400.5 337.9,402.3 338.5,404.6 339.1,406.6 339.7,408.1 340.4,409.2 341.0,410.2 341.6,411.4 342.2,411.8 342.8,411.9 343.4,412.6 344.1,412.1 344.7,411.8 345.3,412.0 345.9,411.1 346.5,409.6 347.1,409.2 347.8,407.9 348.4,406.3 349.0,405.2 349.6,403.1 350.2,401.0 350.8,398.8 351.5,396.7 352.1,395.4 352.7,393.5 353.3,392.2 353.9,390.3 354.5,388.3 355.2,387.7 355.8,386.1 356.4,384.5 357.0,383.6 357.6,383.3 358.2,382.2 358.9,381.8 359.5,381.0 360.1,380.4 360.7,379.9 361.3,380.3 361.9,379.0 362.6,378.6 363.2,379.0 363.8,378.5 364.4,378.2 365.0,378.4 365.6,378.2 366.3,377.5 366.9,377.2 367.5,376.8 368.1,376.7 368.7,377.3 369.3,376.4 370.0,376.5 370.6,376.6 371.2,376.3 371.8,376.3 372.4,376.7 373.0,376.8 373.7,376.4 374.3,376.1 374.9,376.5 375.5,376.8 376.1,376.9 376.7,375.9 377.4,376.5 378.0,376.8 378.6,376.8 379.2,376.8 379.8,376.8 380.4,376.5 381.1,375.9 381.7,376.0 382.3,376.6 382.9,376.1 383.5,375.9 384.1,376.3 384.8,376.4 385.4,376.5 386.0,375.7 386.6,375.7 387.2,376.3 387.8,376.6 388.5,375.9 389.1,376.1 389.7,375.9 390.3,376.1 390.9,376.3 391.5,376.0 392.2,376.5 392.8,376.3 393.4,376.2 394.0,375.6 394.6,375.9 395.2,375.7 395.9,375.6 396.5,376.3 397.1,376.5 397.7,376.3 398.3,375.9 398.9,375.9 399.6,376.0 400.2,375.4 400.8,375.4 401.4,376.4 402.0,375.5 402.6,375.6 403.3,376.1 403.9,375.4 404.5,375.9 405.1,375.6 405.7,375.9 406.3,375.7 407.0,375.9 407.6,376.1 408.2,375.8 408.8,375.3 409.4,375.2 410.0,375.8 410.7,376.0 411.3,375.5 411.9,375.9 412.5,375.7 413.1,375.6 413.7,376.1 414.4,375.7 415.0,376.1 415.6,376.1 416.2,375.3 416.8,375.7 417.4,375.3 418.1,375.8 418.7,375.4 419.3,375.5 419.9,375.6 420.5,375.1 421.1,375.6 421.8,375.5 422.4,375.8 423.0,376.0 423.6,375.7" stroke="#0000ff" stroke-width="5.2"/>
</g>
<clipPath id="cpc0"><rect x="522.5" y="25.5" width="159.39999999999998" height="119.1"/></clipPath>
<g clip-path="url(#cpc0)" fill="none" stroke-linejoin="round" stroke-linecap="round">
<polyline points="522.5,128.9 523.1,128.6 523.7,128.6 524.3,128.6 525.0,128.2 525.6,128.3 526.2,128.0 526.8,128.1 527.4,127.9 528.0,127.7 528.7,127.4 529.3,127.4 529.9,127.3 530.5,127.3 531.1,127.0 531.7,126.9 532.3,126.9 533.0,126.7 533.6,126.5 534.2,126.5 534.8,126.4 535.4,126.1 536.0,126.0 536.7,125.9 537.3,125.7 537.9,125.7 538.5,125.5 539.1,125.5 539.7,125.2 540.3,125.2 541.0,125.0 541.6,125.0 542.2,124.9 542.8,124.7 543.4,124.6 544.0,124.3 544.7,124.3 545.3,124.1 545.9,124.2 546.5,123.8 547.1,123.9 547.7,123.8 548.3,123.4 549.0,123.5 549.6,123.2 550.2,123.0 550.8,122.9 551.4,122.9 552.0,122.8 552.7,122.6 553.3,122.3 553.9,122.2 554.5,122.0 555.1,122.0 555.7,121.7 556.3,121.5 557.0,121.6 557.6,121.5 558.2,121.3 558.8,121.0 559.4,120.8 560.0,120.9 560.7,120.6 561.3,120.5 561.9,120.3 562.5,119.9 563.1,119.9 563.7,119.6 564.4,119.5 565.0,119.4 565.6,119.1 566.2,119.1 566.8,118.7 567.4,118.7 568.0,118.6 568.7,118.4 569.3,118.1 569.9,118.0 570.5,117.9 571.1,117.8 571.7,117.6 572.4,117.5 573.0,117.4 573.6,117.4 574.2,117.4 574.8,117.3 575.4,117.0 576.0,116.9 576.7,116.9 577.3,116.9 577.9,116.7 578.5,116.8 579.1,116.7 579.7,116.5 580.4,116.6 581.0,116.5 581.6,116.5 582.2,116.3 582.8,116.1 583.4,116.1 584.0,115.8 584.7,116.0 585.3,115.8 585.9,115.8 586.5,115.5 587.1,115.7 587.7,115.6 588.4,115.6 589.0,115.7 589.6,115.7 590.2,115.6 590.8,115.6 591.4,115.5 592.0,115.7 592.7,115.5 593.3,115.4 593.9,115.4 594.5,115.4 595.1,115.4 595.7,115.5 596.4,115.5 597.0,115.5 597.6,115.4 598.2,115.4 598.8,115.6 599.4,115.6 600.0,115.3 600.7,115.6 601.3,115.3 601.9,115.4 602.5,115.3 603.1,115.4 603.7,115.5 604.4,115.4 605.0,115.5 605.6,115.4 606.2,115.3 606.8,115.4 607.4,115.6 608.0,115.6 608.7,115.5 609.3,115.4 609.9,115.6 610.5,115.6 611.1,115.5 611.7,115.5 612.4,115.5 613.0,115.5 613.6,115.5 614.2,115.5 614.8,115.5 615.4,115.6 616.0,115.7 616.7,115.5 617.3,115.5 617.9,115.6 618.5,115.7 619.1,115.6 619.7,115.8 620.4,116.0 621.0,115.9 621.6,116.3 622.2,116.2 622.8,116.5 623.4,116.6 624.0,116.7 624.7,116.6 625.3,116.6 625.9,116.6 626.5,116.7 627.1,117.0 627.7,117.1 628.4,117.0 629.0,117.1 629.6,117.1 630.2,117.2 630.8,117.4 631.4,117.6 632.0,117.5 632.7,117.7 633.3,117.6 633.9,117.8 634.5,117.9 635.1,118.0 635.7,118.2 636.4,118.5 637.0,118.7 637.6,118.9 638.2,119.0 638.8,119.3 639.4,119.5 640.0,119.5 640.7,119.8 641.3,119.8 641.9,119.9 642.5,120.2 643.1,120.4 643.7,120.5 644.4,120.8 645.0,120.9 645.6,120.9 646.2,121.2 646.8,121.2 647.4,121.4 648.1,121.5 648.7,121.9 649.3,121.9 649.9,122.1 650.5,122.3 651.1,122.3 651.7,122.4 652.4,122.7 653.0,122.7 653.6,123.0 654.2,123.0 654.8,123.2 655.4,123.4 656.1,123.7 656.7,123.6 657.3,123.8 657.9,123.9 658.5,124.0 659.1,124.2 659.7,124.2 660.4,124.4 661.0,124.5 661.6,124.8 662.2,124.7 662.8,125.0 663.4,124.9 664.1,125.2 664.7,125.4 665.3,125.4 665.9,125.6 666.5,125.6 667.1,125.8 667.7,125.8 668.4,126.1 669.0,126.2 669.6,126.4 670.2,126.5 670.8,126.7 671.4,126.7 672.1,126.9 672.7,127.0 673.3,127.2 673.9,127.2 674.5,127.5 675.1,127.6 675.7,127.7 676.4,127.8 677.0,127.9 677.6,127.9 678.2,128.1 678.8,128.4 679.4,128.4 680.1,128.4 680.7,128.5 681.3,128.7 681.9,128.8" stroke="#820000" stroke-width="3.7"/>
<polyline points="522.5,132.2 523.1,131.9 523.7,132.0 524.3,131.8 525.0,131.8 525.6,131.7 526.2,131.6 526.8,131.6 527.4,131.5 528.0,131.3 528.7,131.3 529.3,131.3 529.9,131.0 530.5,130.9 531.1,130.8 531.7,130.8 532.3,130.6 533.0,130.5 533.6,130.5 534.2,130.4 534.8,130.1 535.4,130.1 536.0,130.0 536.7,129.7 537.3,129.7 537.9,129.3 538.5,129.1 539.1,129.2 539.7,129.0 540.3,128.6 541.0,128.5 541.6,128.2 542.2,127.9 542.8,127.9 543.4,127.5 544.0,127.4 544.7,127.2 545.3,127.0 545.9,126.7 546.5,126.6 547.1,126.2 547.7,126.0 548.3,125.9 549.0,125.8 549.6,125.5 550.2,125.3 550.8,124.9 551.4,124.6 552.0,124.5 552.7,124.3 553.3,123.9 553.9,123.6 554.5,123.4 555.1,123.1 555.7,122.7 556.3,122.7 557.0,122.2 557.6,122.0 558.2,121.7 558.8,121.3 559.4,121.0 560.0,120.6 560.7,120.2 561.3,119.7 561.9,119.4 562.5,118.8 563.1,118.5 563.7,117.9 564.4,117.2 565.0,116.6 565.6,116.2 566.2,115.5 566.8,115.0 567.4,114.4 568.0,114.0 568.7,113.4 569.3,112.8 569.9,112.2 570.5,111.6 571.1,111.0 571.7,110.4 572.4,110.1 573.0,109.5 573.6,108.9 574.2,108.4 574.8,107.9 575.4,107.2 576.0,106.7 576.7,106.3 577.3,105.6 577.9,105.2 578.5,104.6 579.1,104.2 579.7,103.6 580.4,103.2 581.0,102.6 581.6,102.0 582.2,101.6 582.8,101.0 583.4,100.3 584.0,99.7 584.7,99.2 585.3,98.6 585.9,98.2 586.5,97.6 587.1,97.2 587.7,96.5 588.4,96.1 589.0,95.5 589.6,95.2 590.2,94.6 590.8,94.4 591.4,93.7 592.0,93.5 592.7,93.1 593.3,92.6 593.9,92.3 594.5,92.0 595.1,91.5 595.7,91.4 596.4,91.1 597.0,90.6 597.6,90.4 598.2,89.9 598.8,89.6 599.4,89.3 600.0,88.8 600.7,88.0 601.3,87.4 601.9,87.0 602.5,86.9 603.1,87.4 603.7,88.0 604.4,88.7 605.0,89.2 605.6,89.5 606.2,90.1 606.8,90.2 607.4,90.5 608.0,90.9 608.7,91.4 609.3,91.6 609.9,92.0 610.5,92.4 611.1,92.9 611.7,93.3 612.4,93.6 613.0,93.9 613.6,94.2 614.2,94.8 614.8,95.2 615.4,95.6 616.0,95.9 616.7,96.5 617.3,97.1 617.9,97.5 618.5,98.1 619.1,98.7 619.7,99.4 620.4,99.9 621.0,100.2 621.6,101.0 622.2,101.5 622.8,102.1 623.4,102.5 624.0,103.2 624.7,103.7 625.3,104.3 625.9,104.7 626.5,105.3 627.1,105.8 627.7,106.1 628.4,106.7 629.0,107.2 629.6,107.9 630.2,108.3 630.8,108.8 631.4,109.4 632.0,109.8 632.7,110.5 633.3,111.1 633.9,111.5 634.5,112.2 635.1,112.6 635.7,113.3 636.4,113.8 637.0,114.6 637.6,114.9 638.2,115.8 638.8,116.3 639.4,116.6 640.0,117.3 640.7,117.8 641.3,118.3 641.9,118.9 642.5,119.3 643.1,119.8 643.7,120.1 644.4,120.6 645.0,121.1 645.6,121.4 646.2,121.8 646.8,122.0 647.4,122.2 648.1,122.6 648.7,122.9 649.3,123.1 649.9,123.4 650.5,123.6 651.1,124.1 651.7,124.1 652.4,124.3 653.0,124.6 653.6,125.1 654.2,125.2 654.8,125.5 655.4,125.6 656.1,126.0 656.7,126.2 657.3,126.4 657.9,126.5 658.5,126.7 659.1,127.1 659.7,127.2 660.4,127.3 661.0,127.5 661.6,127.7 662.2,128.0 662.8,128.3 663.4,128.5 664.1,128.7 664.7,128.9 665.3,128.9 665.9,129.2 666.5,129.5 667.1,129.5 667.7,129.8 668.4,129.8 669.0,130.0 669.6,130.3 670.2,130.3 670.8,130.3 671.4,130.7 672.1,130.6 672.7,130.8 673.3,130.8 673.9,131.0 674.5,131.0 675.1,131.0 675.7,131.3 676.4,131.5 677.0,131.4 677.6,131.5 678.2,131.7 678.8,131.5 679.4,131.8 680.1,131.7 680.7,131.8 681.3,131.9 681.9,132.1" stroke="#ff2a14" stroke-width="3.7"/>
<polyline points="522.5,134.6 523.1,134.4 523.7,134.2 524.3,134.2 525.0,134.0 525.6,133.9 526.2,133.8 526.8,133.8 527.4,133.7 528.0,133.5 528.7,133.4 529.3,133.4 529.9,133.2 530.5,133.0 531.1,132.9 531.7,132.8 532.3,132.7 533.0,132.5 533.6,132.4 534.2,132.3 534.8,131.9 535.4,132.0 536.0,131.8 536.7,131.4 537.3,131.3 537.9,131.3 538.5,131.0 539.1,131.0 539.7,130.6 540.3,130.3 541.0,130.3 541.6,129.9 542.2,129.7 542.8,129.5 543.4,129.5 544.0,129.3 544.7,129.0 545.3,128.8 545.9,128.8 546.5,128.5 547.1,128.2 547.7,128.1 548.3,127.8 549.0,127.8 549.6,127.4 550.2,127.3 550.8,127.0 551.4,126.9 552.0,126.6 552.7,126.6 553.3,126.3 553.9,126.1 554.5,125.8 555.1,125.6 555.7,125.4 556.3,125.1 557.0,125.1 557.6,124.6 558.2,124.4 558.8,124.4 559.4,124.1 560.0,123.6 560.7,123.2 561.3,123.0 561.9,122.8 562.5,122.3 563.1,122.0 563.7,121.4 564.4,121.1 565.0,120.6 565.6,120.3 566.2,119.9 566.8,119.3 567.4,118.7 568.0,118.4 568.7,117.6 569.3,117.2 569.9,116.6 570.5,116.0 571.1,115.3 571.7,114.7 572.4,114.0 573.0,113.4 573.6,112.4 574.2,111.5 574.8,110.5 575.4,109.6 576.0,108.4 576.7,107.3 577.3,106.5 577.9,105.4 578.5,104.5 579.1,103.5 579.7,102.4 580.4,101.5 581.0,100.5 581.6,100.0 582.2,98.9 582.8,98.3 583.4,97.7 584.0,97.2 584.7,96.5 585.3,96.0 585.9,95.4 586.5,94.8 587.1,94.2 587.7,93.4 588.4,92.7 589.0,92.2 589.6,91.1 590.2,90.3 590.8,89.3 591.4,88.5 592.0,87.3 592.7,86.3 593.3,85.3 593.9,84.5 594.5,83.7 595.1,82.5 595.7,81.4 596.4,80.5 597.0,79.6 597.6,78.6 598.2,78.2 598.8,77.5 599.4,77.1 600.0,77.0 600.7,76.9 601.3,77.8 601.9,78.5 602.5,78.6 603.1,77.8 603.7,77.1 604.4,77.0 605.0,77.2 605.6,77.6 606.2,78.1 606.8,78.6 607.4,79.5 608.0,80.5 608.7,81.4 609.3,82.5 609.9,83.6 610.5,84.5 611.1,85.5 611.7,86.3 612.4,87.5 613.0,88.3 613.6,89.3 614.2,90.4 614.8,91.1 615.4,92.1 616.0,92.7 616.7,93.6 617.3,94.2 617.9,94.7 618.5,95.4 619.1,96.0 619.7,96.4 620.4,97.3 621.0,97.9 621.6,98.4 622.2,99.0 622.8,99.9 623.4,100.6 624.0,101.5 624.7,102.6 625.3,103.4 625.9,104.4 626.5,105.5 627.1,106.5 627.7,107.4 628.4,108.3 629.0,109.6 629.6,110.5 630.2,111.6 630.8,112.5 631.4,113.2 632.0,114.0 632.7,114.7 633.3,115.4 633.9,115.9 634.5,116.7 635.1,117.2 635.7,117.8 636.4,118.2 637.0,118.8 637.6,119.2 638.2,119.9 638.8,120.1 639.4,120.6 640.0,121.2 640.7,121.7 641.3,121.8 641.9,122.3 642.5,122.6 643.1,122.9 643.7,123.4 644.4,123.8 645.0,124.0 645.6,124.2 646.2,124.5 646.8,124.8 647.4,124.9 648.1,125.3 648.7,125.6 649.3,125.7 649.9,125.9 650.5,126.1 651.1,126.4 651.7,126.6 652.4,126.8 653.0,127.0 653.6,126.9 654.2,127.4 654.8,127.4 655.4,127.6 656.1,127.8 656.7,128.1 657.3,128.1 657.9,128.3 658.5,128.5 659.1,128.9 659.7,128.9 660.4,129.2 661.0,129.4 661.6,129.6 662.2,129.9 662.8,130.0 663.4,130.3 664.1,130.4 664.7,130.6 665.3,130.7 665.9,130.9 666.5,131.1 667.1,131.4 667.7,131.6 668.4,131.7 669.0,131.9 669.6,131.9 670.2,132.0 670.8,132.2 671.4,132.5 672.1,132.5 672.7,132.7 673.3,132.7 673.9,133.1 674.5,133.1 675.1,133.3 675.7,133.3 676.4,133.4 677.0,133.6 677.6,133.8 678.2,133.9 678.8,133.8 679.4,134.1 680.1,134.1 680.7,134.4 681.3,134.4 681.9,134.6" stroke="#b48a30" stroke-width="3.7"/>
<polyline points="522.5,136.6 523.1,136.4 523.7,136.3 524.3,136.3 525.0,136.1 525.6,135.8 526.2,135.7 526.8,135.5 527.4,135.4 528.0,135.4 528.7,135.3 529.3,135.2 529.9,134.9 530.5,135.0 531.1,134.7 531.7,134.6 532.3,134.3 533.0,134.2 533.6,134.2 534.2,134.0 534.8,134.0 535.4,133.8 536.0,133.5 536.7,133.5 537.3,133.2 537.9,133.1 538.5,133.1 539.1,132.9 539.7,132.8 540.3,132.7 541.0,132.5 541.6,132.2 542.2,132.2 542.8,132.0 543.4,131.7 544.0,131.7 544.7,131.4 545.3,131.2 545.9,131.3 546.5,130.8 547.1,130.7 547.7,130.7 548.3,130.3 549.0,130.2 549.6,129.9 550.2,129.7 550.8,129.6 551.4,129.4 552.0,129.2 552.7,129.1 553.3,128.8 553.9,128.8 554.5,128.5 555.1,128.3 555.7,127.9 556.3,127.8 557.0,127.6 557.6,127.4 558.2,127.2 558.8,126.7 559.4,126.5 560.0,126.3 560.7,125.9 561.3,125.8 561.9,125.2 562.5,125.0 563.1,124.6 563.7,124.1 564.4,123.8 565.0,123.6 565.6,123.1 566.2,122.6 566.8,122.3 567.4,121.8 568.0,121.2 568.7,120.8 569.3,120.4 569.9,119.7 570.5,119.1 571.1,118.4 571.7,117.9 572.4,117.3 573.0,116.7 573.6,116.0 574.2,115.1 574.8,114.3 575.4,113.7 576.0,112.8 576.7,111.9 577.3,111.2 577.9,110.3 578.5,109.6 579.1,108.9 579.7,108.1 580.4,107.0 581.0,105.9 581.6,104.8 582.2,102.9 582.8,100.9 583.4,98.8 584.0,96.8 584.7,94.9 585.3,92.5 585.9,90.1 586.5,88.0 587.1,86.1 587.7,84.7 588.4,83.3 589.0,82.1 589.6,81.0 590.2,80.1 590.8,79.1 591.4,78.4 592.0,77.2 592.7,76.1 593.3,75.1 593.9,73.9 594.5,72.6 595.1,71.3 595.7,69.8 596.4,68.6 597.0,67.5 597.6,66.3 598.2,65.0 598.8,63.9 599.4,63.0 600.0,62.3 600.7,61.7 601.3,61.0 601.9,60.7 602.5,60.8 603.1,61.1 603.7,61.7 604.4,62.4 605.0,63.0 605.6,63.9 606.2,65.2 606.8,66.4 607.4,67.4 608.0,68.7 608.7,70.0 609.3,71.1 609.9,72.5 610.5,73.8 611.1,75.0 611.7,76.1 612.4,77.4 613.0,78.3 613.6,79.3 614.2,80.0 614.8,81.2 615.4,82.1 616.0,83.2 616.7,84.6 617.3,86.3 617.9,88.0 618.5,90.4 619.1,92.5 619.7,94.8 620.4,97.1 621.0,98.9 621.6,101.0 622.2,103.0 622.8,104.8 623.4,106.0 624.0,107.2 624.7,108.0 625.3,108.9 625.9,109.4 626.5,110.3 627.1,111.1 627.7,111.9 628.4,112.7 629.0,113.7 629.6,114.2 630.2,115.2 630.8,115.8 631.4,116.7 632.0,117.4 632.7,117.9 633.3,118.6 633.9,119.1 634.5,119.5 635.1,120.2 635.7,120.7 636.4,121.2 637.0,121.8 637.6,122.3 638.2,122.7 638.8,123.2 639.4,123.5 640.0,123.8 640.7,124.3 641.3,124.5 641.9,124.9 642.5,125.3 643.1,125.7 643.7,126.0 644.4,126.1 645.0,126.7 645.6,126.6 646.2,126.9 646.8,127.3 647.4,127.6 648.1,127.7 648.7,128.0 649.3,128.2 649.9,128.5 650.5,128.6 651.1,129.0 651.7,129.2 652.4,129.1 653.0,129.3 653.6,129.8 654.2,129.8 654.8,130.2 655.4,130.2 656.1,130.4 656.7,130.5 657.3,130.8 657.9,130.9 658.5,131.2 659.1,131.4 659.7,131.4 660.4,131.6 661.0,131.9 661.6,131.8 662.2,132.3 662.8,132.2 663.4,132.4 664.1,132.7 664.7,132.8 665.3,132.8 665.9,133.1 666.5,133.2 667.1,133.2 667.7,133.5 668.4,133.7 669.0,133.7 669.6,133.8 670.2,134.1 670.8,134.2 671.4,134.5 672.1,134.3 672.7,134.7 673.3,134.7 673.9,134.9 674.5,135.0 675.1,135.1 675.7,135.1 676.4,135.3 677.0,135.6 677.6,135.6 678.2,135.9 678.8,135.8 679.4,136.1 680.1,136.3 680.7,136.3 681.3,136.4 681.9,136.5" stroke="#33ff11" stroke-width="3.7"/>
<polyline points="522.5,139.7 523.1,139.5 523.7,139.3 524.3,139.3 525.0,139.1 525.6,139.0 526.2,139.1 526.8,138.9 527.4,138.7 528.0,138.6 528.7,138.5 529.3,138.3 529.9,138.4 530.5,138.2 531.1,138.1 531.7,137.9 532.3,138.0 533.0,137.7 533.6,137.7 534.2,137.5 534.8,137.4 535.4,137.3 536.0,137.1 536.7,137.1 537.3,136.8 537.9,136.9 538.5,136.6 539.1,136.4 539.7,136.3 540.3,136.4 541.0,136.1 541.6,136.0 542.2,135.8 542.8,135.6 543.4,135.4 544.0,135.5 544.7,135.2 545.3,135.0 545.9,134.8 546.5,134.8 547.1,134.7 547.7,134.3 548.3,134.0 549.0,134.0 549.6,133.6 550.2,133.4 550.8,133.4 551.4,133.1 552.0,132.9 552.7,132.4 553.3,132.4 553.9,132.0 554.5,131.7 555.1,131.4 555.7,131.1 556.3,130.9 557.0,130.7 557.6,130.5 558.2,130.0 558.8,129.8 559.4,129.6 560.0,129.5 560.7,129.2 561.3,128.9 561.9,128.8 562.5,128.6 563.1,128.1 563.7,127.8 564.4,127.6 565.0,127.3 565.6,127.0 566.2,126.8 566.8,126.3 567.4,126.1 568.0,125.6 568.7,125.3 569.3,124.9 569.9,124.7 570.5,124.1 571.1,123.7 571.7,123.5 572.4,123.0 573.0,122.6 573.6,122.3 574.2,122.0 574.8,121.4 575.4,121.2 576.0,120.9 576.7,120.5 577.3,120.0 577.9,119.6 578.5,119.1 579.1,118.8 579.7,118.4 580.4,117.7 581.0,117.4 581.6,116.9 582.2,116.3 582.8,115.9 583.4,114.9 584.0,113.2 584.7,111.3 585.3,109.3 585.9,107.2 586.5,105.0 587.1,102.6 587.7,100.2 588.4,97.7 589.0,95.3 589.6,92.9 590.2,90.7 590.8,88.1 591.4,85.5 592.0,83.0 592.7,79.8 593.3,76.9 593.9,73.7 594.5,71.0 595.1,68.4 595.7,65.8 596.4,63.1 597.0,60.3 597.6,57.0 598.2,53.7 598.8,50.2 599.4,47.2 600.0,44.2 600.7,40.9 601.3,38.1 601.9,36.3 602.5,36.5 603.1,38.2 603.7,40.9 604.4,44.2 605.0,47.3 605.6,50.1 606.2,53.7 606.8,57.2 607.4,60.3 608.0,63.0 608.7,65.8 609.3,68.3 609.9,71.2 610.5,74.0 611.1,76.8 611.7,79.9 612.4,82.7 613.0,85.6 613.6,88.2 614.2,90.7 614.8,92.8 615.4,95.3 616.0,97.6 616.7,99.9 617.3,102.5 617.9,104.9 618.5,107.3 619.1,109.4 619.7,111.2 620.4,113.3 621.0,114.8 621.6,115.8 622.2,116.4 622.8,117.1 623.4,117.4 624.0,117.8 624.7,118.4 625.3,118.8 625.9,119.1 626.5,119.6 627.1,119.9 627.7,120.2 628.4,120.7 629.0,121.2 629.6,121.6 630.2,121.9 630.8,122.3 631.4,122.6 632.0,123.0 632.7,123.5 633.3,123.9 633.9,124.1 634.5,124.7 635.1,124.9 635.7,125.3 636.4,125.6 637.0,126.1 637.6,126.3 638.2,126.8 638.8,127.1 639.4,127.5 640.0,127.6 640.7,127.9 641.3,128.0 641.9,128.5 642.5,128.6 643.1,128.9 643.7,129.1 644.4,129.4 645.0,129.6 645.6,130.0 646.2,130.1 646.8,130.6 647.4,130.7 648.1,130.9 648.7,131.2 649.3,131.5 649.9,131.6 650.5,132.0 651.1,132.2 651.7,132.5 652.4,132.9 653.0,133.0 653.6,133.2 654.2,133.4 654.8,133.8 655.4,133.9 656.1,134.1 656.7,134.4 657.3,134.4 657.9,134.7 658.5,134.8 659.1,135.2 659.7,135.3 660.4,135.4 661.0,135.6 661.6,135.6 662.2,135.8 662.8,136.1 663.4,136.2 664.1,136.2 664.7,136.4 665.3,136.6 665.9,136.8 666.5,136.8 667.1,136.9 667.7,137.0 668.4,137.2 669.0,137.2 669.6,137.5 670.2,137.5 670.8,137.7 671.4,137.9 672.1,137.8 672.7,137.9 673.3,138.0 673.9,138.1 674.5,138.3 675.1,138.3 675.7,138.6 676.4,138.6 677.0,138.8 677.6,138.9 678.2,138.9 678.8,138.9 679.4,139.1 680.1,139.3 680.7,139.5 681.3,139.4 681.9,139.5" stroke="#3f86b8" stroke-width="3.7"/>
<polyline points="522.5,143.1 523.1,143.0 523.7,142.9 524.3,142.8 525.0,142.9 525.6,142.7 526.2,142.9 526.8,142.7 527.4,142.9 528.0,142.7 528.7,142.8 529.3,142.6 529.9,142.7 530.5,142.7 531.1,142.6 531.7,142.7 532.3,142.5 533.0,142.7 533.6,142.5 534.2,142.5 534.8,142.5 535.4,142.5 536.0,142.3 536.7,142.3 537.3,142.1 537.9,142.1 538.5,142.2 539.1,142.0 539.7,142.0 540.3,141.7 541.0,141.5 541.6,141.5 542.2,141.4 542.8,141.3 543.4,141.2 544.0,141.1 544.7,140.8 545.3,140.6 545.9,140.4 546.5,140.5 547.1,140.1 547.7,140.2 548.3,140.0 549.0,139.6 549.6,139.5 550.2,139.2 550.8,139.2 551.4,139.0 552.0,138.6 552.7,138.2 553.3,138.1 553.9,137.8 554.5,137.4 555.1,137.4 555.7,136.9 556.3,136.9 557.0,136.5 557.6,136.1 558.2,135.9 558.8,135.5 559.4,135.2 560.0,135.0 560.7,134.8 561.3,134.3 561.9,134.2 562.5,133.8 563.1,133.3 563.7,133.1 564.4,132.6 565.0,132.5 565.6,132.1 566.2,131.4 566.8,130.8 567.4,130.3 568.0,129.9 568.7,129.5 569.3,128.9 569.9,128.6 570.5,128.3 571.1,127.9 571.7,127.5 572.4,126.9 573.0,126.6 573.6,126.2 574.2,125.6 574.8,125.1 575.4,124.8 576.0,124.3 576.7,124.0 577.3,123.6 577.9,123.0 578.5,122.7 579.1,122.1 579.7,121.8 580.4,121.2 581.0,120.7 581.6,120.3 582.2,119.6 582.8,119.1 583.4,118.6 584.0,118.0 584.7,117.5 585.3,116.9 585.9,116.2 586.5,115.5 587.1,114.7 587.7,113.8 588.4,112.8 589.0,111.2 589.6,109.5 590.2,107.8 590.8,105.6 591.4,102.9 592.0,100.3 592.7,97.2 593.3,94.3 593.9,90.7 594.5,86.6 595.1,82.5 595.7,77.9 596.4,73.1 597.0,68.0 597.6,62.5 598.2,57.3 598.8,51.8 599.4,46.6 600.0,41.8 600.7,37.6 601.3,32.7 601.9,28.5 602.5,28.5 603.1,32.5 603.7,37.4 604.4,41.9 605.0,46.8 605.6,51.7 606.2,57.2 606.8,62.6 607.4,68.0 608.0,73.0 608.7,77.9 609.3,82.6 609.9,86.8 610.5,90.6 611.1,94.2 611.7,97.4 612.4,100.4 613.0,103.1 613.6,105.4 614.2,107.7 614.8,109.7 615.4,111.3 616.0,112.7 616.7,114.0 617.3,114.8 617.9,115.5 618.5,116.1 619.1,116.9 619.7,117.5 620.4,118.2 621.0,118.5 621.6,119.1 622.2,119.6 622.8,120.1 623.4,120.6 624.0,121.3 624.7,121.7 625.3,122.1 625.9,122.7 626.5,123.1 627.1,123.5 627.7,124.1 628.4,124.2 629.0,124.8 629.6,125.2 630.2,125.6 630.8,126.0 631.4,126.5 632.0,126.8 632.7,127.3 633.3,127.9 633.9,128.2 634.5,128.4 635.1,129.0 635.7,129.5 636.4,129.9 637.0,130.3 637.6,131.0 638.2,131.4 638.8,131.8 639.4,132.3 640.0,132.7 640.7,133.3 641.3,133.6 641.9,133.9 642.5,134.1 643.1,134.3 643.7,134.8 644.4,135.1 645.0,135.1 645.6,135.7 646.2,135.9 646.8,136.3 647.4,136.3 648.1,136.8 648.7,136.9 649.3,137.2 649.9,137.5 650.5,137.9 651.1,138.0 651.7,138.3 652.4,138.6 653.0,138.9 653.6,139.0 654.2,139.3 654.8,139.6 655.4,139.8 656.1,139.9 656.7,140.1 657.3,140.3 657.9,140.4 658.5,140.5 659.1,140.6 659.7,140.9 660.4,140.9 661.0,141.0 661.6,141.1 662.2,141.5 662.8,141.5 663.4,141.7 664.1,141.7 664.7,141.8 665.3,141.9 665.9,142.1 666.5,142.1 667.1,142.2 667.7,142.4 668.4,142.5 669.0,142.5 669.6,142.6 670.2,142.6 670.8,142.7 671.4,142.7 672.1,142.7 672.7,142.5 673.3,142.6 673.9,142.8 674.5,142.6 675.1,142.6 675.7,142.8 676.4,142.7 677.0,142.9 677.6,142.7 678.2,142.9 678.8,142.9 679.4,142.9 680.1,142.8 680.7,142.8 681.3,142.8 681.9,143.1" stroke="#0000ff" stroke-width="3.7"/>
</g>
<clipPath id="cpc1"><rect x="522.5" y="168.3" width="159.39999999999998" height="118.69999999999999"/></clipPath>
<g clip-path="url(#cpc1)" fill="none" stroke-linejoin="round" stroke-linecap="round">
<polyline points="522.5,272.4 523.1,272.4 523.7,272.3 524.3,272.0 525.0,272.0 525.6,271.6 526.2,271.7 526.8,271.3 527.4,271.2 528.0,271.1 528.7,270.9 529.3,270.7 529.9,270.6 530.5,270.6 531.1,270.2 531.7,270.1 532.3,269.8 533.0,269.8 533.6,269.7 534.2,269.5 534.8,269.3 535.4,269.1 536.0,269.1 536.7,268.7 537.3,268.6 537.9,268.3 538.5,268.1 539.1,267.9 539.7,267.7 540.3,267.6 541.0,267.5 541.6,267.3 542.2,266.9 542.8,266.7 543.4,266.6 544.0,266.3 544.7,266.2 545.3,266.0 545.9,265.9 546.5,265.9 547.1,265.8 547.7,265.6 548.3,265.4 549.0,265.3 549.6,265.3 550.2,265.2 550.8,265.0 551.4,264.9 552.0,265.0 552.7,264.7 553.3,264.6 553.9,264.7 554.5,264.6 555.1,264.6 555.7,264.5 556.3,264.3 557.0,264.3 557.6,264.2 558.2,264.1 558.8,263.8 559.4,263.9 560.0,263.7 560.7,263.5 561.3,263.5 561.9,263.2 562.5,263.2 563.1,263.3 563.7,262.9 564.4,262.8 565.0,262.7 565.6,262.7 566.2,262.5 566.8,262.3 567.4,262.1 568.0,262.0 568.7,262.0 569.3,261.9 569.9,261.6 570.5,261.4 571.1,261.4 571.7,261.2 572.4,261.1 573.0,261.0 573.6,260.9 574.2,260.8 574.8,260.8 575.4,260.7 576.0,260.5 576.7,260.5 577.3,260.4 577.9,260.4 578.5,260.3 579.1,260.2 579.7,260.3 580.4,260.1 581.0,259.9 581.6,259.9 582.2,259.6 582.8,259.5 583.4,259.4 584.0,259.4 584.7,259.1 585.3,258.9 585.9,258.8 586.5,258.7 587.1,258.7 587.7,258.6 588.4,258.5 589.0,258.5 589.6,258.5 590.2,258.2 590.8,258.3 591.4,258.3 592.0,258.2 592.7,258.3 593.3,258.2 593.9,258.2 594.5,258.2 595.1,258.2 595.7,258.1 596.4,258.2 597.0,258.1 597.6,258.2 598.2,258.2 598.8,258.2 599.4,258.2 600.0,258.2 600.7,258.0 601.3,258.0 601.9,258.0 602.5,258.2 603.1,258.0 603.7,258.2 604.4,258.1 605.0,258.1 605.6,258.0 606.2,258.0 606.8,258.2 607.4,258.1 608.0,258.2 608.7,258.1 609.3,258.3 609.9,258.3 610.5,258.3 611.1,258.1 611.7,258.3 612.4,258.2 613.0,258.3 613.6,258.3 614.2,258.3 614.8,258.4 615.4,258.5 616.0,258.5 616.7,258.5 617.3,258.6 617.9,258.8 618.5,258.9 619.1,259.0 619.7,259.0 620.4,259.2 621.0,259.5 621.6,259.7 622.2,259.8 622.8,259.9 623.4,259.8 624.0,260.1 624.7,260.2 625.3,260.2 625.9,260.4 626.5,260.4 627.1,260.6 627.7,260.5 628.4,260.6 629.0,260.8 629.6,260.7 630.2,261.0 630.8,260.9 631.4,261.0 632.0,261.1 632.7,261.3 633.3,261.3 633.9,261.4 634.5,261.8 635.1,261.9 635.7,261.9 636.4,262.2 637.0,262.1 637.6,262.2 638.2,262.5 638.8,262.6 639.4,262.6 640.0,262.9 640.7,263.0 641.3,263.0 641.9,263.2 642.5,263.5 643.1,263.4 643.7,263.5 644.4,263.8 645.0,263.9 645.6,264.1 646.2,264.1 646.8,264.2 647.4,264.1 648.1,264.3 648.7,264.3 649.3,264.5 649.9,264.5 650.5,264.5 651.1,264.6 651.7,264.7 652.4,264.9 653.0,264.9 653.6,265.1 654.2,265.3 654.8,265.1 655.4,265.4 656.1,265.6 656.7,265.5 657.3,265.6 657.9,265.9 658.5,266.1 659.1,266.2 659.7,266.2 660.4,266.3 661.0,266.7 661.6,266.8 662.2,267.0 662.8,267.0 663.4,267.3 664.1,267.6 664.7,267.8 665.3,268.0 665.9,268.2 666.5,268.4 667.1,268.7 667.7,268.7 668.4,269.0 669.0,269.1 669.6,269.2 670.2,269.3 670.8,269.7 671.4,269.9 672.1,270.1 672.7,270.2 673.3,270.3 673.9,270.5 674.5,270.6 675.1,270.9 675.7,270.9 676.4,271.1 677.0,271.3 677.6,271.6 678.2,271.5 678.8,271.8 679.4,271.9 680.1,272.0 680.7,272.2 681.3,272.5 681.9,272.5" stroke="#820000" stroke-width="3.7"/>
<polyline points="522.5,280.0 523.1,280.0 523.7,279.8 524.3,279.8 525.0,279.6 525.6,279.4 526.2,279.5 526.8,279.2 527.4,279.3 528.0,279.0 528.7,278.8 529.3,278.6 529.9,278.6 530.5,278.6 531.1,278.4 531.7,278.1 532.3,278.0 533.0,277.8 533.6,277.7 534.2,277.5 534.8,277.6 535.4,277.3 536.0,277.1 536.7,277.1 537.3,276.7 537.9,276.5 538.5,276.3 539.1,276.3 539.7,276.0 540.3,275.7 541.0,275.7 541.6,275.5 542.2,275.1 542.8,275.0 543.4,274.8 544.0,274.5 544.7,274.1 545.3,274.1 545.9,273.8 546.5,273.5 547.1,273.2 547.7,272.9 548.3,272.5 549.0,272.2 549.6,271.8 550.2,271.5 550.8,271.0 551.4,270.7 552.0,270.3 552.7,270.1 553.3,269.5 553.9,269.1 554.5,268.5 555.1,268.1 555.7,267.7 556.3,267.2 557.0,266.8 557.6,266.3 558.2,265.7 558.8,265.2 559.4,264.7 560.0,264.2 560.7,263.5 561.3,262.9 561.9,262.2 562.5,261.5 563.1,260.8 563.7,260.3 564.4,259.6 565.0,259.0 565.6,258.2 566.2,257.8 566.8,257.2 567.4,256.6 568.0,255.9 568.7,255.5 569.3,254.8 569.9,254.2 570.5,253.9 571.1,253.4 571.7,252.9 572.4,252.4 573.0,251.8 573.6,251.5 574.2,251.1 574.8,250.6 575.4,250.1 576.0,249.8 576.7,249.2 577.3,248.9 577.9,248.3 578.5,247.6 579.1,247.1 579.7,246.5 580.4,245.8 581.0,245.3 581.6,244.7 582.2,244.0 582.8,243.5 583.4,242.9 584.0,242.2 584.7,241.4 585.3,240.8 585.9,240.1 586.5,239.3 587.1,238.7 587.7,238.0 588.4,237.3 589.0,236.9 589.6,236.2 590.2,235.5 590.8,234.9 591.4,234.4 592.0,233.8 592.7,233.5 593.3,233.2 593.9,232.7 594.5,232.4 595.1,232.1 595.7,231.8 596.4,231.4 597.0,231.5 597.6,231.5 598.2,231.3 598.8,231.2 599.4,231.3 600.0,231.4 600.7,231.4 601.3,231.8 601.9,231.8 602.5,232.1 603.1,231.9 603.7,231.6 604.4,231.2 605.0,231.2 605.6,231.2 606.2,231.2 606.8,231.4 607.4,231.3 608.0,231.5 608.7,231.8 609.3,232.0 609.9,232.2 610.5,232.6 611.1,233.2 611.7,233.5 612.4,234.0 613.0,234.4 613.6,235.2 614.2,235.6 614.8,236.1 615.4,236.9 616.0,237.3 616.7,238.1 617.3,238.7 617.9,239.4 618.5,240.1 619.1,240.9 619.7,241.5 620.4,242.3 621.0,243.0 621.6,243.5 622.2,244.2 622.8,244.8 623.4,245.2 624.0,245.8 624.7,246.7 625.3,247.0 625.9,247.7 626.5,248.1 627.1,248.9 627.7,249.3 628.4,249.8 629.0,250.2 629.6,250.7 630.2,251.1 630.8,251.5 631.4,252.0 632.0,252.4 632.7,252.8 633.3,253.2 633.9,253.8 634.5,254.4 635.1,255.0 635.7,255.6 636.4,256.0 637.0,256.5 637.6,257.1 638.2,257.8 638.8,258.2 639.4,258.9 640.0,259.6 640.7,260.1 641.3,260.8 641.9,261.5 642.5,262.2 643.1,263.0 643.7,263.5 644.4,264.0 645.0,264.7 645.6,265.3 646.2,265.8 646.8,266.2 647.4,266.6 648.1,267.1 648.7,267.6 649.3,268.0 649.9,268.4 650.5,268.9 651.1,269.4 651.7,270.0 652.4,270.4 653.0,270.9 653.6,271.0 654.2,271.5 654.8,271.8 655.4,272.3 656.1,272.5 656.7,272.8 657.3,273.1 657.9,273.6 658.5,273.6 659.1,274.1 659.7,274.2 660.4,274.3 661.0,274.7 661.6,274.9 662.2,275.2 662.8,275.5 663.4,275.7 664.1,275.9 664.7,276.0 665.3,276.2 665.9,276.3 666.5,276.6 667.1,276.8 667.7,277.0 668.4,277.3 669.0,277.2 669.6,277.5 670.2,277.6 670.8,277.8 671.4,277.8 672.1,278.1 672.7,278.2 673.3,278.4 673.9,278.5 674.5,278.7 675.1,278.7 675.7,278.9 676.4,279.1 677.0,279.1 677.6,279.2 678.2,279.5 678.8,279.4 679.4,279.7 680.1,279.8 680.7,280.0 681.3,280.1 681.9,280.1" stroke="#ff2a14" stroke-width="3.7"/>
<polyline points="522.5,283.2 523.1,282.9 523.7,282.9 524.3,282.9 525.0,282.5 525.6,282.5 526.2,282.3 526.8,282.2 527.4,282.1 528.0,282.1 528.7,281.9 529.3,281.7 529.9,281.7 530.5,281.6 531.1,281.5 531.7,281.2 532.3,281.2 533.0,281.2 533.6,280.9 534.2,280.7 534.8,280.7 535.4,280.4 536.0,280.4 536.7,280.0 537.3,280.0 537.9,279.8 538.5,279.6 539.1,279.4 539.7,279.1 540.3,278.9 541.0,278.8 541.6,278.5 542.2,278.2 542.8,278.0 543.4,277.8 544.0,277.5 544.7,277.3 545.3,277.1 545.9,276.7 546.5,276.6 547.1,276.2 547.7,276.1 548.3,275.7 549.0,275.6 549.6,275.2 550.2,274.9 550.8,274.6 551.4,274.4 552.0,274.1 552.7,273.7 553.3,273.4 553.9,273.0 554.5,272.7 555.1,272.4 555.7,272.1 556.3,271.7 557.0,271.1 557.6,271.0 558.2,270.5 558.8,270.1 559.4,269.5 560.0,269.1 560.7,268.7 561.3,268.3 561.9,267.8 562.5,267.2 563.1,266.7 563.7,266.0 564.4,265.5 565.0,265.0 565.6,264.3 566.2,263.8 566.8,263.0 567.4,262.4 568.0,261.9 568.7,261.0 569.3,260.3 569.9,259.6 570.5,258.8 571.1,258.3 571.7,257.5 572.4,256.7 573.0,255.7 573.6,254.6 574.2,253.5 574.8,252.5 575.4,251.2 576.0,250.0 576.7,248.8 577.3,247.5 577.9,246.5 578.5,245.3 579.1,244.2 579.7,243.0 580.4,242.0 581.0,241.1 581.6,240.2 582.2,239.5 582.8,238.8 583.4,238.2 584.0,237.5 584.7,236.8 585.3,236.2 585.9,235.7 586.5,234.9 587.1,234.3 587.7,233.7 588.4,233.0 589.0,232.1 589.6,231.3 590.2,230.3 590.8,229.3 591.4,228.1 592.0,227.1 592.7,226.1 593.3,225.2 593.9,224.5 594.5,223.8 595.1,223.0 595.7,222.3 596.4,221.7 597.0,221.3 597.6,220.7 598.2,220.4 598.8,219.9 599.4,219.7 600.0,219.7 600.7,219.7 601.3,220.2 601.9,220.6 602.5,220.5 603.1,220.1 603.7,219.8 604.4,219.7 605.0,219.6 605.6,219.9 606.2,220.4 606.8,220.6 607.4,221.3 608.0,221.7 608.7,222.2 609.3,223.1 609.9,223.7 610.5,224.3 611.1,225.2 611.7,226.3 612.4,227.3 613.0,228.4 613.6,229.2 614.2,230.2 614.8,231.3 615.4,232.2 616.0,232.8 616.7,233.5 617.3,234.4 617.9,234.9 618.5,235.8 619.1,236.1 619.7,236.9 620.4,237.5 621.0,238.3 621.6,238.8 622.2,239.7 622.8,240.5 623.4,241.1 624.0,241.9 624.7,243.0 625.3,244.1 625.9,245.1 626.5,246.3 627.1,247.8 627.7,248.7 628.4,250.0 629.0,251.3 629.6,252.5 630.2,253.8 630.8,254.6 631.4,255.6 632.0,256.6 632.7,257.4 633.3,258.2 633.9,258.8 634.5,259.6 635.1,260.5 635.7,261.0 636.4,261.8 637.0,262.6 637.6,263.1 638.2,263.9 638.8,264.4 639.4,265.0 640.0,265.5 640.7,266.2 641.3,266.5 641.9,267.2 642.5,267.7 643.1,268.3 643.7,268.6 644.4,269.3 645.0,269.5 645.6,270.1 646.2,270.4 646.8,270.9 647.4,271.1 648.1,271.5 648.7,272.1 649.3,272.2 649.9,272.7 650.5,272.9 651.1,273.4 651.7,273.8 652.4,273.9 653.0,274.4 653.6,274.6 654.2,275.0 654.8,275.2 655.4,275.5 656.1,275.8 656.7,276.1 657.3,276.2 657.9,276.5 658.5,276.8 659.1,277.2 659.7,277.3 660.4,277.6 661.0,277.8 661.6,277.9 662.2,278.2 662.8,278.6 663.4,278.8 664.1,278.9 664.7,279.2 665.3,279.5 665.9,279.7 666.5,279.8 667.1,279.9 667.7,280.0 668.4,280.4 669.0,280.3 669.6,280.8 670.2,280.8 670.8,280.9 671.4,280.9 672.1,281.1 672.7,281.5 673.3,281.4 673.9,281.5 674.5,281.8 675.1,281.8 675.7,281.9 676.4,282.1 677.0,282.2 677.6,282.5 678.2,282.3 678.8,282.4 679.4,282.6 680.1,282.9 680.7,282.8 681.3,283.2 681.9,283.0" stroke="#b48a30" stroke-width="3.7"/>
<polyline points="522.5,285.2 523.1,285.2 523.7,285.1 524.3,284.9 525.0,284.8 525.6,284.8 526.2,284.7 526.8,284.6 527.4,284.6 528.0,284.7 528.7,284.6 529.3,284.6 529.9,284.4 530.5,284.4 531.1,284.3 531.7,284.3 532.3,284.1 533.0,283.9 533.6,284.0 534.2,283.8 534.8,283.7 535.4,283.7 536.0,283.4 536.7,283.5 537.3,283.4 537.9,283.4 538.5,283.1 539.1,282.9 539.7,282.7 540.3,282.8 541.0,282.4 541.6,282.3 542.2,282.1 542.8,281.9 543.4,281.9 544.0,281.6 544.7,281.3 545.3,281.3 545.9,281.0 546.5,281.0 547.1,280.7 547.7,280.5 548.3,280.3 549.0,280.2 549.6,279.8 550.2,279.7 550.8,279.4 551.4,279.3 552.0,279.0 552.7,278.9 553.3,278.4 553.9,278.3 554.5,277.9 555.1,277.7 555.7,277.3 556.3,277.0 557.0,276.7 557.6,276.6 558.2,276.2 558.8,275.8 559.4,275.4 560.0,275.3 560.7,274.7 561.3,274.2 561.9,274.0 562.5,273.3 563.1,272.9 563.7,272.4 564.4,272.1 565.0,271.3 565.6,270.7 566.2,270.2 566.8,269.6 567.4,269.1 568.0,268.6 568.7,267.9 569.3,267.2 569.9,266.3 570.5,265.6 571.1,264.7 571.7,263.8 572.4,262.9 573.0,261.9 573.6,260.9 574.2,259.8 574.8,258.7 575.4,257.4 576.0,256.2 576.7,255.0 577.3,253.7 577.9,252.2 578.5,250.7 579.1,249.2 579.7,247.7 580.4,246.1 581.0,244.3 581.6,242.9 582.2,241.1 582.8,239.8 583.4,238.3 584.0,237.0 584.7,235.5 585.3,234.3 585.9,232.7 586.5,231.5 587.1,230.2 587.7,229.0 588.4,227.6 589.0,226.4 589.6,224.9 590.2,223.7 590.8,222.7 591.4,221.2 592.0,220.2 592.7,218.6 593.3,217.5 593.9,215.7 594.5,214.4 595.1,212.8 595.7,211.3 596.4,209.7 597.0,208.9 597.6,207.7 598.2,206.7 598.8,205.9 599.4,205.5 600.0,205.1 600.7,204.9 601.3,204.7 601.9,204.7 602.5,204.9 603.1,205.0 603.7,205.1 604.4,205.2 605.0,205.4 605.6,206.0 606.2,206.7 606.8,207.7 607.4,208.7 608.0,209.7 608.7,211.1 609.3,212.6 609.9,214.1 610.5,215.9 611.1,217.4 611.7,218.6 612.4,220.1 613.0,221.4 613.6,222.6 614.2,223.8 614.8,225.0 615.4,226.2 616.0,227.7 616.7,229.0 617.3,230.2 617.9,231.5 618.5,232.8 619.1,234.3 619.7,235.5 620.4,237.0 621.0,238.3 621.6,239.8 622.2,241.1 622.8,242.8 623.4,244.3 624.0,246.1 624.7,247.8 625.3,249.2 625.9,250.8 626.5,252.4 627.1,253.5 627.7,255.0 628.4,256.1 629.0,257.6 629.6,258.5 630.2,259.8 630.8,261.0 631.4,261.9 632.0,263.0 632.7,264.1 633.3,264.7 633.9,265.7 634.5,266.4 635.1,267.3 635.7,267.9 636.4,268.4 637.0,269.2 637.6,269.7 638.2,270.3 638.8,270.8 639.4,271.5 640.0,272.0 640.7,272.5 641.3,272.9 641.9,273.5 642.5,274.0 643.1,274.3 643.7,274.6 644.4,275.3 645.0,275.3 645.6,275.9 646.2,276.0 646.8,276.4 647.4,276.7 648.1,277.0 648.7,277.5 649.3,277.8 649.9,278.1 650.5,278.3 651.1,278.6 651.7,278.7 652.4,279.0 653.0,279.1 653.6,279.4 654.2,279.7 654.8,280.0 655.4,280.2 656.1,280.2 656.7,280.6 657.3,280.6 657.9,280.8 658.5,281.2 659.1,281.4 659.7,281.5 660.4,281.6 661.0,281.9 661.6,281.9 662.2,282.3 662.8,282.4 663.4,282.6 664.1,282.7 664.7,282.9 665.3,282.9 665.9,283.2 666.5,283.3 667.1,283.5 667.7,283.5 668.4,283.6 669.0,283.7 669.6,283.9 670.2,283.7 670.8,283.9 671.4,284.1 672.1,284.1 672.7,284.3 673.3,284.4 673.9,284.2 674.5,284.4 675.1,284.3 675.7,284.4 676.4,284.7 677.0,284.8 677.6,284.6 678.2,284.9 678.8,284.7 679.4,284.9 680.1,284.8 680.7,285.1 681.3,285.1 681.9,285.0" stroke="#33ff11" stroke-width="3.7"/>
<polyline points="522.5,287.1 523.1,286.9 523.7,287.0 524.3,287.0 525.0,287.0 525.6,286.9 526.2,287.0 526.8,286.9 527.4,286.9 528.0,286.9 528.7,287.0 529.3,286.9 529.9,287.0 530.5,286.9 531.1,286.8 531.7,286.8 532.3,287.0 533.0,287.0 533.6,286.9 534.2,286.8 534.8,287.1 535.4,287.0 536.0,286.9 536.7,287.0 537.3,287.0 537.9,287.0 538.5,287.0 539.1,287.0 539.7,286.9 540.3,287.0 541.0,286.9 541.6,286.8 542.2,286.9 542.8,286.9 543.4,286.8 544.0,287.0 544.7,286.9 545.3,286.9 545.9,286.8 546.5,286.9 547.1,286.9 547.7,286.8 548.3,286.8 549.0,286.8 549.6,286.6 550.2,286.5 550.8,286.6 551.4,286.5 552.0,286.6 552.7,286.4 553.3,286.3 553.9,286.3 554.5,286.2 555.1,286.2 555.7,286.0 556.3,286.2 557.0,286.1 557.6,286.1 558.2,285.9 558.8,285.8 559.4,285.8 560.0,285.6 560.7,285.5 561.3,285.2 561.9,285.1 562.5,284.8 563.1,284.7 563.7,284.6 564.4,284.2 565.0,284.1 565.6,283.8 566.2,283.5 566.8,283.3 567.4,282.8 568.0,282.4 568.7,281.9 569.3,281.3 569.9,281.0 570.5,280.4 571.1,279.9 571.7,279.1 572.4,278.4 573.0,277.8 573.6,277.0 574.2,276.1 574.8,275.3 575.4,274.5 576.0,273.6 576.7,272.6 577.3,271.4 577.9,270.2 578.5,268.9 579.1,267.4 579.7,265.9 580.4,264.2 581.0,262.6 581.6,260.7 582.2,258.4 582.8,256.3 583.4,253.7 584.0,251.4 584.7,248.4 585.3,245.1 585.9,241.9 586.5,239.6 587.1,237.2 587.7,235.4 588.4,233.6 589.0,231.7 589.6,229.8 590.2,227.6 590.8,225.2 591.4,222.6 592.0,219.7 592.7,216.6 593.3,212.9 593.9,209.1 594.5,205.4 595.1,201.9 595.7,198.2 596.4,194.7 597.0,191.6 597.6,188.9 598.2,186.8 598.8,184.9 599.4,183.2 600.0,181.7 600.7,180.1 601.3,179.2 601.9,178.7 602.5,178.7 603.1,179.1 603.7,180.1 604.4,181.6 605.0,183.1 605.6,184.9 606.2,186.9 606.8,188.8 607.4,191.8 608.0,194.7 608.7,198.2 609.3,201.9 609.9,205.3 610.5,209.0 611.1,213.0 611.7,216.5 612.4,219.5 613.0,222.5 613.6,225.2 614.2,227.6 614.8,229.9 615.4,231.8 616.0,233.5 616.7,235.4 617.3,237.4 617.9,239.5 618.5,242.0 619.1,245.1 619.7,248.4 620.4,251.3 621.0,253.9 621.6,256.2 622.2,258.3 622.8,260.5 623.4,262.5 624.0,264.2 624.7,265.8 625.3,267.3 625.9,268.8 626.5,270.2 627.1,271.2 627.7,272.6 628.4,273.4 629.0,274.6 629.6,275.3 630.2,276.3 630.8,277.0 631.4,277.9 632.0,278.6 632.7,279.1 633.3,279.8 633.9,280.5 634.5,280.9 635.1,281.4 635.7,281.8 636.4,282.3 637.0,282.9 637.6,283.2 638.2,283.5 638.8,283.9 639.4,284.2 640.0,284.5 640.7,284.7 641.3,284.6 641.9,284.9 642.5,285.2 643.1,285.2 643.7,285.5 644.4,285.4 645.0,285.8 645.6,285.9 646.2,285.9 646.8,286.0 647.4,286.2 648.1,286.2 648.7,286.1 649.3,286.1 649.9,286.3 650.5,286.4 651.1,286.6 651.7,286.5 652.4,286.4 653.0,286.6 653.6,286.6 654.2,286.6 654.8,286.7 655.4,286.6 656.1,286.7 656.7,286.7 657.3,286.8 657.9,286.9 658.5,286.8 659.1,287.0 659.7,286.9 660.4,286.9 661.0,287.0 661.6,286.8 662.2,286.9 662.8,286.9 663.4,287.0 664.1,286.8 664.7,286.9 665.3,287.0 665.9,287.1 666.5,287.0 667.1,286.8 667.7,286.9 668.4,287.0 669.0,287.0 669.6,287.1 670.2,286.9 670.8,286.8 671.4,286.9 672.1,287.0 672.7,287.0 673.3,287.1 673.9,286.9 674.5,286.9 675.1,287.1 675.7,286.8 676.4,286.8 677.0,286.9 677.6,286.9 678.2,287.1 678.8,287.1 679.4,287.0 680.1,287.1 680.7,287.0 681.3,286.9 681.9,286.9" stroke="#3f86b8" stroke-width="3.7"/>
<polyline points="522.5,287.1 523.1,287.1 523.7,287.1 524.3,286.9 525.0,287.1 525.6,287.0 526.2,287.0 526.8,287.0 527.4,287.1 528.0,286.9 528.7,286.9 529.3,287.0 529.9,287.0 530.5,287.1 531.1,286.9 531.7,287.0 532.3,287.0 533.0,287.1 533.6,287.1 534.2,286.9 534.8,286.9 535.4,287.0 536.0,287.0 536.7,287.0 537.3,287.0 537.9,286.9 538.5,287.0 539.1,286.9 539.7,287.1 540.3,287.1 541.0,287.0 541.6,286.9 542.2,286.9 542.8,286.9 543.4,286.9 544.0,286.9 544.7,286.9 545.3,286.9 545.9,287.1 546.5,287.1 547.1,287.1 547.7,286.9 548.3,287.1 549.0,286.9 549.6,287.0 550.2,286.9 550.8,287.0 551.4,286.9 552.0,286.9 552.7,287.0 553.3,287.1 553.9,286.9 554.5,287.0 555.1,287.1 555.7,287.1 556.3,287.0 557.0,287.1 557.6,287.1 558.2,287.1 558.8,287.0 559.4,287.1 560.0,287.0 560.7,287.1 561.3,287.0 561.9,287.0 562.5,287.1 563.1,287.0 563.7,286.9 564.4,287.1 565.0,287.1 565.6,287.0 566.2,287.1 566.8,287.1 567.4,286.9 568.0,287.0 568.7,287.1 569.3,287.0 569.9,287.1 570.5,287.0 571.1,287.1 571.7,287.1 572.4,287.0 573.0,286.9 573.6,287.0 574.2,286.9 574.8,287.1 575.4,287.0 576.0,287.0 576.7,286.9 577.3,286.7 577.9,286.9 578.5,286.7 579.1,286.6 579.7,286.5 580.4,286.2 581.0,286.2 581.6,285.8 582.2,285.6 582.8,285.1 583.4,284.6 584.0,284.0 584.7,283.0 585.3,282.0 585.9,280.7 586.5,279.2 587.1,277.4 587.7,275.2 588.4,272.7 589.0,269.8 589.6,266.5 590.2,262.9 590.8,258.7 591.4,254.2 592.0,249.3 592.7,243.9 593.3,238.1 593.9,232.1 594.5,226.1 595.1,219.6 595.7,213.3 596.4,206.8 597.0,200.5 597.6,194.6 598.2,189.2 598.8,184.1 599.4,179.7 600.0,176.1 600.7,173.3 601.3,171.7 601.9,170.7 602.5,170.6 603.1,171.8 603.7,173.2 604.4,176.2 605.0,179.9 605.6,184.0 606.2,189.1 606.8,194.5 607.4,200.6 608.0,206.7 608.7,213.0 609.3,219.5 609.9,226.1 610.5,232.1 611.1,238.1 611.7,243.9 612.4,249.2 613.0,254.2 613.6,258.8 614.2,262.8 614.8,266.4 615.4,269.9 616.0,272.6 616.7,275.2 617.3,277.4 617.9,279.0 618.5,280.6 619.1,281.8 619.7,283.1 620.4,283.8 621.0,284.4 621.6,285.1 622.2,285.5 622.8,285.8 623.4,286.2 624.0,286.4 624.7,286.5 625.3,286.7 625.9,286.6 626.5,286.8 627.1,286.7 627.7,286.9 628.4,286.8 629.0,286.9 629.6,286.9 630.2,286.9 630.8,286.9 631.4,286.9 632.0,287.1 632.7,286.9 633.3,287.1 633.9,287.1 634.5,286.9 635.1,287.0 635.7,287.1 636.4,286.9 637.0,287.1 637.6,287.0 638.2,287.1 638.8,287.1 639.4,287.1 640.0,287.1 640.7,287.1 641.3,286.9 641.9,286.9 642.5,287.0 643.1,287.0 643.7,287.0 644.4,286.9 645.0,287.1 645.6,286.9 646.2,286.9 646.8,287.1 647.4,287.1 648.1,286.9 648.7,286.9 649.3,287.0 649.9,286.9 650.5,286.9 651.1,287.1 651.7,287.0 652.4,287.0 653.0,287.1 653.6,286.9 654.2,287.0 654.8,287.0 655.4,286.9 656.1,287.1 656.7,287.0 657.3,286.9 657.9,286.9 658.5,286.9 659.1,286.9 659.7,287.1 660.4,287.1 661.0,287.1 661.6,287.0 662.2,286.9 662.8,287.0 663.4,287.0 664.1,287.1 664.7,286.9 665.3,287.1 665.9,287.0 666.5,287.0 667.1,287.0 667.7,287.1 668.4,287.0 669.0,287.0 669.6,286.9 670.2,287.1 670.8,286.9 671.4,287.0 672.1,287.0 672.7,287.0 673.3,286.9 673.9,286.9 674.5,286.9 675.1,286.9 675.7,287.0 676.4,287.0 677.0,287.0 677.6,287.1 678.2,286.9 678.8,286.9 679.4,287.1 680.1,286.9 680.7,287.1 681.3,286.9 681.9,287.0" stroke="#0000ff" stroke-width="3.7"/>
</g>
<clipPath id="cpc2"><rect x="522.5" y="311.2" width="159.39999999999998" height="119.0"/></clipPath>
<g clip-path="url(#cpc2)" fill="none" stroke-linejoin="round" stroke-linecap="round">
<polyline points="522.5,418.3 523.1,418.2 523.7,417.9 524.3,418.0 525.0,417.6 525.6,417.4 526.2,417.4 526.8,417.1 527.4,417.1 528.0,416.7 528.7,416.7 529.3,416.4 529.9,416.2 530.5,416.1 531.1,415.8 531.7,415.7 532.3,415.4 533.0,415.4 533.6,415.1 534.2,414.9 534.8,414.7 535.4,414.6 536.0,414.5 536.7,414.1 537.3,414.1 537.9,413.8 538.5,413.8 539.1,413.6 539.7,413.3 540.3,413.1 541.0,413.0 541.6,412.7 542.2,412.6 542.8,412.3 543.4,412.2 544.0,412.1 544.7,411.9 545.3,411.6 545.9,411.5 546.5,411.3 547.1,411.2 547.7,411.1 548.3,410.7 549.0,410.5 549.6,410.3 550.2,410.3 550.8,410.0 551.4,409.9 552.0,409.5 552.7,409.4 553.3,409.2 553.9,409.0 554.5,409.0 555.1,408.6 555.7,408.3 556.3,408.2 557.0,407.9 557.6,408.0 558.2,407.8 558.8,407.7 559.4,407.3 560.0,407.3 560.7,407.1 561.3,406.9 561.9,406.9 562.5,406.6 563.1,406.6 563.7,406.3 564.4,406.1 565.0,406.2 565.6,405.9 566.2,405.7 566.8,405.6 567.4,405.5 568.0,405.3 568.7,405.2 569.3,405.3 569.9,405.2 570.5,404.9 571.1,404.6 571.7,404.6 572.4,404.5 573.0,404.4 573.6,404.2 574.2,404.1 574.8,403.9 575.4,403.8 576.0,403.7 576.7,403.8 577.3,403.6 577.9,403.3 578.5,403.2 579.1,403.1 579.7,403.2 580.4,402.8 581.0,402.7 581.6,402.6 582.2,402.5 582.8,402.4 583.4,402.4 584.0,402.1 584.7,402.0 585.3,401.8 585.9,401.9 586.5,401.8 587.1,401.6 587.7,401.7 588.4,401.5 589.0,401.5 589.6,401.4 590.2,401.4 590.8,401.2 591.4,401.3 592.0,401.3 592.7,401.2 593.3,401.3 593.9,401.4 594.5,401.1 595.1,401.1 595.7,401.1 596.4,400.9 597.0,400.6 597.6,400.5 598.2,400.1 598.8,399.9 599.4,399.9 600.0,399.7 600.7,399.6 601.3,399.2 601.9,399.1 602.5,399.3 603.1,399.3 603.7,399.6 604.4,399.7 605.0,399.9 605.6,399.9 606.2,400.1 606.8,400.5 607.4,400.7 608.0,400.7 608.7,401.0 609.3,401.1 609.9,401.3 610.5,401.2 611.1,401.2 611.7,401.2 612.4,401.2 613.0,401.4 613.6,401.4 614.2,401.4 614.8,401.5 615.4,401.6 616.0,401.4 616.7,401.6 617.3,401.7 617.9,401.8 618.5,401.8 619.1,401.8 619.7,402.0 620.4,402.2 621.0,402.4 621.6,402.5 622.2,402.4 622.8,402.7 623.4,402.8 624.0,402.8 624.7,403.2 625.3,403.2 625.9,403.2 626.5,403.4 627.1,403.5 627.7,403.6 628.4,403.6 629.0,403.9 629.6,403.9 630.2,404.0 630.8,404.4 631.4,404.3 632.0,404.5 632.7,404.8 633.3,404.9 633.9,405.0 634.5,405.2 635.1,405.3 635.7,405.2 636.4,405.4 637.0,405.6 637.6,405.7 638.2,405.8 638.8,406.1 639.4,406.1 640.0,406.4 640.7,406.4 641.3,406.6 641.9,406.7 642.5,406.7 643.1,406.9 643.7,407.2 644.4,407.3 645.0,407.3 645.6,407.5 646.2,407.8 646.8,407.8 647.4,408.0 648.1,408.3 648.7,408.5 649.3,408.5 649.9,408.9 650.5,409.1 651.1,409.3 651.7,409.4 652.4,409.6 653.0,409.7 653.6,410.0 654.2,410.2 654.8,410.2 655.4,410.6 656.1,410.7 656.7,411.0 657.3,411.2 657.9,411.2 658.5,411.6 659.1,411.7 659.7,411.8 660.4,412.1 661.0,412.2 661.6,412.5 662.2,412.6 662.8,412.9 663.4,413.1 664.1,413.1 664.7,413.2 665.3,413.5 665.9,413.7 666.5,413.8 667.1,414.1 667.7,414.4 668.4,414.4 669.0,414.5 669.6,414.9 670.2,415.1 670.8,415.1 671.4,415.4 672.1,415.6 672.7,415.6 673.3,415.9 673.9,415.9 674.5,416.2 675.1,416.5 675.7,416.5 676.4,416.8 677.0,416.9 677.6,417.2 678.2,417.3 678.8,417.4 679.4,417.7 680.1,418.0 680.7,418.0 681.3,418.3 681.9,418.3" stroke="#820000" stroke-width="3.7"/>
<polyline points="522.5,427.6 523.1,427.3 523.7,427.4 524.3,427.1 525.0,427.2 525.6,427.1 526.2,427.0 526.8,427.1 527.4,426.9 528.0,426.7 528.7,426.8 529.3,426.8 529.9,426.6 530.5,426.6 531.1,426.7 531.7,426.4 532.3,426.4 533.0,426.4 533.6,426.1 534.2,426.1 534.8,426.2 535.4,426.1 536.0,425.8 536.7,425.9 537.3,425.7 537.9,425.7 538.5,425.6 539.1,425.2 539.7,425.1 540.3,425.0 541.0,424.8 541.6,424.7 542.2,424.5 542.8,424.4 543.4,424.2 544.0,423.9 544.7,423.8 545.3,423.6 545.9,423.3 546.5,423.3 547.1,422.9 547.7,422.8 548.3,422.5 549.0,422.3 549.6,422.1 550.2,421.8 550.8,421.2 551.4,420.9 552.0,420.7 552.7,420.4 553.3,419.9 553.9,419.6 554.5,419.0 555.1,418.6 555.7,418.4 556.3,417.9 557.0,417.4 557.6,416.9 558.2,416.6 558.8,416.1 559.4,415.6 560.0,415.3 560.7,414.6 561.3,414.0 561.9,413.5 562.5,412.9 563.1,412.2 563.7,411.4 564.4,410.8 565.0,410.0 565.6,409.5 566.2,408.7 566.8,408.2 567.4,407.4 568.0,406.7 568.7,406.0 569.3,405.3 569.9,404.8 570.5,404.0 571.1,403.3 571.7,402.5 572.4,401.4 573.0,400.6 573.6,399.5 574.2,398.5 574.8,397.4 575.4,396.5 576.0,395.6 576.7,394.8 577.3,394.0 577.9,393.1 578.5,392.4 579.1,391.8 579.7,391.1 580.4,390.2 581.0,389.6 581.6,389.1 582.2,388.4 582.8,387.9 583.4,387.0 584.0,386.3 584.7,386.0 585.3,385.2 585.9,384.5 586.5,384.1 587.1,383.5 587.7,383.0 588.4,382.6 589.0,382.1 589.6,381.5 590.2,381.0 590.8,380.6 591.4,380.3 592.0,379.9 592.7,379.6 593.3,379.3 593.9,378.9 594.5,378.5 595.1,378.1 595.7,377.8 596.4,377.4 597.0,376.9 597.6,376.7 598.2,376.3 598.8,375.8 599.4,375.5 600.0,374.9 600.7,374.6 601.3,373.9 601.9,373.3 602.5,373.3 603.1,373.8 603.7,374.6 604.4,374.9 605.0,375.5 605.6,376.0 606.2,376.4 606.8,376.6 607.4,377.0 608.0,377.3 608.7,377.7 609.3,378.2 609.9,378.3 610.5,378.8 611.1,379.1 611.7,379.6 612.4,379.8 613.0,380.3 613.6,380.8 614.2,381.2 614.8,381.5 615.4,381.9 616.0,382.4 616.7,382.9 617.3,383.4 617.9,384.2 618.5,384.8 619.1,385.1 619.7,385.9 620.4,386.4 621.0,387.1 621.6,387.6 622.2,388.5 622.8,389.1 623.4,389.8 624.0,390.4 624.7,391.0 625.3,391.6 625.9,392.3 626.5,393.1 627.1,393.9 627.7,394.7 628.4,395.6 629.0,396.3 629.6,397.4 630.2,398.3 630.8,399.5 631.4,400.5 632.0,401.7 632.7,402.4 633.3,403.2 633.9,403.9 634.5,404.7 635.1,405.4 635.7,406.1 636.4,406.8 637.0,407.4 637.6,408.0 638.2,408.6 638.8,409.6 639.4,410.2 640.0,410.7 640.7,411.5 641.3,412.1 641.9,412.7 642.5,413.5 643.1,414.2 643.7,414.7 644.4,415.1 645.0,415.7 645.6,416.2 646.2,416.5 646.8,417.1 647.4,417.4 648.1,418.0 648.7,418.3 649.3,418.7 649.9,419.1 650.5,419.5 651.1,419.9 651.7,420.2 652.4,420.6 653.0,421.0 653.6,421.2 654.2,421.5 654.8,421.9 655.4,422.2 656.1,422.4 656.7,422.7 657.3,422.9 657.9,423.3 658.5,423.3 659.1,423.7 659.7,423.7 660.4,424.0 661.0,424.2 661.6,424.2 662.2,424.5 662.8,424.8 663.4,424.7 664.1,425.1 664.7,425.0 665.3,425.1 665.9,425.5 666.5,425.6 667.1,425.6 667.7,425.7 668.4,426.0 669.0,425.9 669.6,426.1 670.2,426.3 670.8,426.3 671.4,426.2 672.1,426.4 672.7,426.5 673.3,426.5 673.9,426.7 674.5,426.6 675.1,426.7 675.7,426.7 676.4,426.9 677.0,427.1 677.6,427.1 678.2,427.0 678.8,427.1 679.4,427.3 680.1,427.1 680.7,427.2 681.3,427.3 681.9,427.4" stroke="#ff2a14" stroke-width="3.7"/>
<polyline points="522.5,429.0 523.1,429.1 523.7,428.8 524.3,429.0 525.0,428.9 525.6,428.9 526.2,428.7 526.8,428.7 527.4,428.6 528.0,428.6 528.7,428.6 529.3,428.4 529.9,428.3 530.5,428.4 531.1,428.3 531.7,428.4 532.3,428.1 533.0,428.2 533.6,428.1 534.2,428.1 534.8,427.8 535.4,427.8 536.0,427.8 536.7,427.7 537.3,427.6 537.9,427.5 538.5,427.5 539.1,427.5 539.7,427.4 540.3,427.2 541.0,427.1 541.6,427.2 542.2,427.1 542.8,427.1 543.4,426.7 544.0,426.6 544.7,426.7 545.3,426.3 545.9,426.4 546.5,426.3 547.1,426.1 547.7,425.9 548.3,425.7 549.0,425.6 549.6,425.5 550.2,425.4 550.8,425.2 551.4,424.9 552.0,424.5 552.7,424.5 553.3,424.2 553.9,423.8 554.5,423.5 555.1,423.3 555.7,423.0 556.3,422.9 557.0,422.5 557.6,422.4 558.2,421.9 558.8,421.5 559.4,421.3 560.0,421.1 560.7,420.5 561.3,420.3 561.9,419.7 562.5,419.4 563.1,419.2 563.7,418.6 564.4,417.9 565.0,417.4 565.6,416.8 566.2,416.0 566.8,415.4 567.4,414.4 568.0,413.4 568.7,412.5 569.3,411.7 569.9,410.5 570.5,409.8 571.1,408.7 571.7,407.7 572.4,406.7 573.0,405.8 573.6,404.8 574.2,403.9 574.8,402.7 575.4,401.7 576.0,400.7 576.7,399.5 577.3,398.6 577.9,397.5 578.5,396.6 579.1,395.5 579.7,394.7 580.4,393.7 581.0,392.7 581.6,391.7 582.2,390.7 582.8,389.2 583.4,387.6 584.0,386.3 584.7,384.5 585.3,383.1 585.9,381.4 586.5,379.6 587.1,378.0 587.7,376.9 588.4,376.2 589.0,375.4 589.6,374.5 590.2,373.8 590.8,373.3 591.4,372.8 592.0,372.3 592.7,371.5 593.3,370.9 593.9,370.2 594.5,369.5 595.1,368.6 595.7,367.6 596.4,366.7 597.0,365.6 597.6,364.6 598.2,363.9 598.8,363.2 599.4,362.6 600.0,362.0 600.7,361.7 601.3,361.7 601.9,362.2 602.5,362.3 603.1,361.8 603.7,361.7 604.4,362.0 605.0,362.4 605.6,363.2 606.2,363.9 606.8,364.8 607.4,365.8 608.0,366.7 608.7,367.8 609.3,368.5 609.9,369.4 610.5,370.3 611.1,370.8 611.7,371.5 612.4,372.1 613.0,372.7 613.6,373.5 614.2,374.0 614.8,374.5 615.4,375.3 616.0,376.1 616.7,377.1 617.3,378.2 617.9,379.7 618.5,381.1 619.1,383.0 619.7,384.6 620.4,386.1 621.0,387.8 621.6,389.4 622.2,390.6 622.8,391.8 623.4,392.8 624.0,393.8 624.7,394.5 625.3,395.6 625.9,396.4 626.5,397.7 627.1,398.4 627.7,399.5 628.4,400.7 629.0,401.6 629.6,402.6 630.2,403.6 630.8,404.6 631.4,405.8 632.0,406.8 632.7,407.6 633.3,408.8 633.9,409.8 634.5,410.6 635.1,411.6 635.7,412.7 636.4,413.4 637.0,414.5 637.6,415.2 638.2,416.2 638.8,416.8 639.4,417.6 640.0,417.9 640.7,418.7 641.3,419.0 641.9,419.5 642.5,419.8 643.1,420.3 643.7,420.7 644.4,421.1 645.0,421.2 645.6,421.6 646.2,422.1 646.8,422.3 647.4,422.5 648.1,422.7 648.7,423.0 649.3,423.3 649.9,423.8 650.5,423.8 651.1,424.1 651.7,424.5 652.4,424.7 653.0,424.8 653.6,425.1 654.2,425.4 654.8,425.4 655.4,425.7 656.1,425.7 656.7,425.9 657.3,426.1 657.9,426.2 658.5,426.3 659.1,426.5 659.7,426.7 660.4,426.7 661.0,426.7 661.6,427.0 662.2,427.1 662.8,427.1 663.4,427.2 664.1,427.4 664.7,427.4 665.3,427.4 665.9,427.7 666.5,427.6 667.1,427.8 667.7,427.7 668.4,428.0 669.0,427.9 669.6,427.9 670.2,428.1 670.8,428.1 671.4,428.2 672.1,428.2 672.7,428.2 673.3,428.2 673.9,428.4 674.5,428.4 675.1,428.6 675.7,428.7 676.4,428.7 677.0,428.8 677.6,428.8 678.2,428.8 678.8,428.7 679.4,428.8 680.1,428.9 680.7,429.1 681.3,429.0 681.9,429.0" stroke="#b48a30" stroke-width="3.7"/>
<polyline points="522.5,429.8 523.1,429.6 523.7,429.5 524.3,429.8 525.0,429.7 525.6,429.6 526.2,429.6 526.8,429.7 527.4,429.5 528.0,429.6 528.7,429.4 529.3,429.6 529.9,429.4 530.5,429.4 531.1,429.4 531.7,429.3 532.3,429.2 533.0,429.2 533.6,429.3 534.2,429.2 534.8,429.2 535.4,429.2 536.0,429.2 536.7,429.0 537.3,429.1 537.9,429.0 538.5,429.0 539.1,429.0 539.7,429.0 540.3,429.0 541.0,428.9 541.6,428.7 542.2,428.9 542.8,428.7 543.4,428.7 544.0,428.6 544.7,428.6 545.3,428.6 545.9,428.6 546.5,428.6 547.1,428.3 547.7,428.5 548.3,428.5 549.0,428.4 549.6,428.1 550.2,428.2 550.8,428.2 551.4,428.0 552.0,427.9 552.7,428.0 553.3,427.8 553.9,427.7 554.5,427.6 555.1,427.5 555.7,427.5 556.3,427.4 557.0,427.3 557.6,427.2 558.2,426.9 558.8,427.0 559.4,426.9 560.0,426.8 560.7,426.4 561.3,426.4 561.9,426.3 562.5,426.1 563.1,425.9 563.7,425.8 564.4,425.6 565.0,425.3 565.6,425.1 566.2,424.8 566.8,424.2 567.4,423.5 568.0,423.2 568.7,422.5 569.3,422.0 569.9,421.3 570.5,420.7 571.1,420.0 571.7,419.2 572.4,418.4 573.0,417.6 573.6,416.8 574.2,416.2 574.8,415.7 575.4,414.7 576.0,414.1 576.7,413.4 577.3,412.6 577.9,411.7 578.5,410.8 579.1,409.7 579.7,409.0 580.4,407.8 581.0,406.6 581.6,405.3 582.2,404.0 582.8,402.7 583.4,400.9 584.0,399.2 584.7,397.2 585.3,395.2 585.9,392.3 586.5,389.0 587.1,385.8 587.7,382.7 588.4,379.6 589.0,376.6 589.6,373.8 590.2,371.5 590.8,369.5 591.4,367.9 592.0,366.7 592.7,365.3 593.3,364.1 593.9,362.6 594.5,360.9 595.1,359.2 595.7,357.1 596.4,355.3 597.0,353.4 597.6,351.3 598.2,349.3 598.8,347.5 599.4,346.3 600.0,345.5 600.7,344.6 601.3,343.9 601.9,343.5 602.5,343.7 603.1,344.0 603.7,344.7 604.4,345.3 605.0,346.3 605.6,347.5 606.2,349.5 606.8,351.6 607.4,353.4 608.0,355.4 608.7,357.4 609.3,359.2 609.9,361.1 610.5,362.7 611.1,364.0 611.7,365.5 612.4,366.7 613.0,368.0 613.6,369.7 614.2,371.5 614.8,373.9 615.4,376.8 616.0,379.7 616.7,382.5 617.3,385.8 617.9,389.1 618.5,392.2 619.1,395.3 619.7,397.5 620.4,399.3 621.0,401.1 621.6,402.7 622.2,404.2 622.8,405.4 623.4,406.6 624.0,407.7 624.7,408.8 625.3,409.8 625.9,410.9 626.5,411.7 627.1,412.6 627.7,413.2 628.4,414.2 629.0,414.9 629.6,415.4 630.2,416.3 630.8,416.9 631.4,417.8 632.0,418.3 632.7,419.3 633.3,420.0 633.9,420.5 634.5,421.3 635.1,421.7 635.7,422.4 636.4,423.1 637.0,423.7 637.6,424.1 638.2,424.8 638.8,425.1 639.4,425.2 640.0,425.7 640.7,425.9 641.3,426.0 641.9,426.3 642.5,426.2 643.1,426.5 643.7,426.4 644.4,426.5 645.0,426.6 645.6,427.0 646.2,427.0 646.8,427.0 647.4,427.3 648.1,427.2 648.7,427.5 649.3,427.6 649.9,427.7 650.5,427.6 651.1,427.8 651.7,428.0 652.4,427.8 653.0,428.1 653.6,428.1 654.2,428.3 654.8,428.1 655.4,428.3 656.1,428.5 656.7,428.4 657.3,428.5 657.9,428.5 658.5,428.7 659.1,428.4 659.7,428.8 660.4,428.6 661.0,428.7 661.6,428.6 662.2,428.8 662.8,428.9 663.4,429.0 664.1,428.8 664.7,429.0 665.3,429.0 665.9,429.1 666.5,429.1 667.1,429.2 667.7,429.2 668.4,429.2 669.0,429.1 669.6,429.2 670.2,429.1 670.8,429.1 671.4,429.2 672.1,429.2 672.7,429.2 673.3,429.2 673.9,429.2 674.5,429.3 675.1,429.6 675.7,429.5 676.4,429.5 677.0,429.5 677.6,429.6 678.2,429.4 678.8,429.6 679.4,429.6 680.1,429.5 680.7,429.6 681.3,429.6 681.9,429.6" stroke="#33ff11" stroke-width="3.7"/>
<polyline points="522.5,430.2 523.1,430.3 523.7,430.3 524.3,430.2 525.0,430.2 525.6,430.2 526.2,430.2 526.8,430.1 527.4,430.2 528.0,430.1 528.7,430.1 529.3,430.2 529.9,430.2 530.5,430.3 531.1,430.1 531.7,430.1 532.3,430.1 533.0,430.1 533.6,430.2 534.2,430.1 534.8,430.0 535.4,430.2 536.0,430.2 536.7,430.2 537.3,430.1 537.9,430.0 538.5,430.0 539.1,430.1 539.7,430.1 540.3,430.1 541.0,429.9 541.6,430.1 542.2,429.9 542.8,430.2 543.4,430.2 544.0,430.2 544.7,430.0 545.3,429.9 545.9,430.0 546.5,430.0 547.1,430.1 547.7,430.1 548.3,430.1 549.0,430.0 549.6,430.2 550.2,430.1 550.8,430.1 551.4,429.9 552.0,430.0 552.7,430.0 553.3,430.1 553.9,429.9 554.5,429.9 555.1,430.0 555.7,430.1 556.3,429.8 557.0,429.9 557.6,430.0 558.2,430.0 558.8,429.9 559.4,429.9 560.0,429.9 560.7,429.8 561.3,429.8 561.9,429.7 562.5,429.9 563.1,429.7 563.7,429.8 564.4,429.8 565.0,429.7 565.6,429.6 566.2,429.6 566.8,429.6 567.4,429.5 568.0,429.4 568.7,429.4 569.3,429.3 569.9,429.1 570.5,429.0 571.1,428.9 571.7,428.9 572.4,428.9 573.0,428.6 573.6,428.4 574.2,428.4 574.8,428.3 575.4,428.0 576.0,428.0 576.7,427.8 577.3,427.4 577.9,427.1 578.5,426.8 579.1,426.7 579.7,426.3 580.4,425.8 581.0,425.5 581.6,424.7 582.2,424.1 582.8,423.7 583.4,423.0 584.0,422.4 584.7,421.8 585.3,420.6 585.9,419.3 586.5,417.8 587.1,415.4 587.7,413.1 588.4,410.5 589.0,407.7 589.6,404.3 590.2,399.8 590.8,394.8 591.4,388.2 592.0,381.0 592.7,373.9 593.3,366.6 593.9,360.4 594.5,356.1 595.1,352.1 595.7,348.2 596.4,343.9 597.0,339.6 597.6,336.0 598.2,333.1 598.8,330.5 599.4,328.5 600.0,326.8 600.7,325.5 601.3,324.2 601.9,323.7 602.5,323.6 603.1,324.3 603.7,325.3 604.4,327.0 605.0,328.5 605.6,330.6 606.2,333.0 606.8,335.9 607.4,339.7 608.0,343.9 608.7,348.3 609.3,352.1 609.9,355.9 610.5,360.6 611.1,366.6 611.7,374.0 612.4,381.0 613.0,388.3 613.6,394.7 614.2,399.9 614.8,404.1 615.4,407.7 616.0,410.6 616.7,413.2 617.3,415.4 617.9,417.6 618.5,419.4 619.1,420.7 619.7,421.7 620.4,422.6 621.0,423.1 621.6,423.7 622.2,424.2 622.8,424.7 623.4,425.5 624.0,425.9 624.7,426.4 625.3,426.6 625.9,426.9 626.5,427.2 627.1,427.3 627.7,427.5 628.4,427.8 629.0,428.2 629.6,428.3 630.2,428.3 630.8,428.5 631.4,428.8 632.0,428.8 632.7,428.8 633.3,429.1 633.9,429.2 634.5,429.3 635.1,429.3 635.7,429.4 636.4,429.5 637.0,429.5 637.6,429.7 638.2,429.6 638.8,429.8 639.4,429.6 640.0,429.7 640.7,429.7 641.3,429.9 641.9,430.0 642.5,429.9 643.1,429.9 643.7,429.8 644.4,430.0 645.0,429.8 645.6,429.9 646.2,429.9 646.8,430.1 647.4,429.9 648.1,429.9 648.7,430.1 649.3,429.9 649.9,429.9 650.5,429.9 651.1,430.0 651.7,430.0 652.4,430.0 653.0,430.1 653.6,430.0 654.2,430.1 654.8,430.1 655.4,430.1 656.1,430.0 656.7,430.1 657.3,430.1 657.9,430.0 658.5,430.2 659.1,430.2 659.7,430.1 660.4,430.2 661.0,430.2 661.6,430.0 662.2,430.0 662.8,430.0 663.4,430.1 664.1,430.0 664.7,430.1 665.3,430.0 665.9,430.0 666.5,430.1 667.1,430.0 667.7,430.1 668.4,430.1 669.0,430.0 669.6,430.1 670.2,430.2 670.8,430.1 671.4,430.1 672.1,430.3 672.7,430.1 673.3,430.1 673.9,430.1 674.5,430.2 675.1,430.3 675.7,430.3 676.4,430.0 677.0,430.2 677.6,430.2 678.2,430.1 678.8,430.1 679.4,430.3 680.1,430.3 680.7,430.3 681.3,430.3 681.9,430.2" stroke="#3f86b8" stroke-width="3.7"/>
<polyline points="522.5,430.2 523.1,430.3 523.7,430.3 524.3,430.2 525.0,430.1 525.6,430.2 526.2,430.3 526.8,430.2 527.4,430.2 528.0,430.2 528.7,430.3 529.3,430.2 529.9,430.3 530.5,430.1 531.1,430.2 531.7,430.3 532.3,430.2 533.0,430.2 533.6,430.2 534.2,430.1 534.8,430.3 535.4,430.3 536.0,430.3 536.7,430.1 537.3,430.1 537.9,430.3 538.5,430.1 539.1,430.1 539.7,430.2 540.3,430.3 541.0,430.2 541.6,430.3 542.2,430.2 542.8,430.2 543.4,430.3 544.0,430.2 544.7,430.1 545.3,430.2 545.9,430.3 546.5,430.3 547.1,430.1 547.7,430.1 548.3,430.1 549.0,430.2 549.6,430.3 550.2,430.3 550.8,430.1 551.4,430.3 552.0,430.3 552.7,430.3 553.3,430.1 553.9,430.2 554.5,430.2 555.1,430.2 555.7,430.3 556.3,430.3 557.0,430.1 557.6,430.3 558.2,430.3 558.8,430.1 559.4,430.1 560.0,430.3 560.7,430.3 561.3,430.2 561.9,430.1 562.5,430.2 563.1,430.1 563.7,430.3 564.4,430.3 565.0,430.3 565.6,430.3 566.2,430.3 566.8,430.2 567.4,430.1 568.0,430.2 568.7,430.1 569.3,430.3 569.9,430.1 570.5,430.2 571.1,430.1 571.7,430.1 572.4,430.2 573.0,430.2 573.6,430.3 574.2,430.2 574.8,430.1 575.4,430.1 576.0,430.1 576.7,430.1 577.3,430.2 577.9,430.1 578.5,430.1 579.1,430.3 579.7,430.3 580.4,430.2 581.0,430.3 581.6,430.3 582.2,430.3 582.8,430.3 583.4,430.3 584.0,430.2 584.7,430.2 585.3,430.2 585.9,430.1 586.5,430.1 587.1,430.1 587.7,429.9 588.4,429.4 589.0,429.1 589.6,428.6 590.2,427.7 590.8,426.7 591.4,425.1 592.0,423.0 592.7,420.1 593.3,416.4 593.9,412.0 594.5,406.5 595.1,399.8 595.7,392.3 596.4,383.7 597.0,374.6 597.6,364.7 598.2,354.6 598.8,344.7 599.4,335.8 600.0,327.7 600.7,321.2 601.3,317.2 601.9,314.5 602.5,314.7 603.1,317.2 603.7,321.0 604.4,327.7 605.0,335.8 605.6,344.8 606.2,354.6 606.8,364.5 607.4,374.4 608.0,383.7 608.7,392.3 609.3,399.8 609.9,406.6 610.5,411.9 611.1,416.6 611.7,420.1 612.4,422.8 613.0,425.0 613.6,426.5 614.2,427.8 614.8,428.4 615.4,429.3 616.0,429.5 616.7,429.8 617.3,429.8 617.9,430.1 618.5,430.0 619.1,430.1 619.7,430.2 620.4,430.2 621.0,430.3 621.6,430.1 622.2,430.1 622.8,430.2 623.4,430.1 624.0,430.2 624.7,430.1 625.3,430.3 625.9,430.2 626.5,430.3 627.1,430.2 627.7,430.1 628.4,430.2 629.0,430.3 629.6,430.3 630.2,430.3 630.8,430.1 631.4,430.1 632.0,430.2 632.7,430.3 633.3,430.3 633.9,430.3 634.5,430.2 635.1,430.2 635.7,430.2 636.4,430.3 637.0,430.1 637.6,430.2 638.2,430.1 638.8,430.3 639.4,430.1 640.0,430.3 640.7,430.3 641.3,430.1 641.9,430.3 642.5,430.1 643.1,430.1 643.7,430.3 644.4,430.2 645.0,430.1 645.6,430.2 646.2,430.3 646.8,430.3 647.4,430.1 648.1,430.3 648.7,430.1 649.3,430.1 649.9,430.2 650.5,430.3 651.1,430.1 651.7,430.2 652.4,430.1 653.0,430.3 653.6,430.2 654.2,430.2 654.8,430.1 655.4,430.2 656.1,430.1 656.7,430.3 657.3,430.3 657.9,430.1 658.5,430.1 659.1,430.2 659.7,430.1 660.4,430.2 661.0,430.3 661.6,430.3 662.2,430.1 662.8,430.2 663.4,430.3 664.1,430.3 664.7,430.2 665.3,430.1 665.9,430.1 666.5,430.1 667.1,430.2 667.7,430.1 668.4,430.1 669.0,430.2 669.6,430.2 670.2,430.3 670.8,430.1 671.4,430.3 672.1,430.3 672.7,430.1 673.3,430.1 673.9,430.1 674.5,430.3 675.1,430.1 675.7,430.1 676.4,430.3 677.0,430.2 677.6,430.3 678.2,430.1 678.8,430.2 679.4,430.2 680.1,430.2 680.7,430.2 681.3,430.3 681.9,430.3" stroke="#0000ff" stroke-width="3.7"/>
</g>
<line x1="277.21" y1="68.5" x2="277.21" y2="144.6" stroke="#000" stroke-width="1.7" stroke-dasharray="7.4 4.8 2.2 4.8 2.4 5.2"/>
<line x1="325.38" y1="68.5" x2="325.38" y2="117.8" stroke="#7d7d7d" stroke-width="1.4" stroke-dasharray="6 2.4 1.6 2.4"/>
<line x1="325.38" y1="140.2" x2="325.38" y2="144.6" stroke="#7d7d7d" stroke-width="1.4" stroke-dasharray="6 2.4 1.6 2.4"/>
<line x1="317.13" y1="184.5" x2="317.13" y2="261.5" stroke="#000" stroke-width="1.7" stroke-dasharray="7.4 4.8 2.2 4.8 2.4 5.2"/>
<line x1="317.13" y1="282.0" x2="317.13" y2="287.0" stroke="#000" stroke-width="1.7" stroke-dasharray="7.4 4.8 2.2 4.8 2.4 5.2"/>
<line x1="330.44" y1="341.5" x2="330.44" y2="430.2" stroke="#000" stroke-width="1.7" stroke-dasharray="7.4 4.8 2.2 4.8 2.4 5.2"/>
<line x1="535.78" y1="113.5" x2="535.78" y2="144.6" stroke="#000" stroke-width="1.7" stroke-dasharray="7.4 4.8 2.2 4.8 2.4 5.2"/>
<line x1="583.87" y1="75.5" x2="583.87" y2="144.6" stroke="#7d7d7d" stroke-width="1.4" stroke-dasharray="6 2.4 1.6 2.4"/>
<line x1="575.63" y1="198.5" x2="575.63" y2="287.0" stroke="#000" stroke-width="1.7" stroke-dasharray="7.4 4.8 2.2 4.8 2.4 5.2"/>
<line x1="588.92" y1="342.5" x2="588.92" y2="430.2" stroke="#000" stroke-width="1.7" stroke-dasharray="7.4 4.8 2.2 4.8 2.4 5.2"/>
<line x1="410.29" y1="68.5" x2="410.29" y2="144.6" stroke="#000" stroke-width="1.7" stroke-dasharray="7.4 4.8 2.2 4.8 2.4 5.2"/>
<line x1="362.12" y1="68.5" x2="362.12" y2="117.8" stroke="#7d7d7d" stroke-width="1.4" stroke-dasharray="6 2.4 1.6 2.4"/>
<line x1="362.12" y1="140.2" x2="362.12" y2="144.6" stroke="#7d7d7d" stroke-width="1.4" stroke-dasharray="6 2.4 1.6 2.4"/>
<line x1="370.37" y1="184.5" x2="370.37" y2="261.5" stroke="#000" stroke-width="1.7" stroke-dasharray="7.4 4.8 2.2 4.8 2.4 5.2"/>
<line x1="370.37" y1="282.0" x2="370.37" y2="287.0" stroke="#000" stroke-width="1.7" stroke-dasharray="7.4 4.8 2.2 4.8 2.4 5.2"/>
<line x1="357.06" y1="341.5" x2="357.06" y2="430.2" stroke="#000" stroke-width="1.7" stroke-dasharray="7.4 4.8 2.2 4.8 2.4 5.2"/>
<line x1="668.62" y1="113.5" x2="668.62" y2="144.6" stroke="#000" stroke-width="1.7" stroke-dasharray="7.4 4.8 2.2 4.8 2.4 5.2"/>
<line x1="620.53" y1="75.5" x2="620.53" y2="144.6" stroke="#7d7d7d" stroke-width="1.4" stroke-dasharray="6 2.4 1.6 2.4"/>
<line x1="628.77" y1="198.5" x2="628.77" y2="287.0" stroke="#000" stroke-width="1.7" stroke-dasharray="7.4 4.8 2.2 4.8 2.4 5.2"/>
<line x1="615.48" y1="342.5" x2="615.48" y2="430.2" stroke="#000" stroke-width="1.7" stroke-dasharray="7.4 4.8 2.2 4.8 2.4 5.2"/>
<rect x="49.5" y="25.5" width="159.4" height="119.1" fill="none" stroke="#2e2e2e" stroke-width="1.25"/>
<path d="M49.50 144.6v-3M49.50 25.5v3M89.35 144.6v-3M89.35 25.5v3M129.20 144.6v-3M129.20 25.5v3M169.05 144.6v-3M169.05 25.5v3M208.90 144.6v-3M208.90 25.5v3M69.42 144.6v-1.7M69.42 25.5v1.7M109.28 144.6v-1.7M109.28 25.5v1.7M149.12 144.6v-1.7M149.12 25.5v1.7M188.97 144.6v-1.7M188.97 25.5v1.7M49.5 127.59h3M208.9 127.59h-3M49.5 93.56h3M208.9 93.56h-3M49.5 59.53h3M208.9 59.53h-3M49.5 25.50h3M208.9 25.50h-3M49.5 110.57h1.7M208.9 110.57h-1.7M49.5 76.54h1.7M208.9 76.54h-1.7M49.5 42.51h1.7M208.9 42.51h-1.7" stroke="#2e2e2e" stroke-width="1.1" fill="none"/>
<text x="45.1" y="132.59" font-size="16" text-anchor="end" font-weight="normal" >0</text>
<text x="45.1" y="98.56" font-size="16" text-anchor="end" font-weight="normal" >0.1</text>
<text x="45.1" y="64.53" font-size="16" text-anchor="end" font-weight="normal" >0.2</text>
<text x="45.1" y="30.5" font-size="16" text-anchor="end" font-weight="normal" >0.3</text>
<text x="49.5" y="160.6" font-size="16" text-anchor="middle" font-weight="normal" >-4</text>
<text x="89.35" y="160.6" font-size="16" text-anchor="middle" font-weight="normal" >-2</text>
<text x="129.2" y="160.6" font-size="16" text-anchor="middle" font-weight="normal" >0</text>
<text x="169.05" y="160.6" font-size="16" text-anchor="middle" font-weight="normal" >2</text>
<text x="208.9" y="160.6" font-size="16" text-anchor="middle" font-weight="normal" >4</text>
<rect x="49.5" y="168.3" width="159.4" height="118.7" fill="none" stroke="#2e2e2e" stroke-width="1.25"/>
<path d="M49.50 287.0v-3M49.50 168.3v3M89.35 287.0v-3M89.35 168.3v3M129.20 287.0v-3M129.20 168.3v3M169.05 287.0v-3M169.05 168.3v3M208.90 287.0v-3M208.90 168.3v3M69.42 287.0v-1.7M69.42 168.3v1.7M109.28 287.0v-1.7M109.28 168.3v1.7M149.12 287.0v-1.7M149.12 168.3v1.7M188.97 287.0v-1.7M188.97 168.3v1.7M49.5 287.00h3M208.9 287.00h-3M49.5 253.09h3M208.9 253.09h-3M49.5 219.17h3M208.9 219.17h-3M49.5 185.26h3M208.9 185.26h-3M49.5 270.04h1.7M208.9 270.04h-1.7M49.5 236.13h1.7M208.9 236.13h-1.7M49.5 202.21h1.7M208.9 202.21h-1.7" stroke="#2e2e2e" stroke-width="1.1" fill="none"/>
<text x="45.1" y="292" font-size="16" text-anchor="end" font-weight="normal" >-0.1</text>
<text x="45.1" y="258.09" font-size="16" text-anchor="end" font-weight="normal" >0</text>
<text x="45.1" y="224.17" font-size="16" text-anchor="end" font-weight="normal" >0.1</text>
<text x="45.1" y="190.26" font-size="16" text-anchor="end" font-weight="normal" >0.2</text>
<text x="49.5" y="303" font-size="16" text-anchor="middle" font-weight="normal" >-4</text>
<text x="89.35" y="303" font-size="16" text-anchor="middle" font-weight="normal" >-2</text>
<text x="129.2" y="303" font-size="16" text-anchor="middle" font-weight="normal" >0</text>
<text x="169.05" y="303" font-size="16" text-anchor="middle" font-weight="normal" >2</text>
<text x="208.9" y="303" font-size="16" text-anchor="middle" font-weight="normal" >4</text>
<rect x="49.5" y="311.2" width="159.4" height="119" fill="none" stroke="#2e2e2e" stroke-width="1.25"/>
<path d="M49.50 430.2v-3M49.50 311.2v3M89.35 430.2v-3M89.35 311.2v3M129.20 430.2v-3M129.20 311.2v3M169.05 430.2v-3M169.05 311.2v3M208.90 430.2v-3M208.90 311.2v3M69.42 430.2v-1.7M69.42 311.2v1.7M109.28 430.2v-1.7M109.28 311.2v1.7M149.12 430.2v-1.7M149.12 311.2v1.7M188.97 430.2v-1.7M188.97 311.2v1.7M49.5 430.20h3M208.9 430.20h-3M49.5 396.20h3M208.9 396.20h-3M49.5 362.20h3M208.9 362.20h-3M49.5 328.20h3M208.9 328.20h-3M49.5 413.20h1.7M208.9 413.20h-1.7M49.5 379.20h1.7M208.9 379.20h-1.7M49.5 345.20h1.7M208.9 345.20h-1.7" stroke="#2e2e2e" stroke-width="1.1" fill="none"/>
<text x="45.1" y="435.2" font-size="16" text-anchor="end" font-weight="normal" >-0.1</text>
<text x="45.1" y="401.2" font-size="16" text-anchor="end" font-weight="normal" >0</text>
<text x="45.1" y="367.2" font-size="16" text-anchor="end" font-weight="normal" >0.1</text>
<text x="45.1" y="333.2" font-size="16" text-anchor="end" font-weight="normal" >0.2</text>
<text x="49.5" y="446.2" font-size="16" text-anchor="middle" font-weight="normal" >-4</text>
<text x="89.35" y="446.2" font-size="16" text-anchor="middle" font-weight="normal" >-2</text>
<text x="129.2" y="446.2" font-size="16" text-anchor="middle" font-weight="normal" >0</text>
<text x="169.05" y="446.2" font-size="16" text-anchor="middle" font-weight="normal" >2</text>
<text x="208.9" y="446.2" font-size="16" text-anchor="middle" font-weight="normal" >4</text>
<rect x="263.9" y="25.5" width="159.7" height="119.1" fill="none" stroke="#2e2e2e" stroke-width="1.25"/>
<path d="M263.90 144.6v-3M263.90 25.5v3M290.52 144.6v-3M290.52 25.5v3M317.13 144.6v-3M317.13 25.5v3M343.75 144.6v-3M343.75 25.5v3M370.37 144.6v-3M370.37 25.5v3M396.98 144.6v-3M396.98 25.5v3M423.60 144.6v-3M423.60 25.5v3M277.21 144.6v-1.7M277.21 25.5v1.7M303.82 144.6v-1.7M303.82 25.5v1.7M330.44 144.6v-1.7M330.44 25.5v1.7M357.06 144.6v-1.7M357.06 25.5v1.7M383.68 144.6v-1.7M383.68 25.5v1.7M410.29 144.6v-1.7M410.29 25.5v1.7M263.9 144.60h3M423.6 144.60h-3M263.9 110.57h3M423.6 110.57h-3M263.9 76.54h3M423.6 76.54h-3M263.9 42.51h3M423.6 42.51h-3M263.9 127.59h1.7M423.6 127.59h-1.7M263.9 93.56h1.7M423.6 93.56h-1.7M263.9 59.53h1.7M423.6 59.53h-1.7" stroke="#2e2e2e" stroke-width="1.1" fill="none"/>
<text x="259.5" y="149.6" font-size="16" text-anchor="end" font-weight="normal" >-0.01</text>
<text x="259.5" y="115.57" font-size="16" text-anchor="end" font-weight="normal" >0</text>
<text x="259.5" y="81.54" font-size="16" text-anchor="end" font-weight="normal" >0.01</text>
<text x="259.5" y="47.51" font-size="16" text-anchor="end" font-weight="normal" >0.02</text>
<text x="263.9" y="160.6" font-size="16" text-anchor="middle" font-weight="normal" >-3</text>
<text x="290.52" y="160.6" font-size="16" text-anchor="middle" font-weight="normal" >-2</text>
<text x="317.13" y="160.6" font-size="16" text-anchor="middle" font-weight="normal" >-1</text>
<text x="343.75" y="160.6" font-size="16" text-anchor="middle" font-weight="normal" >0</text>
<text x="370.37" y="160.6" font-size="16" text-anchor="middle" font-weight="normal" >1</text>
<text x="396.98" y="160.6" font-size="16" text-anchor="middle" font-weight="normal" >2</text>
<text x="423.6" y="160.6" font-size="16" text-anchor="middle" font-weight="normal" >3</text>
<rect x="263.9" y="168.3" width="159.7" height="118.7" fill="none" stroke="#2e2e2e" stroke-width="1.25"/>
<path d="M263.90 287.0v-3M263.90 168.3v3M290.52 287.0v-3M290.52 168.3v3M317.13 287.0v-3M317.13 168.3v3M343.75 287.0v-3M343.75 168.3v3M370.37 287.0v-3M370.37 168.3v3M396.98 287.0v-3M396.98 168.3v3M423.60 287.0v-3M423.60 168.3v3M277.21 287.0v-1.7M277.21 168.3v1.7M303.82 287.0v-1.7M303.82 168.3v1.7M330.44 287.0v-1.7M330.44 168.3v1.7M357.06 287.0v-1.7M357.06 168.3v1.7M383.68 287.0v-1.7M383.68 168.3v1.7M410.29 287.0v-1.7M410.29 168.3v1.7M263.9 287.00h3M423.6 287.00h-3M263.9 253.09h3M423.6 253.09h-3M263.9 219.17h3M423.6 219.17h-3M263.9 185.26h3M423.6 185.26h-3M263.9 270.04h1.7M423.6 270.04h-1.7M263.9 236.13h1.7M423.6 236.13h-1.7M263.9 202.21h1.7M423.6 202.21h-1.7" stroke="#2e2e2e" stroke-width="1.1" fill="none"/>
<text x="259.5" y="292" font-size="16" text-anchor="end" font-weight="normal" >-0.02</text>
<text x="259.5" y="258.09" font-size="16" text-anchor="end" font-weight="normal" >-0.01</text>
<text x="259.5" y="224.17" font-size="16" text-anchor="end" font-weight="normal" >0</text>
<text x="259.5" y="190.26" font-size="16" text-anchor="end" font-weight="normal" >0.01</text>
<text x="263.9" y="303" font-size="16" text-anchor="middle" font-weight="normal" >-3</text>
<text x="290.52" y="303" font-size="16" text-anchor="middle" font-weight="normal" >-2</text>
<text x="317.13" y="303" font-size="16" text-anchor="middle" font-weight="normal" >-1</text>
<text x="343.75" y="303" font-size="16" text-anchor="middle" font-weight="normal" >0</text>
<text x="370.37" y="303" font-size="16" text-anchor="middle" font-weight="normal" >1</text>
<text x="396.98" y="303" font-size="16" text-anchor="middle" font-weight="normal" >2</text>
<text x="423.6" y="303" font-size="16" text-anchor="middle" font-weight="normal" >3</text>
<rect x="263.9" y="311.2" width="159.7" height="119" fill="none" stroke="#2e2e2e" stroke-width="1.25"/>
<path d="M263.90 430.2v-3M263.90 311.2v3M290.52 430.2v-3M290.52 311.2v3M317.13 430.2v-3M317.13 311.2v3M343.75 430.2v-3M343.75 311.2v3M370.37 430.2v-3M370.37 311.2v3M396.98 430.2v-3M396.98 311.2v3M423.60 430.2v-3M423.60 311.2v3M277.21 430.2v-1.7M277.21 311.2v1.7M303.82 430.2v-1.7M303.82 311.2v1.7M330.44 430.2v-1.7M330.44 311.2v1.7M357.06 430.2v-1.7M357.06 311.2v1.7M383.68 430.2v-1.7M383.68 311.2v1.7M410.29 430.2v-1.7M410.29 311.2v1.7M263.9 413.20h3M423.6 413.20h-3M263.9 379.20h3M423.6 379.20h-3M263.9 345.20h3M423.6 345.20h-3M263.9 311.20h3M423.6 311.20h-3M263.9 396.20h1.7M423.6 396.20h-1.7M263.9 362.20h1.7M423.6 362.20h-1.7M263.9 328.20h1.7M423.6 328.20h-1.7" stroke="#2e2e2e" stroke-width="1.1" fill="none"/>
<text x="259.5" y="418.2" font-size="16" text-anchor="end" font-weight="normal" >0</text>
<text x="259.5" y="384.2" font-size="16" text-anchor="end" font-weight="normal" >0.01</text>
<text x="259.5" y="350.2" font-size="16" text-anchor="end" font-weight="normal" >0.02</text>
<text x="259.5" y="316.2" font-size="16" text-anchor="end" font-weight="normal" >0.03</text>
<text x="263.9" y="446.2" font-size="16" text-anchor="middle" font-weight="normal" >-3</text>
<text x="290.52" y="446.2" font-size="16" text-anchor="middle" font-weight="normal" >-2</text>
<text x="317.13" y="446.2" font-size="16" text-anchor="middle" font-weight="normal" >-1</text>
<text x="343.75" y="446.2" font-size="16" text-anchor="middle" font-weight="normal" >0</text>
<text x="370.37" y="446.2" font-size="16" text-anchor="middle" font-weight="normal" >1</text>
<text x="396.98" y="446.2" font-size="16" text-anchor="middle" font-weight="normal" >2</text>
<text x="423.6" y="446.2" font-size="16" text-anchor="middle" font-weight="normal" >3</text>
<rect x="522.5" y="25.5" width="159.4" height="119.1" fill="none" stroke="#2e2e2e" stroke-width="1.25"/>
<path d="M522.50 144.6v-3M522.50 25.5v3M549.07 144.6v-3M549.07 25.5v3M575.63 144.6v-3M575.63 25.5v3M602.20 144.6v-3M602.20 25.5v3M628.77 144.6v-3M628.77 25.5v3M655.33 144.6v-3M655.33 25.5v3M681.90 144.6v-3M681.90 25.5v3M535.78 144.6v-1.7M535.78 25.5v1.7M562.35 144.6v-1.7M562.35 25.5v1.7M588.92 144.6v-1.7M588.92 25.5v1.7M615.48 144.6v-1.7M615.48 25.5v1.7M642.05 144.6v-1.7M642.05 25.5v1.7M668.62 144.6v-1.7M668.62 25.5v1.7M522.5 144.60h3M681.9 144.60h-3M522.5 86.27h3M681.9 86.27h-3M522.5 27.95h3M681.9 27.95h-3M522.5 115.44h1.7M681.9 115.44h-1.7M522.5 57.11h1.7M681.9 57.11h-1.7" stroke="#2e2e2e" stroke-width="1.1" fill="none"/>
<text x="518.1" y="149.6" font-size="16" text-anchor="end" font-weight="normal" >0</text>
<text x="518.1" y="91.27" font-size="16" text-anchor="end" font-weight="normal" >0.5</text>
<text x="518.1" y="32.95" font-size="16" text-anchor="end" font-weight="normal" >1.0</text>
<text x="522.5" y="160.6" font-size="16" text-anchor="middle" font-weight="normal" >-3</text>
<text x="549.07" y="160.6" font-size="16" text-anchor="middle" font-weight="normal" >-2</text>
<text x="575.63" y="160.6" font-size="16" text-anchor="middle" font-weight="normal" >-1</text>
<text x="602.2" y="160.6" font-size="16" text-anchor="middle" font-weight="normal" >0</text>
<text x="628.77" y="160.6" font-size="16" text-anchor="middle" font-weight="normal" >1</text>
<text x="655.33" y="160.6" font-size="16" text-anchor="middle" font-weight="normal" >2</text>
<text x="681.9" y="160.6" font-size="16" text-anchor="middle" font-weight="normal" >3</text>
<rect x="522.5" y="168.3" width="159.4" height="118.7" fill="none" stroke="#2e2e2e" stroke-width="1.25"/>
<path d="M522.50 287.0v-3M522.50 168.3v3M549.07 287.0v-3M549.07 168.3v3M575.63 287.0v-3M575.63 168.3v3M602.20 287.0v-3M602.20 168.3v3M628.77 287.0v-3M628.77 168.3v3M655.33 287.0v-3M655.33 168.3v3M681.90 287.0v-3M681.90 168.3v3M535.78 287.0v-1.7M535.78 168.3v1.7M562.35 287.0v-1.7M562.35 168.3v1.7M588.92 287.0v-1.7M588.92 168.3v1.7M615.48 287.0v-1.7M615.48 168.3v1.7M642.05 287.0v-1.7M642.05 168.3v1.7M668.62 287.0v-1.7M668.62 168.3v1.7M522.5 287.00h3M681.9 287.00h-3M522.5 228.70h3M681.9 228.70h-3M522.5 170.40h3M681.9 170.40h-3M522.5 257.85h1.7M681.9 257.85h-1.7M522.5 199.55h1.7M681.9 199.55h-1.7" stroke="#2e2e2e" stroke-width="1.1" fill="none"/>
<text x="518.1" y="292" font-size="16" text-anchor="end" font-weight="normal" >0</text>
<text x="518.1" y="233.7" font-size="16" text-anchor="end" font-weight="normal" >0.5</text>
<text x="518.1" y="175.4" font-size="16" text-anchor="end" font-weight="normal" >1.0</text>
<text x="522.5" y="303" font-size="16" text-anchor="middle" font-weight="normal" >-3</text>
<text x="549.07" y="303" font-size="16" text-anchor="middle" font-weight="normal" >-2</text>
<text x="575.63" y="303" font-size="16" text-anchor="middle" font-weight="normal" >-1</text>
<text x="602.2" y="303" font-size="16" text-anchor="middle" font-weight="normal" >0</text>
<text x="628.77" y="303" font-size="16" text-anchor="middle" font-weight="normal" >1</text>
<text x="655.33" y="303" font-size="16" text-anchor="middle" font-weight="normal" >2</text>
<text x="681.9" y="303" font-size="16" text-anchor="middle" font-weight="normal" >3</text>
<rect x="522.5" y="311.2" width="159.4" height="119" fill="none" stroke="#2e2e2e" stroke-width="1.25"/>
<path d="M522.50 430.2v-3M522.50 311.2v3M549.07 430.2v-3M549.07 311.2v3M575.63 430.2v-3M575.63 311.2v3M602.20 430.2v-3M602.20 311.2v3M628.77 430.2v-3M628.77 311.2v3M655.33 430.2v-3M655.33 311.2v3M681.90 430.2v-3M681.90 311.2v3M535.78 430.2v-1.7M535.78 311.2v1.7M562.35 430.2v-1.7M562.35 311.2v1.7M588.92 430.2v-1.7M588.92 311.2v1.7M615.48 430.2v-1.7M615.48 311.2v1.7M642.05 430.2v-1.7M642.05 311.2v1.7M668.62 430.2v-1.7M668.62 311.2v1.7M522.5 430.20h3M681.9 430.20h-3M522.5 372.21h3M681.9 372.21h-3M522.5 314.22h3M681.9 314.22h-3M522.5 401.20h1.7M681.9 401.20h-1.7M522.5 343.21h1.7M681.9 343.21h-1.7" stroke="#2e2e2e" stroke-width="1.1" fill="none"/>
<text x="518.1" y="435.2" font-size="16" text-anchor="end" font-weight="normal" >0</text>
<text x="518.1" y="377.21" font-size="16" text-anchor="end" font-weight="normal" >0.5</text>
<text x="518.1" y="319.22" font-size="16" text-anchor="end" font-weight="normal" >1.0</text>
<text x="522.5" y="446.2" font-size="16" text-anchor="middle" font-weight="normal" >-3</text>
<text x="549.07" y="446.2" font-size="16" text-anchor="middle" font-weight="normal" >-2</text>
<text x="575.63" y="446.2" font-size="16" text-anchor="middle" font-weight="normal" >-1</text>
<text x="602.2" y="446.2" font-size="16" text-anchor="middle" font-weight="normal" >0</text>
<text x="628.77" y="446.2" font-size="16" text-anchor="middle" font-weight="normal" >1</text>
<text x="655.33" y="446.2" font-size="16" text-anchor="middle" font-weight="normal" >2</text>
<text x="681.9" y="446.2" font-size="16" text-anchor="middle" font-weight="normal" >3</text>
<circle cx="69.8" cy="38.0" r="2.0" fill="#0000ff"/>
<text x="79" y="43.7" font-size="16" text-anchor="start" font-weight="normal" >3 K</text>
<circle cx="111.6" cy="38.0" r="2.0" fill="#33ff11"/>
<text x="120.8" y="43.7" font-size="16" text-anchor="start" font-weight="normal" >6 K</text>
<circle cx="153.9" cy="38.0" r="2.0" fill="#ff2a14"/>
<text x="163.1" y="43.7" font-size="16" text-anchor="start" font-weight="normal" >10 K</text>
<circle cx="69.8" cy="57.5" r="2.0" fill="#3f86b8"/>
<text x="79" y="63.2" font-size="16" text-anchor="start" font-weight="normal" >4 K</text>
<circle cx="111.6" cy="57.5" r="2.0" fill="#b48a30"/>
<text x="120.8" y="63.2" font-size="16" text-anchor="start" font-weight="normal" >8 K</text>
<circle cx="153.9" cy="57.5" r="2.0" fill="#820000"/>
<text x="163.1" y="63.2" font-size="16" text-anchor="start" font-weight="normal" >20 K</text>
<circle cx="279.0" cy="38.2" r="2.0" fill="#0000ff"/>
<text x="288.2" y="43.9" font-size="16" text-anchor="start" font-weight="normal" >2.5 K</text>
<circle cx="332.9" cy="38.2" r="2.0" fill="#33ff11"/>
<text x="342.1" y="43.9" font-size="16" text-anchor="start" font-weight="normal" >6 K</text>
<circle cx="374.8" cy="38.2" r="2.0" fill="#ff2a14"/>
<text x="384" y="43.9" font-size="16" text-anchor="start" font-weight="normal" >10 K</text>
<circle cx="279.0" cy="57.4" r="2.0" fill="#3f86b8"/>
<text x="288.2" y="63.1" font-size="16" text-anchor="start" font-weight="normal" >4 K</text>
<circle cx="332.9" cy="57.4" r="2.0" fill="#b48a30"/>
<text x="342.1" y="63.1" font-size="16" text-anchor="start" font-weight="normal" >8 K</text>
<circle cx="374.8" cy="57.4" r="2.0" fill="#820000"/>
<text x="384" y="63.1" font-size="16" text-anchor="start" font-weight="normal" >20 K</text>
<line x1="529.8" y1="60.5" x2="541.9" y2="60.5" stroke="#0000ff" stroke-width="3.4" stroke-linecap="round"/>
<text x="549.2" y="65.7" font-size="16" text-anchor="start" font-weight="normal" >2.5 K</text>
<line x1="529.8" y1="80.0" x2="541.9" y2="80.0" stroke="#3f86b8" stroke-width="3.4" stroke-linecap="round"/>
<text x="549.2" y="85.2" font-size="16" text-anchor="start" font-weight="normal" >4 K</text>
<line x1="529.8" y1="99.4" x2="541.9" y2="99.4" stroke="#33ff11" stroke-width="3.4" stroke-linecap="round"/>
<text x="549.2" y="104.6" font-size="16" text-anchor="start" font-weight="normal" >6 K</text>
<line x1="629.0" y1="60.6" x2="641.4" y2="60.6" stroke="#b48a30" stroke-width="3.4" stroke-linecap="round"/>
<text x="644" y="65.8" font-size="16" text-anchor="start" font-weight="normal" >8 K</text>
<line x1="629.0" y1="79.9" x2="641.4" y2="79.9" stroke="#ff2a14" stroke-width="3.4" stroke-linecap="round"/>
<text x="644" y="85.1" font-size="16" text-anchor="start" font-weight="normal" >10 K</text>
<line x1="629.0" y1="99.0" x2="641.4" y2="99.0" stroke="#820000" stroke-width="3.4" stroke-linecap="round"/>
<text x="644" y="104.2" font-size="16" text-anchor="start" font-weight="normal" >20 K</text>
<text x="129.2" y="82.6" font-size="16" text-anchor="middle"><tspan font-weight="bold">H</tspan> || [111]</text>
<text x="129.2" y="277.4" font-size="16" text-anchor="middle"><tspan font-weight="bold">H</tspan> || [1<tspan text-decoration="overline">1</tspan>0]</text>
<text x="129.2" y="330.8" font-size="16" text-anchor="middle"><tspan font-weight="bold">H</tspan> || [001]</text>
<text x="343.8" y="135.2" font-size="16" text-anchor="middle"><tspan font-weight="bold">H</tspan> || [111]</text>
<text x="343.8" y="278" font-size="16" text-anchor="middle"><tspan font-weight="bold">H</tspan> || [1<tspan text-decoration="overline">1</tspan>0]</text>
<text x="343.8" y="331" font-size="16" text-anchor="middle"><tspan font-weight="bold">H</tspan> || [001]</text>
<text x="645" y="43.6" font-size="16" text-anchor="middle"><tspan font-weight="bold">H</tspan> || [111]</text>
<text x="644.5" y="187.2" font-size="16" text-anchor="middle"><tspan font-weight="bold">H</tspan> || [1<tspan text-decoration="overline">1</tspan>0]</text>
<text x="645" y="331" font-size="16" text-anchor="middle"><tspan font-weight="bold">H</tspan> || [001]</text>
<text x="39.2" y="12.6" font-size="16" font-weight="bold">(a)</text>
<text x="80.6" y="12.6" font-size="16.4" font-weight="bold">Tb<tspan font-size="11.7" dy="3.3">2</tspan><tspan dy="-3.3">Ti</tspan><tspan font-size="11.7" dy="3.3">2</tspan><tspan dy="-3.3">O</tspan><tspan font-size="11.7" dy="3.3">7</tspan><tspan dy="-3.3"> - C2</tspan></text>
<text x="254.2" y="12.6" font-size="16" font-weight="bold">(b)</text>
<text x="311.0" y="12.6" font-size="16.4" font-weight="bold">Ho<tspan font-size="11.7" dy="3.3">2</tspan><tspan dy="-3.3">Ti</tspan><tspan font-size="11.7" dy="3.3">2</tspan><tspan dy="-3.3">O</tspan><tspan font-size="11.7" dy="3.3">7</tspan></text>
<text x="512.2" y="12.6" font-size="16" font-weight="bold">(c)</text>
<text x="538.8" y="12.6" font-size="16.8" font-weight="bold">Khomskii's model</text>
<text x="129.2" y="470.5" font-size="16" text-anchor="middle">μ<tspan font-size="11" dy="4.5">0</tspan><tspan dy="-4.5">H (T)</tspan></text>
<text x="343.8" y="470.5" font-size="16" text-anchor="middle">μ<tspan font-size="11" dy="4.5">0</tspan><tspan dy="-4.5">H (T)</tspan></text>
<text x="602.2" y="470.5" font-size="16" text-anchor="middle">μ<tspan font-size="11" dy="4.5">0</tspan><tspan dy="-4.5">H (T)</tspan></text>
<text transform="translate(16.9 84.8) rotate(-90)" font-size="16" text-anchor="middle">Δε'<tspan font-size="11.5" dy="4.6">r</tspan><tspan font-size="11.5" dy="-10.8">[111]</tspan></text>
<text transform="translate(16.9 227.7) rotate(-90)" font-size="16" text-anchor="middle">Δε'<tspan font-size="11.5" dy="4.6">r</tspan><tspan font-size="11.5" dy="-10.8">[1<tspan text-decoration="overline">1</tspan>0]</tspan></text>
<text transform="translate(16.9 370.7) rotate(-90)" font-size="16" text-anchor="middle">Δε'<tspan font-size="11.5" dy="4.6">r</tspan><tspan font-size="11.5" dy="-10.8">[001]</tspan></text>
<text transform="translate(490.2 85.3) rotate(-90)" font-size="16" text-anchor="middle">ε'<tspan font-size="11.5" dy="4.6">r</tspan><tspan font-size="11.5" dy="-10.8">[111]</tspan><tspan dy="6.2"> -1</tspan></text>
<text transform="translate(490.2 228.0) rotate(-90)" font-size="16" text-anchor="middle">ε'<tspan font-size="11.5" dy="4.6">r</tspan><tspan font-size="11.5" dy="-10.8">[1<tspan text-decoration="overline">1</tspan>0]</tspan><tspan dy="6.2"> -1</tspan></text>
<text transform="translate(490.2 371.0) rotate(-90)" font-size="16" text-anchor="middle">ε'<tspan font-size="11.5" dy="4.6">r</tspan><tspan font-size="11.5" dy="-10.8">[001]</tspan><tspan dy="6.2"> -1</tspan></text>
</svg>
</body></html>
